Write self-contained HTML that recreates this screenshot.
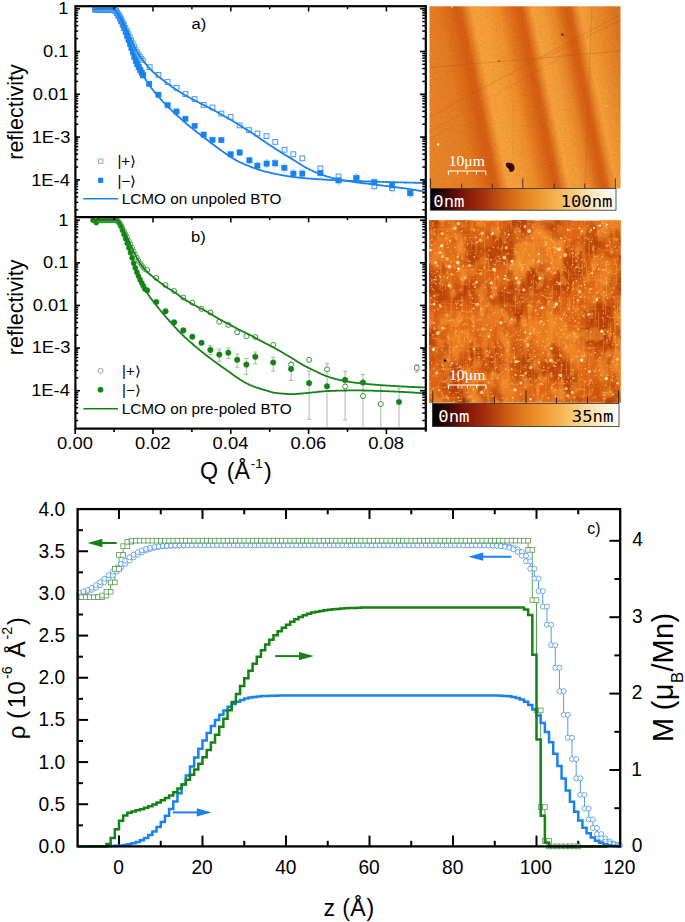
<!DOCTYPE html>
<html lang="en"><head><meta charset="utf-8"><title>Figure</title>
<style>html,body{margin:0;padding:0;background:#fff}svg{display:block}</style>
</head><body>
<svg width="685" height="922" viewBox="0 0 685 922">
<rect width="685" height="922" fill="#fff"/>
<defs>
<linearGradient id="afm1g" gradientUnits="userSpaceOnUse" x1="389.5" y1="6.3" x2="619.82" y2="-40.92">
<stop offset="0.0000" stop-color="#e98628"/>
<stop offset="0.1083" stop-color="#e78226"/>
<stop offset="0.1992" stop-color="#e47a20"/>
<stop offset="0.2450" stop-color="#dc6a18"/>
<stop offset="0.2742" stop-color="#d45d12"/>
<stop offset="0.2950" stop-color="#d66014"/>
<stop offset="0.3158" stop-color="#e58026"/>
<stop offset="0.3408" stop-color="#f7a03c"/>
<stop offset="0.3867" stop-color="#f59e3a"/>
<stop offset="0.4533" stop-color="#ee8e2c"/>
<stop offset="0.4808" stop-color="#e57a20"/>
<stop offset="0.5142" stop-color="#db6817"/>
<stop offset="0.5350" stop-color="#d45d12"/>
<stop offset="0.5517" stop-color="#d76215"/>
<stop offset="0.5725" stop-color="#e6842a"/>
<stop offset="0.5933" stop-color="#f7a03c"/>
<stop offset="0.6392" stop-color="#f29a38"/>
<stop offset="0.6833" stop-color="#e88528"/>
<stop offset="0.7125" stop-color="#db6a18"/>
<stop offset="0.7333" stop-color="#d45d12"/>
<stop offset="0.7500" stop-color="#d76215"/>
<stop offset="0.7708" stop-color="#e6842a"/>
<stop offset="0.7917" stop-color="#f59e3a"/>
<stop offset="0.8375" stop-color="#ee9230"/>
<stop offset="0.8958" stop-color="#e57f24"/>
<stop offset="0.9375" stop-color="#db721e"/>
<stop offset="1.0000" stop-color="#dd7620"/>
</linearGradient>
<linearGradient id="cbar" x1="0" y1="0" x2="1" y2="0">
<stop offset="0" stop-color="#000000"/>
<stop offset="0.07" stop-color="#300403"/>
<stop offset="0.17" stop-color="#7a1407"/>
<stop offset="0.29" stop-color="#a8300b"/>
<stop offset="0.4" stop-color="#cc5c12"/>
<stop offset="0.5" stop-color="#e2801e"/>
<stop offset="0.6" stop-color="#f09c34"/>
<stop offset="0.7" stop-color="#f8b858"/>
<stop offset="0.8" stop-color="#fcd490"/>
<stop offset="0.9" stop-color="#feecc8"/>
<stop offset="1" stop-color="#ffffff"/>
</linearGradient>
<filter id="grain1" x="0" y="0" width="1" height="1" color-interpolation-filters="sRGB"><feTurbulence type="fractalNoise" baseFrequency="0.55" numOctaves="2" seed="4"/><feColorMatrix type="matrix" values="0 0 0 0 0.45  0 0 0 0 0.18  0 0 0 0 0  1.4 0 0 0 -0.62"/></filter>
<filter id="grain1b" x="0" y="0" width="1" height="1" color-interpolation-filters="sRGB"><feTurbulence type="fractalNoise" baseFrequency="0.5" numOctaves="2" seed="11"/><feColorMatrix type="matrix" values="0 0 0 0 1  0 0 0 0 0.78  0 0 0 0 0.4  1.2 0 0 0 -0.55"/></filter>
<filter id="a2lo" x="0" y="0" width="1" height="1" color-interpolation-filters="sRGB"><feTurbulence type="fractalNoise" baseFrequency="0.03 0.022" numOctaves="3" seed="7"/><feColorMatrix type="matrix" values="0 0 0 0 0.95  0 0 0 0 0.55  0 0 0 0 0.17  4.2 0 0 0 -1.85"/></filter>
<filter id="a2dk" x="0" y="0" width="1" height="1" color-interpolation-filters="sRGB"><feTurbulence type="fractalNoise" baseFrequency="0.034 0.026" numOctaves="3" seed="23"/><feColorMatrix type="matrix" values="0 0 0 0 0.7  0 0 0 0 0.23  0 0 0 0 0.02  4.2 0 0 0 -1.78"/></filter>
<filter id="a2md" x="0" y="0" width="1" height="1" color-interpolation-filters="sRGB"><feTurbulence type="fractalNoise" baseFrequency="0.09 0.07" numOctaves="2" seed="41"/><feColorMatrix type="matrix" values="0 0 0 0 0.96  0 0 0 0 0.6  0 0 0 0 0.2  5.0 0 0 0 -2.6"/></filter>
<filter id="a2st" x="0" y="0" width="1" height="1" color-interpolation-filters="sRGB"><feTurbulence type="fractalNoise" baseFrequency="0.3 0.03" numOctaves="2" seed="5"/><feColorMatrix type="matrix" values="0 0 0 0 0.97  0 0 0 0 0.6  0 0 0 0 0.2  5.0 0 0 0 -2.85"/></filter>
<filter id="a2sth" x="0" y="0" width="1" height="1" color-interpolation-filters="sRGB"><feTurbulence type="fractalNoise" baseFrequency="0.03 0.28" numOctaves="2" seed="9"/><feColorMatrix type="matrix" values="0 0 0 0 0.96  0 0 0 0 0.56  0 0 0 0 0.18  5.0 0 0 0 -2.95"/></filter>
<filter id="a2sp" x="0" y="0" width="1" height="1" color-interpolation-filters="sRGB"><feTurbulence type="fractalNoise" baseFrequency="0.36" numOctaves="1" seed="2"/><feColorMatrix type="matrix" values="0 0 0 0 1  0 0 0 0 0.78  0 0 0 0 0.38  10 0 0 0 -6.5"/></filter>
<filter id="a2sp2" x="0" y="0" width="1" height="1" color-interpolation-filters="sRGB"><feTurbulence type="fractalNoise" baseFrequency="0.22" numOctaves="2" seed="31"/><feColorMatrix type="matrix" values="0 0 0 0 1  0 0 0 0 0.74  0 0 0 0 0.34  9 0 0 0 -5.9"/></filter>
<filter id="blur1" x="-0.5" y="-0.5" width="2" height="2"><feGaussianBlur stdDeviation="0.7"/></filter>
<clipPath id="clip1"><rect x="429.5" y="6.3" width="191" height="182.1"/></clipPath>
<clipPath id="clip2"><rect x="429.2" y="220.6" width="191.4" height="182"/></clipPath>
</defs>
<g id="afm1">
<rect x="429.5" y="6.3" width="191" height="182.1" fill="url(#afm1g)"/>
<rect x="429.5" y="6.3" width="191" height="182.1" filter="url(#grain1)" opacity="0.22"/>
<rect x="429.5" y="6.3" width="191" height="182.1" filter="url(#grain1b)" opacity="0.16"/>
<g clip-path="url(#clip1)" stroke="#a8520c" stroke-opacity="0.4" stroke-width="0.7" fill="none">
<line x1="429.4" y1="67.7" x2="620.5" y2="51.1"/>
<line x1="429.4" y1="116.8" x2="620.5" y2="14.6"/>
<line x1="429.4" y1="132" x2="560" y2="58" stroke-opacity="0.2"/>
<line x1="592" y1="6.3" x2="585.2" y2="188.4" stroke-opacity="0.35"/>
<line x1="512.6" y1="99" x2="512.6" y2="163" stroke-opacity="0.12"/>
<line x1="540" y1="60" x2="620.5" y2="20" stroke-opacity="0.35"/>
<line x1="455" y1="125" x2="429.4" y2="139" stroke-opacity="0.3"/>
</g>
<path d="M505.9 163.6 q2.2 -2 4.3 -0.6 q3.6 0.4 4.2 3.6 q0.6 3.6 -1.8 5 q-2.6 1.2 -3.4 -1.2 q0.2 -2 -1.5 -2.6 q-2.4 -1.4 -1.8 -4.2z" fill="#3a0a02" filter="url(#blur1)"/>
<circle cx="509.5" cy="167.2" r="1.6" fill="#120200"/>
<ellipse cx="562.4" cy="34.6" rx="1.7" ry="1.1" fill="#7a3408" transform="rotate(35 562.4 34.6)"/>
<circle cx="499" cy="61" r="1" fill="#a8520c"/>
<circle cx="438.1" cy="144.6" r="1.3" fill="#ffe9a8"/>
<circle cx="606" cy="106" r="0.8" fill="#ffd890" opacity="0.8"/>
<circle cx="452" cy="6.9" r="0.9" fill="#ffd890" opacity="0.8"/>
<g stroke="#fff" stroke-width="1" fill="none">
<path d="M448.4 175.2V171H485.8V175.2M457.7 171v3.4M467.1 171v3.8M476.4 171v3.4"/>
</g>
<text x="448.7" y="166.2" font-size="14" fill="#fff" font-family='"Liberation Serif", "DejaVu Serif", serif' textLength="36.2" lengthAdjust="spacingAndGlyphs">10μm</text>
<g stroke="#3a2a20" stroke-width="0.9">
<line x1="430.6" y1="178.3" x2="430.6" y2="188.6"/>
<line x1="522.8" y1="178.3" x2="522.8" y2="188.6"/>
<line x1="615.3" y1="178.3" x2="615.3" y2="188.6"/>
<line x1="461.7" y1="183.6" x2="461.7" y2="188.6"/>
<line x1="492.3" y1="183.6" x2="492.3" y2="188.6"/>
<line x1="554.2" y1="183.6" x2="554.2" y2="188.6"/>
<line x1="584.7" y1="183.6" x2="584.7" y2="188.6"/>
</g>
<rect x="430.3" y="188.6" width="185.7" height="21.6" fill="url(#cbar)" stroke="#2a2a2a" stroke-width="0.8"/>
<text x="433.3" y="206.5" font-size="16.4" fill="#fff" textLength="31.2" lengthAdjust="spacingAndGlyphs" font-family='"DejaVu Sans Mono", "Liberation Mono", monospace'>0nm</text>
<text x="560.5" y="206.5" font-size="16.4" fill="#000" textLength="52" lengthAdjust="spacingAndGlyphs" font-family='"DejaVu Sans Mono", "Liberation Mono", monospace'>100nm</text>
</g>
<g id="afm2">
<rect x="429.2" y="220.6" width="191.4" height="182" fill="#dc6414"/>
<rect x="429.2" y="220.6" width="191.4" height="182" filter="url(#a2lo)" opacity="0.8"/>
<rect x="429.2" y="220.6" width="191.4" height="182" filter="url(#a2dk)" opacity="0.85"/>
<rect x="429.2" y="220.6" width="191.4" height="182" filter="url(#a2md)" opacity="0.55"/>
<rect x="429.2" y="220.6" width="191.4" height="182" filter="url(#a2st)" opacity="0.45"/>
<rect x="429.2" y="220.6" width="191.4" height="182" filter="url(#a2sth)" opacity="0.35"/>
<rect x="429.2" y="220.6" width="191.4" height="182" filter="url(#a2sp)" opacity="0.55"/>
<rect x="429.2" y="220.6" width="191.4" height="182" filter="url(#a2sp2)" opacity="0.5"/>
<g><circle cx="520.08" cy="339.95" r="0.88" fill="#ffd27e" opacity="0.61"/><circle cx="432.26" cy="289.06" r="0.69" fill="#ffd27e" opacity="0.91"/><circle cx="561" cy="329.86" r="0.83" fill="#ffd27e" opacity="0.85"/><circle cx="457.72" cy="300.81" r="0.63" fill="#ffd27e" opacity="0.96"/><circle cx="441.34" cy="368.99" r="0.59" fill="#ffd27e" opacity="0.86"/><circle cx="494.03" cy="294.43" r="1.02" fill="#ffd27e" opacity="0.58"/><circle cx="603.51" cy="313.21" r="0.6" fill="#ffd27e" opacity="0.99"/><circle cx="609.51" cy="241.85" r="0.76" fill="#ffd27e" opacity="0.61"/><circle cx="489.4" cy="333.46" r="0.63" fill="#ffd27e" opacity="0.86"/><circle cx="439.93" cy="252.42" r="1.36" fill="#ffe3a4" opacity="0.74"/><circle cx="543.08" cy="307.42" r="0.74" fill="#ffd27e" opacity="0.56"/><circle cx="567.77" cy="395.74" r="1.6" fill="#ffe3a4" opacity="0.71"/><circle cx="498.98" cy="345.82" r="0.89" fill="#ffd27e" opacity="0.6"/><circle cx="474.7" cy="287" r="0.81" fill="#ffd27e" opacity="0.91"/><circle cx="524.9" cy="226.67" r="1.39" fill="#ffe3a4" opacity="0.78"/><circle cx="472.28" cy="298.5" r="0.74" fill="#ffd27e" opacity="0.9"/><circle cx="449.63" cy="320.59" r="0.64" fill="#ffd27e" opacity="0.86"/><circle cx="437.18" cy="271.38" r="0.72" fill="#ffd27e" opacity="0.84"/><circle cx="440.06" cy="304.27" r="0.65" fill="#ffd27e" opacity="0.68"/><circle cx="520.4" cy="394.17" r="0.79" fill="#ffd27e" opacity="0.98"/><circle cx="461.94" cy="387.96" r="0.73" fill="#ffd27e" opacity="0.64"/><circle cx="571.97" cy="385.77" r="0.55" fill="#ffd27e" opacity="0.67"/><circle cx="576.17" cy="283.12" r="0.67" fill="#ffd27e" opacity="0.55"/><circle cx="437.78" cy="333.03" r="1.9" fill="#ffe3a4" opacity="0.78"/><circle cx="434.73" cy="279.64" r="0.94" fill="#ffd27e" opacity="0.92"/><circle cx="551.3" cy="262.91" r="0.81" fill="#ffd27e" opacity="0.76"/><circle cx="548.95" cy="268.88" r="1.8" fill="#ffe3a4" opacity="0.62"/><circle cx="485.38" cy="378.77" r="0.69" fill="#ffd27e" opacity="0.97"/><circle cx="527.77" cy="346.87" r="0.9" fill="#ffd27e" opacity="0.65"/><circle cx="484.18" cy="267.49" r="0.89" fill="#ffd27e" opacity="0.86"/><circle cx="455.15" cy="381.16" r="0.76" fill="#ffd27e" opacity="0.66"/><circle cx="512.64" cy="397.91" r="0.83" fill="#ffd27e" opacity="0.83"/><circle cx="604.44" cy="394.76" r="0.93" fill="#ffd27e" opacity="0.74"/><circle cx="541.65" cy="383.77" r="0.94" fill="#ffd27e" opacity="0.81"/><circle cx="496.01" cy="287.92" r="0.92" fill="#ffd27e" opacity="0.8"/><circle cx="433.44" cy="349.42" r="1.72" fill="#ffe3a4" opacity="0.95"/><circle cx="602.65" cy="317.89" r="0.94" fill="#ffd27e" opacity="0.72"/><circle cx="448.82" cy="285.17" r="0.71" fill="#ffd27e" opacity="0.97"/><circle cx="560.72" cy="319.09" r="0.86" fill="#ffd27e" opacity="0.61"/><circle cx="531.39" cy="347.71" r="0.75" fill="#ffd27e" opacity="0.66"/><circle cx="507.26" cy="279.85" r="0.89" fill="#ffd27e" opacity="0.61"/><circle cx="447.35" cy="277.85" r="0.9" fill="#ffd27e" opacity="0.89"/><circle cx="555.09" cy="389.85" r="0.73" fill="#ffd27e" opacity="0.56"/><circle cx="522.59" cy="301.46" r="0.64" fill="#ffd27e" opacity="0.85"/><circle cx="494.84" cy="264.5" r="0.71" fill="#ffd27e" opacity="0.97"/><circle cx="431.66" cy="286.46" r="0.69" fill="#ffd27e" opacity="0.64"/><circle cx="512.11" cy="261.27" r="1.45" fill="#ffe3a4" opacity="0.86"/><circle cx="460.95" cy="305.23" r="0.85" fill="#ffd27e" opacity="0.93"/><circle cx="477.53" cy="304.33" r="1.75" fill="#ffe3a4" opacity="0.65"/><circle cx="532.1" cy="358.63" r="0.75" fill="#ffd27e" opacity="0.85"/><circle cx="555.82" cy="396.64" r="0.83" fill="#ffd27e" opacity="0.86"/><circle cx="496.53" cy="353.41" r="0.71" fill="#ffd27e" opacity="0.77"/><circle cx="498.54" cy="276.9" r="0.62" fill="#ffd27e" opacity="0.65"/><circle cx="533.29" cy="266.93" r="0.57" fill="#ffd27e" opacity="0.91"/><circle cx="484.3" cy="390.1" r="0.85" fill="#ffd27e" opacity="0.73"/><circle cx="595.56" cy="383.1" r="0.71" fill="#ffd27e" opacity="0.61"/><circle cx="551.59" cy="373.28" r="0.85" fill="#ffd27e" opacity="0.9"/><circle cx="508.31" cy="332.8" r="0.68" fill="#ffd27e" opacity="0.73"/><circle cx="502.11" cy="290.84" r="0.75" fill="#ffd27e" opacity="0.91"/><circle cx="462.37" cy="258.52" r="0.68" fill="#ffd27e" opacity="0.99"/><circle cx="529.21" cy="231.13" r="1.79" fill="#ffe3a4" opacity="0.92"/><circle cx="498.16" cy="353.84" r="0.7" fill="#ffd27e" opacity="0.61"/><circle cx="594.08" cy="371.55" r="0.66" fill="#ffd27e" opacity="0.95"/><circle cx="434.86" cy="277.11" r="0.56" fill="#ffd27e" opacity="0.63"/><circle cx="461.12" cy="350.45" r="0.7" fill="#ffd27e" opacity="0.64"/><circle cx="465.06" cy="277.75" r="1.55" fill="#ffe3a4" opacity="0.6"/><circle cx="559.94" cy="318.12" r="0.77" fill="#ffd27e" opacity="0.79"/><circle cx="553.59" cy="365.73" r="0.8" fill="#ffd27e" opacity="0.84"/><circle cx="518.7" cy="335.73" r="0.74" fill="#ffd27e" opacity="0.74"/><circle cx="528.05" cy="350.3" r="0.69" fill="#ffd27e" opacity="0.97"/><circle cx="523.3" cy="375.59" r="0.9" fill="#ffd27e" opacity="0.98"/><circle cx="559.46" cy="298.43" r="0.75" fill="#ffd27e" opacity="0.82"/><circle cx="572.98" cy="372.63" r="0.61" fill="#ffd27e" opacity="0.58"/><circle cx="450.68" cy="236.76" r="0.58" fill="#ffd27e" opacity="0.55"/><circle cx="477.46" cy="241.97" r="0.89" fill="#ffd27e" opacity="0.83"/><circle cx="613.1" cy="394.49" r="0.92" fill="#ffd27e" opacity="0.98"/><circle cx="435.52" cy="262.63" r="1.43" fill="#ffe3a4" opacity="0.64"/><circle cx="573.54" cy="297.84" r="0.82" fill="#ffd27e" opacity="0.69"/><circle cx="475.98" cy="237.29" r="0.85" fill="#ffd27e" opacity="0.98"/><circle cx="617.09" cy="359.34" r="1.33" fill="#ffe3a4" opacity="0.68"/><circle cx="605.11" cy="329.62" r="0.88" fill="#ffd27e" opacity="0.56"/><circle cx="473.48" cy="308.44" r="0.92" fill="#ffd27e" opacity="0.92"/><circle cx="573.63" cy="282.75" r="0.74" fill="#ffd27e" opacity="0.94"/><circle cx="617.62" cy="308.9" r="0.65" fill="#ffd27e" opacity="0.83"/><circle cx="531.7" cy="286.7" r="0.67" fill="#ffd27e" opacity="0.72"/><circle cx="546.19" cy="244.43" r="0.82" fill="#ffd27e" opacity="0.98"/><circle cx="571.29" cy="266.98" r="0.76" fill="#ffd27e" opacity="0.6"/><circle cx="569.8" cy="335.34" r="0.64" fill="#ffd27e" opacity="0.8"/><circle cx="543.05" cy="325.49" r="0.74" fill="#ffd27e" opacity="0.69"/><circle cx="497.41" cy="401.16" r="0.72" fill="#ffd27e" opacity="0.78"/><circle cx="517.31" cy="252.74" r="0.75" fill="#ffd27e" opacity="0.64"/><circle cx="491.25" cy="287.68" r="0.72" fill="#ffd27e" opacity="0.97"/><circle cx="486.43" cy="281.43" r="0.88" fill="#ffd27e" opacity="0.73"/><circle cx="527.88" cy="338.16" r="0.59" fill="#ffd27e" opacity="0.85"/><circle cx="449.36" cy="266.64" r="1.89" fill="#ffe3a4" opacity="0.85"/><circle cx="462.7" cy="300.49" r="0.69" fill="#ffd27e" opacity="0.93"/><circle cx="474.37" cy="256.92" r="0.87" fill="#ffd27e" opacity="0.84"/><circle cx="541.9" cy="307.79" r="1.41" fill="#ffe3a4" opacity="0.97"/><circle cx="504.4" cy="305.36" r="0.73" fill="#ffd27e" opacity="0.87"/><circle cx="572.53" cy="264.65" r="0.81" fill="#ffd27e" opacity="0.88"/><circle cx="525.2" cy="340.83" r="0.86" fill="#ffd27e" opacity="0.87"/><circle cx="497.49" cy="276.78" r="0.56" fill="#ffd27e" opacity="0.95"/><circle cx="579.8" cy="291.85" r="1.81" fill="#ffe3a4" opacity="0.62"/><circle cx="588.67" cy="297.35" r="0.71" fill="#ffd27e" opacity="0.67"/><circle cx="508.58" cy="230.92" r="0.58" fill="#ffd27e" opacity="0.6"/><circle cx="488.4" cy="250.13" r="0.61" fill="#ffd27e" opacity="0.92"/><circle cx="502.11" cy="309.85" r="0.85" fill="#ffd27e" opacity="0.97"/><circle cx="457.87" cy="262.65" r="1.82" fill="#ffe3a4" opacity="0.97"/><circle cx="530.28" cy="287.67" r="0.64" fill="#ffd27e" opacity="0.96"/><circle cx="575.15" cy="320.9" r="0.95" fill="#ffd27e" opacity="0.67"/><circle cx="531.29" cy="384.78" r="0.6" fill="#ffd27e" opacity="0.83"/><circle cx="465.31" cy="372.4" r="1.58" fill="#ffe3a4" opacity="0.75"/><circle cx="434.27" cy="310.53" r="0.73" fill="#ffd27e" opacity="0.73"/><circle cx="444.92" cy="387.25" r="0.81" fill="#ffd27e" opacity="0.8"/><circle cx="589.73" cy="382.94" r="0.82" fill="#ffd27e" opacity="0.79"/><circle cx="590.63" cy="288.66" r="1.02" fill="#ffd27e" opacity="0.91"/><circle cx="530.16" cy="333.63" r="1.2" fill="#ffe3a4" opacity="0.73"/><circle cx="581.65" cy="356.01" r="0.81" fill="#ffd27e" opacity="0.9"/><circle cx="558.47" cy="378.05" r="0.88" fill="#ffd27e" opacity="0.71"/><circle cx="484.52" cy="236.37" r="0.61" fill="#ffd27e" opacity="0.57"/><circle cx="614.98" cy="246.93" r="0.85" fill="#ffd27e" opacity="0.61"/><circle cx="613.2" cy="317.5" r="0.64" fill="#ffd27e" opacity="0.92"/><circle cx="593.11" cy="397.62" r="0.66" fill="#ffd27e" opacity="0.73"/><circle cx="555.35" cy="272.45" r="0.83" fill="#ffd27e" opacity="0.87"/><circle cx="572.54" cy="369.91" r="0.93" fill="#ffd27e" opacity="0.68"/><circle cx="573.3" cy="299.66" r="0.63" fill="#ffd27e" opacity="0.56"/><circle cx="548.06" cy="286.03" r="0.6" fill="#ffd27e" opacity="0.77"/><circle cx="508.78" cy="280.15" r="0.83" fill="#ffd27e" opacity="0.79"/><circle cx="530.54" cy="399.31" r="1.27" fill="#ffe3a4" opacity="0.94"/><circle cx="489.89" cy="390.26" r="0.58" fill="#ffd27e" opacity="0.69"/><circle cx="606.7" cy="340.66" r="0.9" fill="#ffd27e" opacity="0.64"/><circle cx="453.24" cy="394.34" r="0.58" fill="#ffd27e" opacity="0.63"/><circle cx="511.8" cy="369.06" r="0.89" fill="#ffd27e" opacity="1"/><circle cx="577.79" cy="300.31" r="1.28" fill="#ffe3a4" opacity="0.57"/><circle cx="611.91" cy="380.21" r="0.88" fill="#ffd27e" opacity="0.77"/><circle cx="468.79" cy="261.08" r="0.58" fill="#ffd27e" opacity="0.59"/><circle cx="520.94" cy="382.93" r="1.46" fill="#ffe3a4" opacity="0.85"/><circle cx="518.82" cy="361.31" r="0.9" fill="#ffd27e" opacity="0.99"/><circle cx="590.37" cy="343.63" r="0.85" fill="#ffd27e" opacity="0.63"/><circle cx="519.52" cy="302.18" r="0.63" fill="#ffd27e" opacity="0.64"/><circle cx="508.11" cy="253.25" r="0.86" fill="#ffd27e" opacity="0.7"/><circle cx="617.31" cy="344.74" r="0.81" fill="#ffd27e" opacity="0.75"/><circle cx="504.38" cy="257.67" r="1.82" fill="#ffe3a4" opacity="0.84"/><circle cx="553.33" cy="247.54" r="0.82" fill="#ffd27e" opacity="0.63"/><circle cx="491.62" cy="327.27" r="0.64" fill="#ffd27e" opacity="0.65"/><circle cx="568.55" cy="308.85" r="1.14" fill="#ffe3a4" opacity="0.59"/><circle cx="607.93" cy="331.18" r="0.9" fill="#ffd27e" opacity="0.8"/><circle cx="458.35" cy="397.6" r="0.8" fill="#ffd27e" opacity="0.96"/><circle cx="457.9" cy="271.14" r="0.82" fill="#ffd27e" opacity="0.66"/><circle cx="593.02" cy="268.53" r="0.59" fill="#ffd27e" opacity="0.62"/><circle cx="481.69" cy="392.2" r="1.6" fill="#ffe3a4" opacity="0.74"/><circle cx="438.05" cy="371.28" r="0.61" fill="#ffd27e" opacity="0.64"/><circle cx="512.6" cy="376.85" r="0.64" fill="#ffd27e" opacity="0.58"/><circle cx="602.04" cy="223.09" r="0.92" fill="#ffd27e" opacity="0.61"/><circle cx="486.82" cy="258.97" r="0.77" fill="#ffd27e" opacity="0.96"/><circle cx="589.29" cy="318.07" r="0.59" fill="#ffd27e" opacity="0.63"/><circle cx="486.14" cy="364.52" r="1.02" fill="#ffd27e" opacity="0.7"/><circle cx="612.05" cy="248.77" r="0.59" fill="#ffd27e" opacity="0.67"/><circle cx="598.61" cy="268.96" r="0.91" fill="#ffd27e" opacity="0.6"/><circle cx="554.82" cy="252.03" r="0.85" fill="#ffd27e" opacity="0.88"/><circle cx="596.62" cy="300.09" r="1.37" fill="#ffe3a4" opacity="0.98"/><circle cx="603.3" cy="401.35" r="0.6" fill="#ffd27e" opacity="0.67"/><circle cx="562.04" cy="380.98" r="0.68" fill="#ffd27e" opacity="0.9"/><circle cx="520.54" cy="222.32" r="0.59" fill="#ffd27e" opacity="0.55"/><circle cx="473.49" cy="389.49" r="0.89" fill="#ffd27e" opacity="0.94"/><circle cx="603.74" cy="292.3" r="0.9" fill="#ffd27e" opacity="0.84"/><circle cx="561.25" cy="238.27" r="1.14" fill="#ffe3a4" opacity="0.75"/><circle cx="560.43" cy="355.63" r="1.28" fill="#ffe3a4" opacity="0.68"/><circle cx="568.01" cy="230.07" r="1.28" fill="#ffe3a4" opacity="0.73"/><circle cx="489.46" cy="350.05" r="0.64" fill="#ffd27e" opacity="0.61"/><circle cx="442.73" cy="245.17" r="0.86" fill="#ffd27e" opacity="1"/><circle cx="431.32" cy="304.81" r="0.73" fill="#ffd27e" opacity="0.69"/><circle cx="495.29" cy="241.04" r="0.76" fill="#ffd27e" opacity="0.67"/><circle cx="441.5" cy="245.87" r="1.65" fill="#ffe3a4" opacity="0.99"/><circle cx="584.35" cy="354.52" r="0.66" fill="#ffd27e" opacity="0.6"/><circle cx="616.6" cy="344.81" r="0.91" fill="#ffd27e" opacity="0.61"/><circle cx="580.16" cy="317.96" r="0.59" fill="#ffd27e" opacity="0.64"/><circle cx="613.47" cy="333.68" r="0.6" fill="#ffd27e" opacity="0.59"/><circle cx="572.33" cy="284.99" r="0.79" fill="#ffd27e" opacity="0.61"/><circle cx="463.95" cy="311.11" r="0.76" fill="#ffd27e" opacity="0.63"/><circle cx="458.72" cy="301.67" r="0.61" fill="#ffd27e" opacity="0.58"/><circle cx="519.89" cy="230.82" r="0.92" fill="#ffd27e" opacity="0.9"/><circle cx="563.8" cy="392.86" r="0.63" fill="#ffd27e" opacity="0.74"/><circle cx="508.77" cy="234.62" r="1.04" fill="#ffd27e" opacity="0.99"/><circle cx="558.18" cy="398.85" r="0.58" fill="#ffd27e" opacity="0.95"/><circle cx="612.73" cy="361.67" r="0.84" fill="#ffd27e" opacity="0.84"/><circle cx="521.45" cy="375.17" r="0.84" fill="#ffd27e" opacity="0.8"/><circle cx="506.91" cy="334.67" r="0.84" fill="#ffd27e" opacity="0.97"/><circle cx="576.59" cy="280.98" r="0.91" fill="#ffd27e" opacity="0.66"/><circle cx="521.4" cy="316.28" r="0.91" fill="#ffd27e" opacity="0.58"/><circle cx="457.97" cy="254.48" r="0.86" fill="#ffd27e" opacity="0.63"/><circle cx="536.2" cy="380.3" r="0.76" fill="#ffd27e" opacity="0.65"/><circle cx="543.3" cy="295.65" r="0.77" fill="#ffd27e" opacity="0.63"/><circle cx="559.49" cy="283.69" r="1.45" fill="#ffe3a4" opacity="0.86"/><circle cx="605.3" cy="398.71" r="0.56" fill="#ffd27e" opacity="0.97"/><circle cx="449.79" cy="392.39" r="0.94" fill="#ffd27e" opacity="0.67"/><circle cx="565.68" cy="322.93" r="0.78" fill="#ffd27e" opacity="0.83"/><circle cx="516.67" cy="339.91" r="0.9" fill="#ffd27e" opacity="0.55"/><circle cx="551.27" cy="348.49" r="1.48" fill="#ffe3a4" opacity="0.79"/><circle cx="457.66" cy="256.84" r="1.06" fill="#ffd27e" opacity="0.96"/><circle cx="453.61" cy="290.74" r="0.86" fill="#ffd27e" opacity="0.56"/><circle cx="514.86" cy="365.31" r="0.74" fill="#ffd27e" opacity="0.63"/><circle cx="441.49" cy="392.28" r="0.6" fill="#ffd27e" opacity="0.85"/><circle cx="550.98" cy="271.98" r="0.83" fill="#ffd27e" opacity="0.86"/><circle cx="469.59" cy="265.64" r="1.19" fill="#ffe3a4" opacity="0.77"/><circle cx="516.33" cy="361.61" r="1.69" fill="#ffe3a4" opacity="0.83"/><circle cx="532.6" cy="238.1" r="0.84" fill="#ffd27e" opacity="0.74"/><circle cx="573.35" cy="289.3" r="0.61" fill="#ffd27e" opacity="0.72"/><circle cx="587.63" cy="310.98" r="0.88" fill="#ffd27e" opacity="0.58"/><circle cx="472.15" cy="269.47" r="0.79" fill="#ffd27e" opacity="0.6"/><circle cx="609.27" cy="281.22" r="0.55" fill="#ffd27e" opacity="0.66"/><circle cx="525.21" cy="332.45" r="1.08" fill="#ffd27e" opacity="0.99"/><circle cx="592.25" cy="314.21" r="0.87" fill="#ffd27e" opacity="0.69"/><circle cx="458.38" cy="223.43" r="1.8" fill="#ffe3a4" opacity="0.75"/><circle cx="544.19" cy="307.4" r="0.89" fill="#ffd27e" opacity="0.59"/><circle cx="573.03" cy="253.13" r="0.85" fill="#ffd27e" opacity="0.83"/><circle cx="590.79" cy="332.24" r="0.64" fill="#ffd27e" opacity="0.92"/><circle cx="501.05" cy="322.99" r="1.88" fill="#ffe3a4" opacity="0.6"/><circle cx="516.32" cy="278.19" r="1.36" fill="#ffe3a4" opacity="0.96"/><circle cx="580.51" cy="297.05" r="0.93" fill="#ffd27e" opacity="0.86"/><circle cx="452.39" cy="275.02" r="0.62" fill="#ffd27e" opacity="0.92"/><circle cx="505.11" cy="275.72" r="0.91" fill="#ffd27e" opacity="0.99"/><circle cx="456.94" cy="346.06" r="0.66" fill="#ffd27e" opacity="0.91"/><circle cx="571.5" cy="359.93" r="0.84" fill="#ffd27e" opacity="0.61"/><circle cx="591.53" cy="241.51" r="0.84" fill="#ffd27e" opacity="0.98"/><circle cx="481.03" cy="308.1" r="0.89" fill="#ffd27e" opacity="0.84"/><circle cx="491.48" cy="296.55" r="1.64" fill="#ffe3a4" opacity="0.63"/><circle cx="558.95" cy="374.97" r="0.85" fill="#ffd27e" opacity="0.95"/><circle cx="480.37" cy="273.71" r="1.23" fill="#ffe3a4" opacity="0.61"/><circle cx="458.28" cy="380.4" r="1.18" fill="#ffe3a4" opacity="0.88"/><circle cx="467.58" cy="333.46" r="0.56" fill="#ffd27e" opacity="0.81"/><circle cx="572.34" cy="312.48" r="0.86" fill="#ffd27e" opacity="0.6"/><circle cx="516.9" cy="362.63" r="0.74" fill="#ffd27e" opacity="0.88"/><circle cx="543.64" cy="367.03" r="0.92" fill="#ffd27e" opacity="0.69"/><circle cx="585.34" cy="368.63" r="0.76" fill="#ffd27e" opacity="0.87"/><circle cx="508.66" cy="325.3" r="0.71" fill="#ffd27e" opacity="0.76"/><circle cx="488.59" cy="382.6" r="0.86" fill="#ffd27e" opacity="0.83"/><circle cx="529.22" cy="305.18" r="0.64" fill="#ffd27e" opacity="0.84"/><circle cx="514.68" cy="283.51" r="0.81" fill="#ffd27e" opacity="0.61"/><circle cx="552.99" cy="362.52" r="0.73" fill="#ffd27e" opacity="0.62"/><circle cx="613.58" cy="333.15" r="0.71" fill="#ffd27e" opacity="0.59"/><circle cx="538.79" cy="261.06" r="1.64" fill="#ffe3a4" opacity="0.67"/><circle cx="507.3" cy="237.21" r="0.66" fill="#ffd27e" opacity="0.8"/><circle cx="597.37" cy="298.41" r="1.23" fill="#ffe3a4" opacity="0.6"/><circle cx="589.18" cy="289.57" r="0.69" fill="#ffd27e" opacity="0.75"/><circle cx="546.08" cy="261.19" r="0.6" fill="#ffd27e" opacity="0.82"/><circle cx="554.76" cy="322.48" r="0.63" fill="#ffd27e" opacity="0.94"/><circle cx="511.62" cy="319.17" r="1.12" fill="#ffe3a4" opacity="0.77"/><circle cx="510.46" cy="336.52" r="0.66" fill="#ffd27e" opacity="0.66"/><circle cx="473.19" cy="322.12" r="0.7" fill="#ffd27e" opacity="0.97"/><circle cx="595.16" cy="352.48" r="0.75" fill="#ffd27e" opacity="0.92"/><circle cx="538.92" cy="362.48" r="1.11" fill="#ffe3a4" opacity="0.89"/><circle cx="601.39" cy="294.51" r="0.72" fill="#ffd27e" opacity="0.56"/><circle cx="599.89" cy="258.83" r="0.55" fill="#ffd27e" opacity="0.59"/><circle cx="527.79" cy="344.5" r="1.6" fill="#ffe3a4" opacity="0.6"/><circle cx="606.35" cy="378.46" r="1.81" fill="#ffe3a4" opacity="0.93"/><circle cx="559.7" cy="359.69" r="0.56" fill="#ffd27e" opacity="1"/><circle cx="431.03" cy="298.19" r="0.83" fill="#ffd27e" opacity="0.78"/><circle cx="494.42" cy="313.06" r="0.71" fill="#ffd27e" opacity="0.85"/><circle cx="435.9" cy="283.65" r="0.88" fill="#ffd27e" opacity="0.76"/><circle cx="433.95" cy="304.26" r="1.47" fill="#ffe3a4" opacity="0.88"/><circle cx="502.72" cy="398.06" r="0.81" fill="#ffd27e" opacity="0.91"/><circle cx="548.76" cy="368.03" r="0.75" fill="#ffd27e" opacity="0.97"/><circle cx="617.35" cy="383.25" r="1.33" fill="#ffe3a4" opacity="0.7"/><circle cx="599.23" cy="370.23" r="0.85" fill="#ffd27e" opacity="0.8"/><circle cx="432.44" cy="322.25" r="0.58" fill="#ffd27e" opacity="0.79"/><circle cx="472.53" cy="330.95" r="0.63" fill="#ffd27e" opacity="0.7"/><circle cx="576.06" cy="325.9" r="0.62" fill="#ffd27e" opacity="0.99"/><circle cx="434.3" cy="295.89" r="0.91" fill="#ffd27e" opacity="0.81"/><circle cx="553.76" cy="384.17" r="0.6" fill="#ffd27e" opacity="0.78"/><circle cx="477.87" cy="329.49" r="0.78" fill="#ffd27e" opacity="0.83"/><circle cx="581.82" cy="311.92" r="0.76" fill="#ffd27e" opacity="0.8"/><circle cx="462.03" cy="385.91" r="0.75" fill="#ffd27e" opacity="0.77"/><circle cx="589.37" cy="371.61" r="1.64" fill="#ffe3a4" opacity="0.79"/><circle cx="511.59" cy="361.64" r="0.86" fill="#ffd27e" opacity="0.55"/><circle cx="536.84" cy="342.01" r="0.73" fill="#ffd27e" opacity="0.92"/><circle cx="570.64" cy="381.05" r="0.7" fill="#ffd27e" opacity="0.85"/><circle cx="536.48" cy="282.96" r="0.7" fill="#ffd27e" opacity="0.59"/><circle cx="588.56" cy="271.25" r="0.72" fill="#ffd27e" opacity="0.66"/><circle cx="535.64" cy="310.6" r="1.07" fill="#ffd27e" opacity="0.7"/><circle cx="588.43" cy="364.48" r="0.58" fill="#ffd27e" opacity="0.75"/><circle cx="618.28" cy="397.9" r="0.71" fill="#ffd27e" opacity="0.88"/><circle cx="492.87" cy="233.23" r="1.11" fill="#ffe3a4" opacity="1"/><circle cx="515.73" cy="375.09" r="0.79" fill="#ffd27e" opacity="0.96"/><circle cx="571.57" cy="252.65" r="0.56" fill="#ffd27e" opacity="0.63"/><circle cx="545.04" cy="241.42" r="0.59" fill="#ffd27e" opacity="0.72"/><circle cx="440.35" cy="276.9" r="0.87" fill="#ffd27e" opacity="0.65"/><circle cx="579.97" cy="268.52" r="0.73" fill="#ffd27e" opacity="0.73"/><circle cx="591.06" cy="230.22" r="1.09" fill="#ffd27e" opacity="0.99"/><circle cx="535.42" cy="356.61" r="0.81" fill="#ffd27e" opacity="0.85"/><circle cx="560.28" cy="247.88" r="0.65" fill="#ffd27e" opacity="0.96"/><circle cx="471.74" cy="265.34" r="0.58" fill="#ffd27e" opacity="0.87"/><circle cx="579.43" cy="228.31" r="1.1" fill="#ffe3a4" opacity="0.77"/><circle cx="527.55" cy="267.08" r="0.71" fill="#ffd27e" opacity="0.77"/><circle cx="578.55" cy="267.39" r="0.67" fill="#ffd27e" opacity="0.99"/><circle cx="480.41" cy="240.22" r="1.83" fill="#ffe3a4" opacity="0.65"/><circle cx="530.44" cy="378.77" r="0.71" fill="#ffd27e" opacity="0.7"/><circle cx="431.01" cy="244.9" r="0.85" fill="#ffd27e" opacity="0.77"/><circle cx="593.55" cy="301.77" r="0.69" fill="#ffd27e" opacity="0.73"/><circle cx="456.66" cy="308.01" r="0.9" fill="#ffd27e" opacity="0.63"/><circle cx="540.76" cy="401.2" r="0.9" fill="#ffd27e" opacity="0.69"/><circle cx="552.37" cy="241.39" r="0.6" fill="#ffd27e" opacity="0.91"/><circle cx="564.16" cy="334.01" r="0.83" fill="#ffd27e" opacity="0.71"/><circle cx="588.75" cy="314.31" r="1.66" fill="#ffe3a4" opacity="0.7"/><circle cx="584.62" cy="284.58" r="0.86" fill="#ffd27e" opacity="0.93"/><circle cx="610.65" cy="333.51" r="0.65" fill="#ffd27e" opacity="0.62"/><circle cx="587.47" cy="277" r="0.62" fill="#ffd27e" opacity="0.81"/><circle cx="509.28" cy="354.73" r="0.64" fill="#ffd27e" opacity="0.78"/><circle cx="611.25" cy="252.59" r="0.74" fill="#ffd27e" opacity="0.73"/><circle cx="454.83" cy="247.54" r="0.71" fill="#ffd27e" opacity="0.8"/><circle cx="456.16" cy="335.81" r="0.74" fill="#ffd27e" opacity="0.69"/><circle cx="591.31" cy="355.14" r="0.77" fill="#ffd27e" opacity="0.67"/><circle cx="526.74" cy="338.32" r="0.93" fill="#ffd27e" opacity="0.85"/><circle cx="430.4" cy="250.15" r="1.49" fill="#ffe3a4" opacity="0.78"/><circle cx="451.87" cy="363.18" r="1.28" fill="#ffe3a4" opacity="0.67"/><circle cx="444.03" cy="276.7" r="0.81" fill="#ffd27e" opacity="0.75"/><circle cx="431.83" cy="239.22" r="0.67" fill="#ffd27e" opacity="0.92"/><circle cx="612.9" cy="376.74" r="0.8" fill="#ffd27e" opacity="0.71"/><circle cx="599.79" cy="357.61" r="0.87" fill="#ffd27e" opacity="0.87"/><circle cx="607.8" cy="316.29" r="0.68" fill="#ffd27e" opacity="0.88"/><circle cx="606.45" cy="262.35" r="0.74" fill="#ffd27e" opacity="0.89"/><circle cx="581.82" cy="230.92" r="1.22" fill="#ffe3a4" opacity="0.61"/><circle cx="439.4" cy="304.65" r="0.78" fill="#ffd27e" opacity="0.63"/><circle cx="565.2" cy="255.01" r="1.9" fill="#ffe3a4" opacity="0.7"/><circle cx="434.46" cy="234.19" r="0.82" fill="#ffd27e" opacity="0.71"/><circle cx="577.69" cy="295.2" r="0.68" fill="#ffd27e" opacity="0.62"/><circle cx="618.06" cy="359.16" r="0.89" fill="#ffd27e" opacity="0.65"/><circle cx="514.14" cy="357.68" r="0.87" fill="#ffd27e" opacity="0.68"/><circle cx="496.55" cy="367.6" r="0.58" fill="#ffd27e" opacity="0.84"/><circle cx="563.93" cy="314.56" r="0.83" fill="#ffd27e" opacity="0.97"/><circle cx="491.62" cy="356.94" r="0.91" fill="#ffd27e" opacity="0.88"/><circle cx="442.93" cy="346.38" r="0.74" fill="#ffd27e" opacity="0.61"/><circle cx="602.15" cy="269.39" r="0.78" fill="#ffd27e" opacity="0.69"/><circle cx="451.42" cy="274" r="0.86" fill="#ffd27e" opacity="0.84"/><circle cx="571.79" cy="249" r="0.69" fill="#ffd27e" opacity="0.92"/><circle cx="529.56" cy="354.6" r="0.78" fill="#ffd27e" opacity="0.74"/><circle cx="436.46" cy="373.04" r="1.64" fill="#ffe3a4" opacity="0.65"/><circle cx="549.49" cy="344.02" r="0.69" fill="#ffd27e" opacity="0.72"/><circle cx="598.68" cy="268.9" r="0.86" fill="#ffd27e" opacity="0.57"/><circle cx="434.51" cy="229.37" r="0.7" fill="#ffd27e" opacity="0.97"/><circle cx="539.62" cy="308.73" r="0.62" fill="#ffd27e" opacity="0.8"/><circle cx="454.75" cy="233.63" r="0.72" fill="#ffd27e" opacity="0.67"/><circle cx="578.4" cy="323.13" r="0.87" fill="#ffd27e" opacity="0.68"/><circle cx="504.51" cy="242.11" r="0.69" fill="#ffd27e" opacity="1"/><circle cx="557.03" cy="282.19" r="0.86" fill="#ffd27e" opacity="0.96"/><circle cx="583.9" cy="316.12" r="0.63" fill="#ffd27e" opacity="0.57"/><circle cx="443.58" cy="369.27" r="0.94" fill="#ffd27e" opacity="0.87"/><circle cx="567.1" cy="246.8" r="0.84" fill="#ffd27e" opacity="0.55"/><circle cx="436.22" cy="333.14" r="0.55" fill="#ffd27e" opacity="0.74"/><circle cx="497" cy="378.14" r="0.73" fill="#ffd27e" opacity="0.64"/><circle cx="559" cy="249.37" r="1.83" fill="#ffe3a4" opacity="1"/><circle cx="547.33" cy="254.18" r="0.65" fill="#ffd27e" opacity="0.87"/><circle cx="513.37" cy="348.49" r="0.65" fill="#ffd27e" opacity="0.81"/><circle cx="592.11" cy="273.23" r="1.13" fill="#ffe3a4" opacity="0.85"/><circle cx="438.09" cy="265.49" r="0.59" fill="#ffd27e" opacity="0.64"/><circle cx="530.54" cy="367.73" r="1.82" fill="#ffe3a4" opacity="0.66"/><circle cx="607.75" cy="298.28" r="0.88" fill="#ffd27e" opacity="0.88"/><circle cx="481.74" cy="272.16" r="0.77" fill="#ffd27e" opacity="0.7"/><circle cx="568.22" cy="377.51" r="0.88" fill="#ffd27e" opacity="0.57"/><circle cx="581.26" cy="359.85" r="1.17" fill="#ffe3a4" opacity="0.97"/><circle cx="505.28" cy="321.53" r="0.65" fill="#ffd27e" opacity="0.66"/><circle cx="510.1" cy="323.03" r="0.68" fill="#ffd27e" opacity="0.8"/><circle cx="510.9" cy="261.04" r="0.87" fill="#ffd27e" opacity="0.69"/><circle cx="437.08" cy="265.05" r="0.76" fill="#ffd27e" opacity="0.83"/><circle cx="443.17" cy="381.6" r="0.59" fill="#ffd27e" opacity="0.98"/><circle cx="435.59" cy="277.01" r="0.72" fill="#ffd27e" opacity="0.85"/><circle cx="447.12" cy="258.93" r="1.83" fill="#ffe3a4" opacity="0.58"/><circle cx="448.86" cy="282.86" r="0.73" fill="#ffd27e" opacity="0.86"/><circle cx="608.63" cy="335.85" r="0.72" fill="#ffd27e" opacity="0.65"/><circle cx="442.23" cy="233.79" r="1.78" fill="#ffe3a4" opacity="0.72"/><circle cx="472.01" cy="376.91" r="0.67" fill="#ffd27e" opacity="0.73"/><circle cx="598.39" cy="226.02" r="0.73" fill="#ffd27e" opacity="0.64"/><circle cx="514.99" cy="389.91" r="1.68" fill="#ffe3a4" opacity="0.93"/><circle cx="501.54" cy="354.62" r="0.92" fill="#ffd27e" opacity="0.96"/><circle cx="499.25" cy="374.4" r="0.64" fill="#ffd27e" opacity="0.81"/><circle cx="609.73" cy="355.51" r="0.93" fill="#ffd27e" opacity="0.63"/><circle cx="500.72" cy="322.61" r="1.21" fill="#ffe3a4" opacity="0.79"/><circle cx="571.33" cy="345.55" r="0.68" fill="#ffd27e" opacity="0.59"/><circle cx="498.37" cy="256.43" r="0.83" fill="#ffd27e" opacity="0.79"/><circle cx="439.1" cy="390.15" r="1.17" fill="#ffe3a4" opacity="0.67"/><circle cx="611.61" cy="227.26" r="0.63" fill="#ffd27e" opacity="0.71"/><circle cx="589.96" cy="231.96" r="0.81" fill="#ffd27e" opacity="0.89"/><circle cx="548.92" cy="301.12" r="0.88" fill="#ffd27e" opacity="0.87"/><circle cx="521.86" cy="270.08" r="0.87" fill="#ffd27e" opacity="0.91"/><circle cx="448.62" cy="337.31" r="0.76" fill="#ffd27e" opacity="0.62"/><circle cx="492.28" cy="234.07" r="1.5" fill="#ffe3a4" opacity="0.75"/><circle cx="594.52" cy="370.68" r="0.75" fill="#ffd27e" opacity="0.56"/><circle cx="541.48" cy="263.5" r="0.85" fill="#ffd27e" opacity="0.59"/><circle cx="581.53" cy="374.96" r="0.64" fill="#ffd27e" opacity="0.92"/><circle cx="448.03" cy="247.44" r="0.83" fill="#ffd27e" opacity="0.66"/><circle cx="504.64" cy="288.19" r="0.93" fill="#ffd27e" opacity="0.9"/><circle cx="597.79" cy="264.52" r="0.68" fill="#ffd27e" opacity="0.92"/><circle cx="506.39" cy="242.28" r="0.8" fill="#ffd27e" opacity="0.66"/><circle cx="550.17" cy="294.42" r="0.63" fill="#ffd27e" opacity="0.89"/><circle cx="599.02" cy="249.05" r="0.66" fill="#ffd27e" opacity="0.77"/><circle cx="461.14" cy="394.74" r="0.77" fill="#ffd27e" opacity="0.58"/><circle cx="468.07" cy="260.8" r="0.68" fill="#ffd27e" opacity="0.82"/><circle cx="596.76" cy="292.91" r="0.82" fill="#ffd27e" opacity="0.98"/><circle cx="523.81" cy="289.96" r="1.61" fill="#ffe3a4" opacity="0.74"/><circle cx="584.52" cy="266.19" r="0.6" fill="#ffd27e" opacity="0.66"/><circle cx="493.14" cy="375.6" r="0.68" fill="#ffd27e" opacity="0.58"/><circle cx="450.8" cy="365.64" r="0.8" fill="#ffd27e" opacity="0.98"/><circle cx="493.49" cy="247.39" r="0.64" fill="#ffd27e" opacity="0.89"/><circle cx="525.63" cy="373.4" r="1.44" fill="#ffe3a4" opacity="0.59"/><circle cx="591.17" cy="380.43" r="0.84" fill="#ffd27e" opacity="0.79"/><circle cx="578.33" cy="286.03" r="0.56" fill="#ffd27e" opacity="0.98"/><circle cx="518.77" cy="282.58" r="1.82" fill="#ffe3a4" opacity="0.75"/><circle cx="570.77" cy="401.5" r="0.81" fill="#ffd27e" opacity="0.78"/><circle cx="608.03" cy="245.59" r="0.9" fill="#ffd27e" opacity="0.64"/><circle cx="491.6" cy="362.43" r="0.59" fill="#ffd27e" opacity="0.96"/><circle cx="566.25" cy="388.42" r="1.54" fill="#ffe3a4" opacity="0.73"/><circle cx="448.43" cy="385.83" r="0.94" fill="#ffd27e" opacity="0.69"/><circle cx="484.94" cy="395.41" r="0.71" fill="#ffd27e" opacity="0.63"/><circle cx="473.79" cy="349.04" r="1.24" fill="#ffe3a4" opacity="0.86"/><circle cx="543.62" cy="341.53" r="0.63" fill="#ffd27e" opacity="0.9"/><circle cx="449.72" cy="240.57" r="0.85" fill="#ffd27e" opacity="0.96"/><circle cx="560.83" cy="375.4" r="1.6" fill="#ffe3a4" opacity="0.97"/><circle cx="614.1" cy="372.29" r="0.62" fill="#ffd27e" opacity="0.68"/><circle cx="515.26" cy="319.97" r="0.78" fill="#ffd27e" opacity="0.95"/><circle cx="551.81" cy="387.68" r="1.04" fill="#ffd27e" opacity="0.68"/><circle cx="616.55" cy="240.05" r="0.74" fill="#ffd27e" opacity="0.63"/><circle cx="556.23" cy="304.06" r="1.87" fill="#ffe3a4" opacity="0.95"/><circle cx="489.05" cy="336.65" r="1.38" fill="#ffe3a4" opacity="0.75"/><circle cx="617.75" cy="324.39" r="0.56" fill="#ffd27e" opacity="0.8"/><circle cx="454.92" cy="228.26" r="1.68" fill="#ffe3a4" opacity="0.73"/><circle cx="607.33" cy="261.07" r="0.57" fill="#ffd27e" opacity="0.58"/><circle cx="522.69" cy="267.97" r="0.88" fill="#ffd27e" opacity="0.99"/><circle cx="520.41" cy="371.64" r="0.61" fill="#ffd27e" opacity="0.88"/><circle cx="469.85" cy="375.75" r="0.82" fill="#ffd27e" opacity="0.71"/><circle cx="504.14" cy="262.99" r="0.91" fill="#ffd27e" opacity="0.77"/><circle cx="456.99" cy="271.76" r="0.74" fill="#ffd27e" opacity="0.68"/><circle cx="460.65" cy="320.66" r="0.91" fill="#ffd27e" opacity="0.55"/><circle cx="560.48" cy="257.3" r="0.8" fill="#ffd27e" opacity="0.91"/><circle cx="485.74" cy="372.9" r="0.59" fill="#ffd27e" opacity="0.69"/><circle cx="430.55" cy="249.56" r="0.9" fill="#ffd27e" opacity="0.97"/><circle cx="576.13" cy="260.93" r="0.85" fill="#ffd27e" opacity="0.83"/><circle cx="482.23" cy="233.23" r="1.84" fill="#ffe3a4" opacity="0.7"/><circle cx="450.13" cy="364.9" r="0.65" fill="#ffd27e" opacity="0.57"/><circle cx="617.85" cy="257.74" r="0.67" fill="#ffd27e" opacity="0.85"/><circle cx="566.67" cy="338.06" r="0.63" fill="#ffd27e" opacity="0.95"/><circle cx="499.73" cy="258.57" r="0.94" fill="#ffd27e" opacity="0.65"/><circle cx="510.45" cy="268.91" r="0.79" fill="#ffd27e" opacity="0.89"/><circle cx="453.94" cy="401.5" r="0.8" fill="#ffd27e" opacity="0.93"/><circle cx="515.77" cy="288.82" r="0.83" fill="#ffd27e" opacity="0.58"/><circle cx="467.98" cy="243.26" r="0.64" fill="#ffd27e" opacity="0.67"/><circle cx="462.64" cy="387.12" r="0.57" fill="#ffd27e" opacity="0.67"/><circle cx="442.67" cy="327.89" r="1.5" fill="#ffe3a4" opacity="0.72"/><circle cx="578.35" cy="329.23" r="0.91" fill="#ffd27e" opacity="0.88"/><circle cx="479.47" cy="234.37" r="0.7" fill="#ffd27e" opacity="0.64"/><circle cx="570.86" cy="373.54" r="0.58" fill="#ffd27e" opacity="0.81"/><circle cx="532.19" cy="301.89" r="0.67" fill="#ffd27e" opacity="1"/><circle cx="581.67" cy="360.06" r="1.83" fill="#ffe3a4" opacity="0.95"/><circle cx="578.35" cy="341.94" r="0.56" fill="#ffd27e" opacity="0.69"/><circle cx="493.27" cy="361.59" r="0.57" fill="#ffd27e" opacity="0.88"/><circle cx="510.02" cy="240.02" r="0.74" fill="#ffd27e" opacity="0.67"/><circle cx="557.32" cy="268.11" r="0.67" fill="#ffd27e" opacity="0.92"/><circle cx="505.46" cy="360.51" r="0.62" fill="#ffd27e" opacity="0.72"/><circle cx="463.41" cy="266.13" r="0.8" fill="#ffd27e" opacity="0.94"/><circle cx="525.63" cy="378.9" r="0.72" fill="#ffd27e" opacity="0.58"/><circle cx="588.7" cy="273.92" r="0.7" fill="#ffd27e" opacity="0.86"/><circle cx="619.11" cy="317.64" r="0.81" fill="#ffd27e" opacity="0.65"/><circle cx="442.65" cy="285.79" r="0.66" fill="#ffd27e" opacity="0.79"/><circle cx="455.01" cy="267.79" r="0.69" fill="#ffd27e" opacity="0.56"/><circle cx="581.18" cy="285.86" r="0.9" fill="#ffd27e" opacity="0.88"/><circle cx="566.45" cy="315.41" r="0.65" fill="#ffd27e" opacity="0.82"/><circle cx="494.1" cy="269.63" r="1.8" fill="#ffe3a4" opacity="0.93"/><circle cx="601.78" cy="331.18" r="1.56" fill="#ffe3a4" opacity="0.95"/><circle cx="467.27" cy="254.72" r="0.6" fill="#ffd27e" opacity="0.73"/><circle cx="616.5" cy="323.96" r="0.69" fill="#ffd27e" opacity="0.84"/><circle cx="490.93" cy="330.2" r="0.91" fill="#ffd27e" opacity="0.87"/><circle cx="541.34" cy="295.25" r="0.64" fill="#ffd27e" opacity="0.59"/><circle cx="449.21" cy="285.65" r="1.78" fill="#ffe3a4" opacity="0.64"/><circle cx="568.27" cy="288.03" r="0.74" fill="#ffd27e" opacity="0.96"/><circle cx="541.19" cy="321.48" r="1.26" fill="#ffe3a4" opacity="0.68"/><circle cx="451.63" cy="273.98" r="0.91" fill="#ffd27e" opacity="0.58"/><circle cx="525.34" cy="249.82" r="0.8" fill="#ffd27e" opacity="0.57"/><circle cx="554.74" cy="306.95" r="1.21" fill="#ffe3a4" opacity="0.62"/><circle cx="539.85" cy="278.18" r="1.58" fill="#ffe3a4" opacity="0.94"/><circle cx="544.57" cy="346.78" r="0.68" fill="#ffd27e" opacity="0.78"/><circle cx="470.29" cy="341.17" r="0.77" fill="#ffd27e" opacity="0.96"/><circle cx="543.27" cy="352.63" r="0.6" fill="#ffd27e" opacity="0.99"/><circle cx="576.24" cy="267.13" r="0.89" fill="#ffd27e" opacity="0.86"/><circle cx="494.74" cy="273.64" r="0.59" fill="#ffd27e" opacity="0.61"/><circle cx="495.47" cy="271" r="0.65" fill="#ffd27e" opacity="0.95"/><circle cx="468.88" cy="291.53" r="0.61" fill="#ffd27e" opacity="0.74"/><circle cx="442.67" cy="256.74" r="1.53" fill="#ffe3a4" opacity="0.83"/><circle cx="530.17" cy="329.7" r="0.63" fill="#ffd27e" opacity="0.57"/><circle cx="536.61" cy="262.55" r="0.56" fill="#ffd27e" opacity="0.93"/><circle cx="546.52" cy="357.97" r="0.7" fill="#ffd27e" opacity="0.64"/><circle cx="575.97" cy="255.07" r="0.7" fill="#ffd27e" opacity="0.98"/><circle cx="556.1" cy="362.95" r="1.1" fill="#ffd27e" opacity="0.6"/><circle cx="478.05" cy="385.61" r="1.1" fill="#ffd27e" opacity="0.79"/><circle cx="440.5" cy="306.37" r="1.4" fill="#ffe3a4" opacity="0.67"/><circle cx="465.79" cy="361.82" r="0.81" fill="#ffd27e" opacity="0.56"/><circle cx="470.2" cy="237.6" r="0.78" fill="#ffd27e" opacity="0.62"/><circle cx="506.13" cy="247.75" r="1.67" fill="#ffe3a4" opacity="0.57"/><circle cx="564.57" cy="240.84" r="0.94" fill="#ffd27e" opacity="0.81"/><circle cx="573.97" cy="302.43" r="0.92" fill="#ffd27e" opacity="0.72"/><circle cx="555.52" cy="270.25" r="0.62" fill="#ffd27e" opacity="0.86"/><circle cx="607.45" cy="332.12" r="0.66" fill="#ffd27e" opacity="0.64"/><circle cx="470.4" cy="302.21" r="0.74" fill="#ffd27e" opacity="0.69"/><circle cx="543.65" cy="302.07" r="0.65" fill="#ffd27e" opacity="0.59"/><circle cx="549.74" cy="248.22" r="0.86" fill="#ffd27e" opacity="0.6"/><circle cx="504.49" cy="278.79" r="1.14" fill="#ffe3a4" opacity="0.95"/><circle cx="490.94" cy="259.88" r="0.8" fill="#ffd27e" opacity="0.95"/><circle cx="538.8" cy="253.92" r="1.18" fill="#ffe3a4" opacity="0.91"/><circle cx="572.36" cy="392.44" r="1.58" fill="#ffe3a4" opacity="0.85"/><circle cx="585.72" cy="381.48" r="0.71" fill="#ffd27e" opacity="0.92"/><circle cx="538.2" cy="332.65" r="0.73" fill="#ffd27e" opacity="0.82"/><circle cx="512.53" cy="263.82" r="0.86" fill="#ffd27e" opacity="0.66"/><circle cx="515.28" cy="374.71" r="0.9" fill="#ffd27e" opacity="0.59"/><circle cx="611.66" cy="238.12" r="0.66" fill="#ffd27e" opacity="0.56"/><circle cx="592.51" cy="276.15" r="0.59" fill="#ffd27e" opacity="0.7"/><circle cx="551.19" cy="279.23" r="0.56" fill="#ffd27e" opacity="0.71"/><circle cx="551.02" cy="360.24" r="1.84" fill="#ffe3a4" opacity="0.79"/><circle cx="476.72" cy="281.96" r="1.57" fill="#ffe3a4" opacity="0.8"/><circle cx="580.2" cy="291.1" r="0.75" fill="#ffd27e" opacity="0.81"/><circle cx="459.94" cy="366.28" r="0.93" fill="#ffd27e" opacity="0.68"/><circle cx="556.98" cy="284.84" r="0.63" fill="#ffd27e" opacity="0.56"/><circle cx="491.15" cy="282.99" r="1.52" fill="#ffe3a4" opacity="0.97"/></g>
<g stroke="#f6a84a" stroke-width="0.9" stroke-opacity="0.55"><line x1="568.65" y1="269.49" x2="568.65" y2="279.52"/><line x1="595.12" y1="262.23" x2="595.12" y2="268.6"/><line x1="467.98" y1="338.06" x2="467.98" y2="355.71"/><line x1="595.88" y1="366.03" x2="595.88" y2="373.78"/><line x1="606.36" y1="280.62" x2="606.36" y2="289.31"/><line x1="492.38" y1="373.65" x2="492.38" y2="382.24"/><line x1="582.39" y1="263.38" x2="582.39" y2="277.8"/><line x1="605.57" y1="300.97" x2="605.57" y2="314.6"/><line x1="586.49" y1="261.57" x2="586.49" y2="274.43"/><line x1="487.62" y1="234.35" x2="487.62" y2="239.46"/><line x1="533.85" y1="241.35" x2="533.85" y2="251.31"/><line x1="552.29" y1="285.37" x2="552.29" y2="300.02"/><line x1="469.43" y1="349.88" x2="469.43" y2="363.59"/><line x1="469.73" y1="297.05" x2="469.73" y2="301.16"/><line x1="552.85" y1="256.28" x2="552.85" y2="273.68"/><line x1="440.1" y1="323.8" x2="440.1" y2="333.54"/><line x1="507.79" y1="357.59" x2="507.79" y2="367.59"/><line x1="561.48" y1="364.4" x2="561.48" y2="380.45"/><line x1="571.89" y1="385" x2="571.89" y2="401.83"/><line x1="515.64" y1="244.32" x2="515.64" y2="250.01"/><line x1="458.82" y1="332.94" x2="458.82" y2="344.32"/><line x1="522.97" y1="249.22" x2="522.97" y2="258.81"/><line x1="482.34" y1="232.61" x2="482.34" y2="243.41"/><line x1="469.32" y1="278.2" x2="469.32" y2="288.28"/><line x1="507.1" y1="258.48" x2="507.1" y2="272.95"/><line x1="610.57" y1="323.64" x2="610.57" y2="340.57"/><line x1="598.98" y1="227.63" x2="598.98" y2="241.62"/><line x1="616.27" y1="267.73" x2="616.27" y2="281.95"/><line x1="537.47" y1="383.9" x2="537.47" y2="395.03"/><line x1="595.66" y1="298.53" x2="595.66" y2="303.31"/><line x1="529.08" y1="287.15" x2="529.08" y2="292.06"/><line x1="488.39" y1="254.39" x2="488.39" y2="271.02"/><line x1="598.72" y1="311.86" x2="598.72" y2="328.55"/><line x1="506.29" y1="331.35" x2="506.29" y2="344.9"/><line x1="613.78" y1="338.28" x2="613.78" y2="346.21"/><line x1="530.68" y1="354.67" x2="530.68" y2="369.66"/><line x1="477.52" y1="379.67" x2="477.52" y2="391.12"/><line x1="584.27" y1="379.76" x2="584.27" y2="395.39"/><line x1="462.03" y1="297.38" x2="462.03" y2="302.84"/><line x1="471.69" y1="240.12" x2="471.69" y2="247.55"/><line x1="449.51" y1="342.12" x2="449.51" y2="359.59"/><line x1="566.28" y1="363.22" x2="566.28" y2="376.07"/><line x1="523.7" y1="296.25" x2="523.7" y2="300.69"/><line x1="572.41" y1="245.31" x2="572.41" y2="261.77"/><line x1="480.27" y1="300.24" x2="480.27" y2="312.99"/><line x1="515.39" y1="295.1" x2="515.39" y2="313.06"/><line x1="582.99" y1="249.52" x2="582.99" y2="262.8"/><line x1="569.97" y1="271.29" x2="569.97" y2="276.86"/><line x1="532.83" y1="286.71" x2="532.83" y2="296.75"/><line x1="554.61" y1="237.7" x2="554.61" y2="249.87"/><line x1="589.71" y1="354.87" x2="589.71" y2="368.85"/><line x1="463.82" y1="274.85" x2="463.82" y2="283.45"/><line x1="616.05" y1="363.7" x2="616.05" y2="375.5"/><line x1="474.17" y1="338.7" x2="474.17" y2="355.68"/><line x1="612.45" y1="372.46" x2="612.45" y2="379.92"/><line x1="615.61" y1="339.03" x2="615.61" y2="354.24"/><line x1="458.91" y1="377.09" x2="458.91" y2="393.7"/><line x1="558.84" y1="335.31" x2="558.84" y2="347.24"/><line x1="495.25" y1="356.98" x2="495.25" y2="371.12"/><line x1="562.87" y1="319.89" x2="562.87" y2="335.27"/><line x1="514.49" y1="350.24" x2="514.49" y2="364.14"/><line x1="603.22" y1="291.81" x2="603.22" y2="309.14"/><line x1="471.91" y1="308.47" x2="471.91" y2="319.54"/><line x1="609.4" y1="332.7" x2="609.4" y2="341.2"/><line x1="462.4" y1="303.44" x2="462.4" y2="312.72"/><line x1="493.73" y1="286.07" x2="493.73" y2="298.77"/><line x1="559.2" y1="240.39" x2="559.2" y2="245.92"/><line x1="569.61" y1="297.86" x2="569.61" y2="313.3"/><line x1="463.36" y1="366.18" x2="463.36" y2="380.32"/><line x1="548.44" y1="376.8" x2="548.44" y2="383.15"/></g>
<rect x="444" y="359.5" width="2.2" height="2.2" fill="#1a0400"/>
<circle cx="458.5" cy="268.8" r="1.3" fill="#fff"/>
<circle cx="600" cy="225.5" r="1.1" fill="#fff"/><circle cx="607" cy="224.6" r="0.9" fill="#fff"/><circle cx="594" cy="228" r="0.9" fill="#fff"/>
<g stroke="#fff" stroke-width="1" fill="none">
<path d="M448.6 389.2V385H486V389.2M458 385v3.4M467.3 385v3.8M476.6 385v3.4"/>
</g>
<text x="449" y="380.2" font-size="14" fill="#fff" font-family='"Liberation Serif", "DejaVu Serif", serif' textLength="36.4" lengthAdjust="spacingAndGlyphs">10μm</text>
<g stroke="#2a1a10" stroke-width="0.9">
<line x1="432.8" y1="390.5" x2="432.8" y2="403.6"/>
<line x1="526" y1="390.5" x2="526" y2="403.6"/>
<line x1="618.5" y1="390.5" x2="618.5" y2="403.6"/>
<line x1="464" y1="397" x2="464" y2="403.6"/>
<line x1="494.5" y1="397" x2="494.5" y2="403.6"/>
<line x1="556.5" y1="397" x2="556.5" y2="403.6"/>
<line x1="587.6" y1="397" x2="587.6" y2="403.6"/>
</g>
<rect x="432.6" y="403.6" width="186.4" height="23" fill="url(#cbar)" stroke="#2a2a2a" stroke-width="0.8"/>
<text x="438.3" y="421.8" font-size="16.4" fill="#fff" textLength="31.2" lengthAdjust="spacingAndGlyphs" font-family='"DejaVu Sans Mono", "Liberation Mono", monospace'>0nm</text>
<text x="571.8" y="421.8" font-size="16.4" fill="#000" textLength="41.6" lengthAdjust="spacingAndGlyphs" font-family='"DejaVu Sans Mono", "Liberation Mono", monospace'>35nm</text>
</g>
<g id="panel-a">
<g>
<rect x="92.6" y="6.7" width="5.4" height="5.4" fill="#1a82ee" stroke="#1a82ee" stroke-width="0.6"/>
<rect x="94.05" y="6.7" width="5.4" height="5.4" fill="#1a82ee" stroke="#1a82ee" stroke-width="0.6"/>
<rect x="95.5" y="6.7" width="5.4" height="5.4" fill="#1a82ee" stroke="#1a82ee" stroke-width="0.6"/>
<rect x="96.95" y="6.7" width="5.4" height="5.4" fill="#1a82ee" stroke="#1a82ee" stroke-width="0.6"/>
<rect x="98.4" y="6.7" width="5.4" height="5.4" fill="#1a82ee" stroke="#1a82ee" stroke-width="0.6"/>
<rect x="99.85" y="6.7" width="5.4" height="5.4" fill="#1a82ee" stroke="#1a82ee" stroke-width="0.6"/>
<rect x="101.3" y="6.7" width="5.4" height="5.4" fill="#1a82ee" stroke="#1a82ee" stroke-width="0.6"/>
<rect x="102.75" y="6.7" width="5.4" height="5.4" fill="#1a82ee" stroke="#1a82ee" stroke-width="0.6"/>
<rect x="104.2" y="6.7" width="5.4" height="5.4" fill="#1a82ee" stroke="#1a82ee" stroke-width="0.6"/>
<rect x="105.65" y="6.7" width="5.4" height="5.4" fill="#1a82ee" stroke="#1a82ee" stroke-width="0.6"/>
<rect x="107.1" y="6.7" width="5.4" height="5.4" fill="#1a82ee" stroke="#1a82ee" stroke-width="0.6"/>
<rect x="108.55" y="6.7" width="5.4" height="5.4" fill="#1a82ee" stroke="#1a82ee" stroke-width="0.6"/>
<rect x="110" y="6.7" width="5.4" height="5.4" fill="#1a82ee" stroke="#1a82ee" stroke-width="0.6"/>
<rect x="111.45" y="7.15" width="5.4" height="5.4" fill="#1a82ee" stroke="#1a82ee" stroke-width="0.6"/>
<rect x="112.9" y="8.39" width="5.4" height="5.4" fill="#1a82ee" stroke="#1a82ee" stroke-width="0.6"/>
<rect x="114.35" y="10.39" width="5.4" height="5.4" fill="#1a82ee" stroke="#1a82ee" stroke-width="0.6"/>
<rect x="115.8" y="12.86" width="5.4" height="5.4" fill="#1a82ee" stroke="#1a82ee" stroke-width="0.6"/>
<rect x="117.25" y="15.58" width="5.4" height="5.4" fill="#1a82ee" stroke="#1a82ee" stroke-width="0.6"/>
<rect x="118.7" y="18.58" width="5.4" height="5.4" fill="#1a82ee" stroke="#1a82ee" stroke-width="0.6"/>
<rect x="120.15" y="21.8" width="5.4" height="5.4" fill="#1a82ee" stroke="#1a82ee" stroke-width="0.6"/>
<rect x="121.6" y="25.35" width="5.4" height="5.4" fill="#1a82ee" stroke="#1a82ee" stroke-width="0.6"/>
<rect x="123.05" y="29.16" width="5.4" height="5.4" fill="#1a82ee" stroke="#1a82ee" stroke-width="0.6"/>
<rect x="124.5" y="33.03" width="5.4" height="5.4" fill="#1a82ee" stroke="#1a82ee" stroke-width="0.6"/>
<rect x="125.95" y="36.94" width="5.4" height="5.4" fill="#1a82ee" stroke="#1a82ee" stroke-width="0.6"/>
<rect x="127.4" y="40.95" width="5.4" height="5.4" fill="#1a82ee" stroke="#1a82ee" stroke-width="0.6"/>
<rect x="128.85" y="45.07" width="5.4" height="5.4" fill="#1a82ee" stroke="#1a82ee" stroke-width="0.6"/>
<rect x="130.3" y="49.47" width="5.4" height="5.4" fill="#1a82ee" stroke="#1a82ee" stroke-width="0.6"/>
<rect x="131.75" y="54.01" width="5.4" height="5.4" fill="#1a82ee" stroke="#1a82ee" stroke-width="0.6"/>
<rect x="133.2" y="58" width="5.4" height="5.4" fill="#1a82ee" stroke="#1a82ee" stroke-width="0.6"/>
<rect x="134.65" y="61.35" width="5.4" height="5.4" fill="#1a82ee" stroke="#1a82ee" stroke-width="0.6"/>
<rect x="136.1" y="64.39" width="5.4" height="5.4" fill="#1a82ee" stroke="#1a82ee" stroke-width="0.6"/>
<rect x="137.55" y="67.22" width="5.4" height="5.4" fill="#1a82ee" stroke="#1a82ee" stroke-width="0.6"/>
<rect x="139" y="69.96" width="5.4" height="5.4" fill="#1a82ee" stroke="#1a82ee" stroke-width="0.6"/>
<rect x="140.45" y="72.62" width="5.4" height="5.4" fill="#1a82ee" stroke="#1a82ee" stroke-width="0.6"/>
<rect x="93.2" y="6.9" width="4.2" height="4.2" fill="none" stroke="#5aa0ee" stroke-width="0.9"/>
<rect x="94.65" y="6.9" width="4.2" height="4.2" fill="none" stroke="#5aa0ee" stroke-width="0.9"/>
<rect x="96.1" y="6.9" width="4.2" height="4.2" fill="none" stroke="#5aa0ee" stroke-width="0.9"/>
<rect x="97.55" y="6.9" width="4.2" height="4.2" fill="none" stroke="#5aa0ee" stroke-width="0.9"/>
<rect x="99" y="6.9" width="4.2" height="4.2" fill="none" stroke="#5aa0ee" stroke-width="0.9"/>
<rect x="100.45" y="6.9" width="4.2" height="4.2" fill="none" stroke="#5aa0ee" stroke-width="0.9"/>
<rect x="101.9" y="6.9" width="4.2" height="4.2" fill="none" stroke="#5aa0ee" stroke-width="0.9"/>
<rect x="103.35" y="6.9" width="4.2" height="4.2" fill="none" stroke="#5aa0ee" stroke-width="0.9"/>
<rect x="104.8" y="6.9" width="4.2" height="4.2" fill="none" stroke="#5aa0ee" stroke-width="0.9"/>
<rect x="106.25" y="6.9" width="4.2" height="4.2" fill="none" stroke="#5aa0ee" stroke-width="0.9"/>
<rect x="107.7" y="6.9" width="4.2" height="4.2" fill="none" stroke="#5aa0ee" stroke-width="0.9"/>
<rect x="109.15" y="6.9" width="4.2" height="4.2" fill="none" stroke="#5aa0ee" stroke-width="0.9"/>
<rect x="110.6" y="6.9" width="4.2" height="4.2" fill="none" stroke="#5aa0ee" stroke-width="0.9"/>
<rect x="112.05" y="7.26" width="4.2" height="4.2" fill="none" stroke="#5aa0ee" stroke-width="0.9"/>
<rect x="113.5" y="8.28" width="4.2" height="4.2" fill="none" stroke="#5aa0ee" stroke-width="0.9"/>
<rect x="114.95" y="9.89" width="4.2" height="4.2" fill="none" stroke="#5aa0ee" stroke-width="0.9"/>
<rect x="116.4" y="11.91" width="4.2" height="4.2" fill="none" stroke="#5aa0ee" stroke-width="0.9"/>
<rect x="117.85" y="14.17" width="4.2" height="4.2" fill="none" stroke="#5aa0ee" stroke-width="0.9"/>
<rect x="119.3" y="16.68" width="4.2" height="4.2" fill="none" stroke="#5aa0ee" stroke-width="0.9"/>
<rect x="120.75" y="19.36" width="4.2" height="4.2" fill="none" stroke="#5aa0ee" stroke-width="0.9"/>
<rect x="122.2" y="22.34" width="4.2" height="4.2" fill="none" stroke="#5aa0ee" stroke-width="0.9"/>
<rect x="123.65" y="25.49" width="4.2" height="4.2" fill="none" stroke="#5aa0ee" stroke-width="0.9"/>
<rect x="125.1" y="28.62" width="4.2" height="4.2" fill="none" stroke="#5aa0ee" stroke-width="0.9"/>
<rect x="126.55" y="31.71" width="4.2" height="4.2" fill="none" stroke="#5aa0ee" stroke-width="0.9"/>
<rect x="128" y="34.81" width="4.2" height="4.2" fill="none" stroke="#5aa0ee" stroke-width="0.9"/>
<rect x="129.45" y="37.88" width="4.2" height="4.2" fill="none" stroke="#5aa0ee" stroke-width="0.9"/>
<rect x="130.9" y="40.99" width="4.2" height="4.2" fill="none" stroke="#5aa0ee" stroke-width="0.9"/>
<rect x="132.35" y="44.12" width="4.2" height="4.2" fill="none" stroke="#5aa0ee" stroke-width="0.9"/>
<rect x="133.8" y="47.12" width="4.2" height="4.2" fill="none" stroke="#5aa0ee" stroke-width="0.9"/>
<rect x="135.25" y="49.82" width="4.2" height="4.2" fill="none" stroke="#5aa0ee" stroke-width="0.9"/>
<rect x="136.7" y="52.24" width="4.2" height="4.2" fill="none" stroke="#5aa0ee" stroke-width="0.9"/>
<rect x="138.15" y="54.44" width="4.2" height="4.2" fill="none" stroke="#5aa0ee" stroke-width="0.9"/>
<rect x="139.6" y="56.48" width="4.2" height="4.2" fill="none" stroke="#5aa0ee" stroke-width="0.9"/>
<rect x="141.05" y="58.43" width="4.2" height="4.2" fill="none" stroke="#5aa0ee" stroke-width="0.9"/>
</g>
<line x1="239.6" y1="149.5" x2="239.6" y2="155.5" stroke="#a6c9f2" stroke-width="0.6" />
<line x1="238.1" y1="149.5" x2="241.1" y2="149.5" stroke="#a6c9f2" stroke-width="0.6" />
<line x1="238.1" y1="155.5" x2="241.1" y2="155.5" stroke="#a6c9f2" stroke-width="0.6" />
<line x1="249.4" y1="157" x2="249.4" y2="163.5" stroke="#a6c9f2" stroke-width="0.6" />
<line x1="247.9" y1="157" x2="250.9" y2="157" stroke="#a6c9f2" stroke-width="0.6" />
<line x1="247.9" y1="163.5" x2="250.9" y2="163.5" stroke="#a6c9f2" stroke-width="0.6" />
<line x1="257.4" y1="162" x2="257.4" y2="169.5" stroke="#a6c9f2" stroke-width="0.6" />
<line x1="255.9" y1="162" x2="258.9" y2="162" stroke="#a6c9f2" stroke-width="0.6" />
<line x1="255.9" y1="169.5" x2="258.9" y2="169.5" stroke="#a6c9f2" stroke-width="0.6" />
<line x1="266.6" y1="159.5" x2="266.6" y2="167.5" stroke="#a6c9f2" stroke-width="0.6" />
<line x1="265.1" y1="159.5" x2="268.1" y2="159.5" stroke="#a6c9f2" stroke-width="0.6" />
<line x1="265.1" y1="167.5" x2="268.1" y2="167.5" stroke="#a6c9f2" stroke-width="0.6" />
<line x1="275.2" y1="159.5" x2="275.2" y2="167" stroke="#a6c9f2" stroke-width="0.6" />
<line x1="273.7" y1="159.5" x2="276.7" y2="159.5" stroke="#a6c9f2" stroke-width="0.6" />
<line x1="273.7" y1="167" x2="276.7" y2="167" stroke="#a6c9f2" stroke-width="0.6" />
<line x1="284.4" y1="163.5" x2="284.4" y2="172" stroke="#a6c9f2" stroke-width="0.6" />
<line x1="282.9" y1="163.5" x2="285.9" y2="163.5" stroke="#a6c9f2" stroke-width="0.6" />
<line x1="282.9" y1="172" x2="285.9" y2="172" stroke="#a6c9f2" stroke-width="0.6" />
<line x1="293.4" y1="169.5" x2="293.4" y2="177.5" stroke="#a6c9f2" stroke-width="0.6" />
<line x1="291.9" y1="169.5" x2="294.9" y2="169.5" stroke="#a6c9f2" stroke-width="0.6" />
<line x1="291.9" y1="177.5" x2="294.9" y2="177.5" stroke="#a6c9f2" stroke-width="0.6" />
<line x1="302.3" y1="169.5" x2="302.3" y2="177.5" stroke="#a6c9f2" stroke-width="0.6" />
<line x1="300.8" y1="169.5" x2="303.8" y2="169.5" stroke="#a6c9f2" stroke-width="0.6" />
<line x1="300.8" y1="177.5" x2="303.8" y2="177.5" stroke="#a6c9f2" stroke-width="0.6" />
<line x1="320.4" y1="169" x2="320.4" y2="177.5" stroke="#a6c9f2" stroke-width="0.6" />
<line x1="318.9" y1="169" x2="321.9" y2="169" stroke="#a6c9f2" stroke-width="0.6" />
<line x1="318.9" y1="177.5" x2="321.9" y2="177.5" stroke="#a6c9f2" stroke-width="0.6" />
<line x1="338.5" y1="176" x2="338.5" y2="185" stroke="#a6c9f2" stroke-width="0.6" />
<line x1="337" y1="176" x2="340" y2="176" stroke="#a6c9f2" stroke-width="0.6" />
<line x1="337" y1="185" x2="340" y2="185" stroke="#a6c9f2" stroke-width="0.6" />
<line x1="356.4" y1="173.5" x2="356.4" y2="182.5" stroke="#a6c9f2" stroke-width="0.6" />
<line x1="354.9" y1="173.5" x2="357.9" y2="173.5" stroke="#a6c9f2" stroke-width="0.6" />
<line x1="354.9" y1="182.5" x2="357.9" y2="182.5" stroke="#a6c9f2" stroke-width="0.6" />
<line x1="374.3" y1="178" x2="374.3" y2="189.5" stroke="#a6c9f2" stroke-width="0.6" />
<line x1="372.8" y1="178" x2="375.8" y2="178" stroke="#a6c9f2" stroke-width="0.6" />
<line x1="372.8" y1="189.5" x2="375.8" y2="189.5" stroke="#a6c9f2" stroke-width="0.6" />
<line x1="392.1" y1="181" x2="392.1" y2="192" stroke="#a6c9f2" stroke-width="0.6" />
<line x1="390.6" y1="181" x2="393.6" y2="181" stroke="#a6c9f2" stroke-width="0.6" />
<line x1="390.6" y1="192" x2="393.6" y2="192" stroke="#a6c9f2" stroke-width="0.6" />
<line x1="410.3" y1="189" x2="410.3" y2="197.5" stroke="#a6c9f2" stroke-width="0.6" />
<line x1="408.8" y1="189" x2="411.8" y2="189" stroke="#a6c9f2" stroke-width="0.6" />
<line x1="408.8" y1="197.5" x2="411.8" y2="197.5" stroke="#a6c9f2" stroke-width="0.6" />
<rect x="147.3" y="64.7" width="4.8" height="4.8" fill="#fff" stroke="#4a97ec" stroke-width="1"/>
<rect x="156" y="72.5" width="4.8" height="4.8" fill="#fff" stroke="#4a97ec" stroke-width="1"/>
<rect x="165.2" y="79.6" width="4.8" height="4.8" fill="#fff" stroke="#4a97ec" stroke-width="1"/>
<rect x="174.1" y="85.4" width="4.8" height="4.8" fill="#fff" stroke="#4a97ec" stroke-width="1"/>
<rect x="183" y="91.7" width="4.8" height="4.8" fill="#fff" stroke="#4a97ec" stroke-width="1"/>
<rect x="192.2" y="96.7" width="4.8" height="4.8" fill="#fff" stroke="#4a97ec" stroke-width="1"/>
<rect x="201.2" y="102.5" width="4.8" height="4.8" fill="#fff" stroke="#4a97ec" stroke-width="1"/>
<rect x="210.1" y="105.1" width="4.8" height="4.8" fill="#fff" stroke="#4a97ec" stroke-width="1"/>
<rect x="219" y="111.2" width="4.8" height="4.8" fill="#fff" stroke="#4a97ec" stroke-width="1"/>
<rect x="228.2" y="114.6" width="4.8" height="4.8" fill="#fff" stroke="#4a97ec" stroke-width="1"/>
<rect x="237.2" y="123" width="4.8" height="4.8" fill="#fff" stroke="#4a97ec" stroke-width="1"/>
<rect x="246.4" y="127.7" width="4.8" height="4.8" fill="#fff" stroke="#4a97ec" stroke-width="1"/>
<rect x="255" y="131.1" width="4.8" height="4.8" fill="#fff" stroke="#4a97ec" stroke-width="1"/>
<rect x="264.1" y="133.7" width="4.8" height="4.8" fill="#fff" stroke="#4a97ec" stroke-width="1"/>
<rect x="272.9" y="139.5" width="4.8" height="4.8" fill="#fff" stroke="#4a97ec" stroke-width="1"/>
<rect x="282.1" y="147.4" width="4.8" height="4.8" fill="#fff" stroke="#4a97ec" stroke-width="1"/>
<rect x="290.9" y="151.8" width="4.8" height="4.8" fill="#fff" stroke="#4a97ec" stroke-width="1"/>
<rect x="299.9" y="156" width="4.8" height="4.8" fill="#fff" stroke="#4a97ec" stroke-width="1"/>
<rect x="318" y="165.9" width="4.8" height="4.8" fill="#fff" stroke="#4a97ec" stroke-width="1"/>
<rect x="336.1" y="174.1" width="4.8" height="4.8" fill="#fff" stroke="#4a97ec" stroke-width="1"/>
<rect x="354" y="176.2" width="4.8" height="4.8" fill="#fff" stroke="#4a97ec" stroke-width="1"/>
<rect x="371.9" y="183.8" width="4.8" height="4.8" fill="#fff" stroke="#4a97ec" stroke-width="1"/>
<rect x="389.7" y="185.9" width="4.8" height="4.8" fill="#fff" stroke="#4a97ec" stroke-width="1"/>
<rect x="407.9" y="190.2" width="4.8" height="4.8" fill="#fff" stroke="#4a97ec" stroke-width="1"/>
<rect x="146.55" y="81.25" width="5.3" height="5.3" fill="#1a82ee" stroke="#1a82ee" stroke-width="0.5"/>
<rect x="155.75" y="92.05" width="5.3" height="5.3" fill="#1a82ee" stroke="#1a82ee" stroke-width="0.5"/>
<rect x="164.95" y="102.55" width="5.3" height="5.3" fill="#1a82ee" stroke="#1a82ee" stroke-width="0.5"/>
<rect x="173.85" y="108.85" width="5.3" height="5.3" fill="#1a82ee" stroke="#1a82ee" stroke-width="0.5"/>
<rect x="182.75" y="116.15" width="5.3" height="5.3" fill="#1a82ee" stroke="#1a82ee" stroke-width="0.5"/>
<rect x="191.95" y="123.25" width="5.3" height="5.3" fill="#1a82ee" stroke="#1a82ee" stroke-width="0.5"/>
<rect x="200.95" y="131.95" width="5.3" height="5.3" fill="#1a82ee" stroke="#1a82ee" stroke-width="0.5"/>
<rect x="209.85" y="137.15" width="5.3" height="5.3" fill="#1a82ee" stroke="#1a82ee" stroke-width="0.5"/>
<rect x="218.75" y="137.45" width="5.3" height="5.3" fill="#1a82ee" stroke="#1a82ee" stroke-width="0.5"/>
<rect x="227.95" y="151.65" width="5.3" height="5.3" fill="#1a82ee" stroke="#1a82ee" stroke-width="0.5"/>
<rect x="236.95" y="149.85" width="5.3" height="5.3" fill="#1a82ee" stroke="#1a82ee" stroke-width="0.5"/>
<rect x="246.75" y="157.65" width="5.3" height="5.3" fill="#1a82ee" stroke="#1a82ee" stroke-width="0.5"/>
<rect x="254.75" y="163.05" width="5.3" height="5.3" fill="#1a82ee" stroke="#1a82ee" stroke-width="0.5"/>
<rect x="263.95" y="160.95" width="5.3" height="5.3" fill="#1a82ee" stroke="#1a82ee" stroke-width="0.5"/>
<rect x="272.55" y="160.65" width="5.3" height="5.3" fill="#1a82ee" stroke="#1a82ee" stroke-width="0.5"/>
<rect x="281.75" y="165.15" width="5.3" height="5.3" fill="#1a82ee" stroke="#1a82ee" stroke-width="0.5"/>
<rect x="290.75" y="170.95" width="5.3" height="5.3" fill="#1a82ee" stroke="#1a82ee" stroke-width="0.5"/>
<rect x="299.65" y="170.95" width="5.3" height="5.3" fill="#1a82ee" stroke="#1a82ee" stroke-width="0.5"/>
<rect x="317.75" y="170.45" width="5.3" height="5.3" fill="#1a82ee" stroke="#1a82ee" stroke-width="0.5"/>
<rect x="335.85" y="177.75" width="5.3" height="5.3" fill="#1a82ee" stroke="#1a82ee" stroke-width="0.5"/>
<rect x="353.75" y="175.15" width="5.3" height="5.3" fill="#1a82ee" stroke="#1a82ee" stroke-width="0.5"/>
<rect x="371.65" y="179.65" width="5.3" height="5.3" fill="#1a82ee" stroke="#1a82ee" stroke-width="0.5"/>
<rect x="389.45" y="182.75" width="5.3" height="5.3" fill="#1a82ee" stroke="#1a82ee" stroke-width="0.5"/>
<rect x="407.65" y="190.65" width="5.3" height="5.3" fill="#1a82ee" stroke="#1a82ee" stroke-width="0.5"/>
<polyline points="93.6,9.2 94.43,9.2 95.27,9.2 96.1,9.2 96.93,9.2 97.77,9.2 98.6,9.2 99.43,9.2 100.26,9.2 101.1,9.2 101.93,9.2 102.76,9.2 103.6,9.2 104.43,9.2 105.26,9.2 106.1,9.2 106.93,9.2 107.76,9.2 108.6,9.2 109.43,9.2 110.26,9.2 111.09,9.2 111.93,9.2 112.76,9.2 113.59,9.31 114.43,9.73 115.26,10.32 116.09,11.03 116.93,12.03 117.76,13.17 118.59,14.34 119.43,15.62 120.26,16.99 121.09,18.43 121.92,19.94 122.76,21.49 123.59,23.15 124.42,24.9 125.26,26.71 126.09,28.54 126.92,30.34 127.76,32.11 128.59,33.89 129.42,35.67 130.26,37.44 131.09,39.21 131.92,40.97 132.75,42.75 133.59,44.56 134.42,46.36 135.25,48.11 136.09,49.79 136.92,51.36 137.75,52.82 138.59,54.2 139.42,55.51 140.25,56.74 141.09,57.93 141.92,59.08 142.75,60.2 143.58,61.3 144.42,62.37 145.25,63.41 146.08,64.43 146.92,65.41 147.75,66.37 148.58,67.3 149.42,68.2 150.25,69.07 151.08,69.92 151.92,70.74 152.75,71.54 153.58,72.31 154.42,73.07 155.25,73.81 156.08,74.54 156.91,75.25 157.75,75.95 158.58,76.65 159.41,77.33 160.25,78 161.08,78.65 161.91,79.29 162.75,79.92 163.58,80.54 164.41,81.16 165.25,81.77 166.08,82.38 166.91,82.99 167.74,83.61 168.58,84.22 169.41,84.84 170.24,85.46 171.08,86.08 171.91,86.69 172.74,87.29 173.58,87.89 174.41,88.48 175.24,89.06 176.08,89.62 176.91,90.17 177.74,90.71 178.57,91.23 179.41,91.75 180.24,92.26 181.07,92.77 181.91,93.27 182.74,93.76 183.57,94.25 184.41,94.73 185.24,95.21 186.07,95.68 186.91,96.15 187.74,96.61 188.57,97.07 189.4,97.53 190.24,97.97 191.07,98.42 191.9,98.87 192.74,99.31 193.57,99.75 194.4,100.2 195.24,100.64 196.07,101.08 196.9,101.52 197.74,101.95 198.57,102.39 199.4,102.82 200.23,103.25 201.07,103.69 201.9,104.12 202.73,104.55 203.57,104.98 204.4,105.41 205.23,105.84 206.07,106.27 206.9,106.7 207.73,107.12 208.57,107.55 209.4,107.98 210.23,108.41 211.06,108.84 211.9,109.28 212.73,109.72 213.56,110.17 214.4,110.62 215.23,111.07 216.06,111.53 216.9,111.99 217.73,112.45 218.56,112.91 219.4,113.38 220.23,113.84 221.06,114.31 221.89,114.78 222.73,115.25 223.56,115.72 224.39,116.2 225.23,116.68 226.06,117.16 226.89,117.64 227.73,118.12 228.56,118.61 229.39,119.09 230.23,119.58 231.06,120.07 231.89,120.56 232.72,121.05 233.56,121.55 234.39,122.05 235.22,122.55 236.06,123.05 236.89,123.55 237.72,124.05 238.56,124.56 239.39,125.07 240.22,125.58 241.06,126.1 241.89,126.61 242.72,127.13 243.55,127.65 244.39,128.17 245.22,128.7 246.05,129.23 246.89,129.76 247.72,130.29 248.55,130.83 249.39,131.37 250.22,131.91 251.05,132.46 251.89,133.01 252.72,133.56 253.55,134.12 254.38,134.67 255.22,135.23 256.05,135.79 256.88,136.35 257.72,136.91 258.55,137.48 259.38,138.05 260.22,138.62 261.05,139.2 261.88,139.77 262.72,140.35 263.55,140.92 264.38,141.49 265.22,142.06 266.05,142.63 266.88,143.19 267.71,143.75 268.55,144.31 269.38,144.86 270.21,145.42 271.05,145.97 271.88,146.52 272.71,147.07 273.55,147.62 274.38,148.16 275.21,148.7 276.05,149.24 276.88,149.77 277.71,150.3 278.54,150.82 279.38,151.35 280.21,151.86 281.04,152.38 281.88,152.9 282.71,153.41 283.54,153.92 284.38,154.42 285.21,154.93 286.04,155.43 286.88,155.92 287.71,156.41 288.54,156.9 289.37,157.38 290.21,157.88 291.04,158.37 291.87,158.87 292.71,159.38 293.54,159.9 294.37,160.44 295.21,160.98 296.04,161.53 296.87,162.09 297.71,162.65 298.54,163.2 299.37,163.75 300.2,164.29 301.04,164.82 301.87,165.33 302.7,165.82 303.54,166.3 304.37,166.77 305.2,167.23 306.04,167.69 306.87,168.13 307.7,168.57 308.54,169 309.37,169.41 310.2,169.82 311.03,170.22 311.87,170.6 312.7,170.99 313.53,171.36 314.37,171.73 315.2,172.09 316.03,172.45 316.87,172.79 317.7,173.13 318.53,173.47 319.37,173.79 320.2,174.1 321.03,174.41 321.86,174.71 322.7,175 323.53,175.29 324.36,175.57 325.2,175.85 326.03,176.11 326.86,176.38 327.7,176.63 328.53,176.88 329.36,177.12 330.2,177.35 331.03,177.59 331.86,177.81 332.69,178.04 333.53,178.26 334.36,178.47 335.19,178.68 336.03,178.88 336.86,179.08 337.69,179.26 338.53,179.44 339.36,179.61 340.19,179.78 341.03,179.94 341.86,180.09 342.69,180.24 343.52,180.39 344.36,180.54 345.19,180.68 346.02,180.82 346.86,180.95 347.69,181.08 348.52,181.22 349.36,181.34 350.19,181.47 351.02,181.59 351.86,181.71 352.69,181.84 353.52,181.95 354.35,182.07 355.19,182.19 356.02,182.3 356.85,182.42 357.69,182.53 358.52,182.63 359.35,182.74 360.19,182.84 361.02,182.94 361.85,183.04 362.69,183.14 363.52,183.24 364.35,183.34 365.18,183.43 366.02,183.53 366.85,183.62 367.68,183.72 368.52,183.81 369.35,183.91 370.18,184 371.02,184.1 371.85,184.2 372.68,184.3 373.52,184.4 374.35,184.51 375.18,184.61 376.02,184.71 376.85,184.82 377.68,184.92 378.51,185.03 379.35,185.13 380.18,185.24 381.01,185.34 381.85,185.45 382.68,185.56 383.51,185.66 384.35,185.77 385.18,185.88 386.01,185.99 386.85,186.09 387.68,186.2 388.51,186.31 389.34,186.42 390.18,186.52 391.01,186.63 391.84,186.74 392.68,186.84 393.51,186.94 394.34,187.05 395.18,187.15 396.01,187.26 396.84,187.36 397.68,187.46 398.51,187.57 399.34,187.67 400.17,187.78 401.01,187.89 401.84,188 402.67,188.11 403.51,188.22 404.34,188.33 405.17,188.45 406.01,188.57 406.84,188.69 407.67,188.81 408.51,188.94 409.34,189.06 410.17,189.19 411,189.32 411.84,189.46 412.67,189.59 413.5,189.73 414.34,189.87 415.17,190.01 416,190.15 416.84,190.3 417.67,190.44 418.5,190.59 419.34,190.74 420.17,190.89 421,191.05 421.83,191.2 422.67,191.36 423.5,191.52 424.33,191.68 425.17,191.84 426,192" fill="none" stroke="#1a82ee" stroke-width="1.8" stroke-linejoin="round"/>
<polyline points="93.6,9.2 94.43,9.2 95.27,9.2 96.1,9.2 96.93,9.2 97.77,9.2 98.6,9.2 99.43,9.2 100.26,9.2 101.1,9.2 101.93,9.2 102.76,9.2 103.6,9.2 104.43,9.2 105.26,9.2 106.1,9.2 106.93,9.2 107.76,9.2 108.6,9.2 109.43,9.2 110.26,9.2 111.09,9.2 111.93,9.2 112.76,9.2 113.59,9.33 114.43,9.86 115.26,10.58 116.09,11.45 116.93,12.69 117.76,14.09 118.59,15.52 119.43,17.06 120.26,18.7 121.09,20.42 121.92,22.22 122.76,24.09 123.59,26.07 124.42,28.17 125.26,30.35 126.09,32.57 126.92,34.8 127.76,37.02 128.59,39.28 129.42,41.57 130.26,43.89 131.09,46.25 131.92,48.65 132.75,51.2 133.59,53.84 134.42,56.43 135.25,58.83 136.09,60.95 136.92,62.9 137.75,64.72 138.59,66.45 139.42,68.11 140.25,69.73 141.09,71.31 141.92,72.87 142.75,74.4 143.58,75.9 144.42,77.36 145.25,78.79 146.08,80.18 146.92,81.53 147.75,82.84 148.58,84.1 149.42,85.31 150.25,86.48 151.08,87.61 151.92,88.7 152.75,89.77 153.58,90.8 154.42,91.82 155.25,92.82 156.08,93.8 156.91,94.77 157.75,95.74 158.58,96.71 159.41,97.67 160.25,98.62 161.08,99.56 161.91,100.48 162.75,101.4 163.58,102.3 164.41,103.19 165.25,104.07 166.08,104.94 166.91,105.8 167.74,106.65 168.58,107.48 169.41,108.29 170.24,109.1 171.08,109.89 171.91,110.67 172.74,111.45 173.58,112.22 174.41,112.99 175.24,113.75 176.08,114.51 176.91,115.27 177.74,116.03 178.57,116.79 179.41,117.54 180.24,118.29 181.07,119.03 181.91,119.77 182.74,120.5 183.57,121.23 184.41,121.95 185.24,122.66 186.07,123.37 186.91,124.07 187.74,124.76 188.57,125.45 189.4,126.13 190.24,126.81 191.07,127.49 191.9,128.16 192.74,128.82 193.57,129.48 194.4,130.14 195.24,130.8 196.07,131.45 196.9,132.1 197.74,132.74 198.57,133.37 199.4,134.01 200.23,134.64 201.07,135.27 201.9,135.9 202.73,136.54 203.57,137.17 204.4,137.81 205.23,138.45 206.07,139.09 206.9,139.73 207.73,140.37 208.57,141.01 209.4,141.65 210.23,142.28 211.06,142.92 211.9,143.55 212.73,144.17 213.56,144.8 214.4,145.43 215.23,146.06 216.06,146.68 216.9,147.3 217.73,147.92 218.56,148.54 219.4,149.15 220.23,149.76 221.06,150.36 221.89,150.95 222.73,151.55 223.56,152.14 224.39,152.73 225.23,153.31 226.06,153.89 226.89,154.47 227.73,155.03 228.56,155.59 229.39,156.13 230.23,156.66 231.06,157.19 231.89,157.7 232.72,158.22 233.56,158.73 234.39,159.23 235.22,159.72 236.06,160.2 236.89,160.67 237.72,161.13 238.56,161.57 239.39,162 240.22,162.41 241.06,162.8 241.89,163.18 242.72,163.55 243.55,163.92 244.39,164.27 245.22,164.61 246.05,164.95 246.89,165.28 247.72,165.61 248.55,165.94 249.39,166.26 250.22,166.59 251.05,166.91 251.89,167.23 252.72,167.54 253.55,167.85 254.38,168.16 255.22,168.45 256.05,168.75 256.88,169.03 257.72,169.3 258.55,169.57 259.38,169.84 260.22,170.1 261.05,170.36 261.88,170.61 262.72,170.86 263.55,171.09 264.38,171.33 265.22,171.55 266.05,171.76 266.88,171.97 267.71,172.18 268.55,172.38 269.38,172.58 270.21,172.77 271.05,172.96 271.88,173.15 272.71,173.33 273.55,173.51 274.38,173.69 275.21,173.86 276.05,174.03 276.88,174.2 277.71,174.36 278.54,174.52 279.38,174.68 280.21,174.84 281.04,174.99 281.88,175.15 282.71,175.3 283.54,175.46 284.38,175.61 285.21,175.75 286.04,175.9 286.88,176.04 287.71,176.18 288.54,176.31 289.37,176.44 290.21,176.57 291.04,176.69 291.87,176.8 292.71,176.91 293.54,177.02 294.37,177.12 295.21,177.21 296.04,177.31 296.87,177.4 297.71,177.49 298.54,177.58 299.37,177.67 300.2,177.75 301.04,177.84 301.87,177.92 302.7,178 303.54,178.07 304.37,178.15 305.2,178.22 306.04,178.3 306.87,178.37 307.7,178.44 308.54,178.51 309.37,178.57 310.2,178.64 311.03,178.71 311.87,178.77 312.7,178.83 313.53,178.89 314.37,178.95 315.2,179.01 316.03,179.07 316.87,179.13 317.7,179.19 318.53,179.24 319.37,179.3 320.2,179.36 321.03,179.41 321.86,179.46 322.7,179.52 323.53,179.57 324.36,179.62 325.2,179.67 326.03,179.72 326.86,179.77 327.7,179.81 328.53,179.86 329.36,179.91 330.2,179.95 331.03,180 331.86,180.04 332.69,180.09 333.53,180.13 334.36,180.17 335.19,180.21 336.03,180.25 336.86,180.29 337.69,180.33 338.53,180.37 339.36,180.4 340.19,180.44 341.03,180.47 341.86,180.51 342.69,180.55 343.52,180.58 344.36,180.61 345.19,180.65 346.02,180.68 346.86,180.71 347.69,180.75 348.52,180.78 349.36,180.81 350.19,180.84 351.02,180.87 351.86,180.9 352.69,180.93 353.52,180.96 354.35,180.99 355.19,181.02 356.02,181.05 356.85,181.08 357.69,181.11 358.52,181.13 359.35,181.16 360.19,181.19 361.02,181.22 361.85,181.24 362.69,181.27 363.52,181.3 364.35,181.32 365.18,181.35 366.02,181.38 366.85,181.4 367.68,181.43 368.52,181.45 369.35,181.48 370.18,181.51 371.02,181.53 371.85,181.56 372.68,181.58 373.52,181.61 374.35,181.63 375.18,181.66 376.02,181.68 376.85,181.71 377.68,181.73 378.51,181.76 379.35,181.78 380.18,181.81 381.01,181.83 381.85,181.85 382.68,181.88 383.51,181.9 384.35,181.93 385.18,181.95 386.01,181.98 386.85,182 387.68,182.02 388.51,182.05 389.34,182.07 390.18,182.1 391.01,182.12 391.84,182.14 392.68,182.17 393.51,182.19 394.34,182.21 395.18,182.24 396.01,182.26 396.84,182.28 397.68,182.3 398.51,182.33 399.34,182.35 400.17,182.37 401.01,182.39 401.84,182.42 402.67,182.44 403.51,182.46 404.34,182.48 405.17,182.5 406.01,182.52 406.84,182.55 407.67,182.57 408.51,182.59 409.34,182.61 410.17,182.63 411,182.65 411.84,182.67 412.67,182.69 413.5,182.71 414.34,182.73 415.17,182.75 416,182.77 416.84,182.79 417.67,182.81 418.5,182.83 419.34,182.85 420.17,182.87 421,182.89 421.83,182.91 422.67,182.93 423.5,182.95 424.33,182.96 425.17,182.98 426,183" fill="none" stroke="#1a82ee" stroke-width="1.8" stroke-linejoin="round"/>
</g>
<g id="panel-b">
<line x1="210.4" y1="345.4" x2="210.4" y2="354.6" stroke="#86aa84" stroke-width="0.75" />
<line x1="208.2" y1="345.4" x2="212.6" y2="345.4" stroke="#86aa84" stroke-width="0.75" />
<line x1="208.2" y1="354.6" x2="212.6" y2="354.6" stroke="#86aa84" stroke-width="0.75" />
<line x1="219.3" y1="349.3" x2="219.3" y2="361.2" stroke="#86aa84" stroke-width="0.75" />
<line x1="217.1" y1="349.3" x2="221.5" y2="349.3" stroke="#86aa84" stroke-width="0.75" />
<line x1="217.1" y1="361.2" x2="221.5" y2="361.2" stroke="#86aa84" stroke-width="0.75" />
<line x1="228.3" y1="348" x2="228.3" y2="358.5" stroke="#86aa84" stroke-width="0.75" />
<line x1="226.1" y1="348" x2="230.5" y2="348" stroke="#86aa84" stroke-width="0.75" />
<line x1="226.1" y1="358.5" x2="230.5" y2="358.5" stroke="#86aa84" stroke-width="0.75" />
<line x1="237.2" y1="354" x2="237.2" y2="367.2" stroke="#86aa84" stroke-width="0.75" />
<line x1="235" y1="354" x2="239.4" y2="354" stroke="#86aa84" stroke-width="0.75" />
<line x1="235" y1="367.2" x2="239.4" y2="367.2" stroke="#86aa84" stroke-width="0.75" />
<line x1="246.4" y1="358.5" x2="246.4" y2="374.3" stroke="#86aa84" stroke-width="0.75" />
<line x1="244.2" y1="358.5" x2="248.6" y2="358.5" stroke="#86aa84" stroke-width="0.75" />
<line x1="244.2" y1="374.3" x2="248.6" y2="374.3" stroke="#86aa84" stroke-width="0.75" />
<line x1="255.3" y1="352" x2="255.3" y2="363.8" stroke="#86aa84" stroke-width="0.75" />
<line x1="253.1" y1="352" x2="257.5" y2="352" stroke="#86aa84" stroke-width="0.75" />
<line x1="253.1" y1="363.8" x2="257.5" y2="363.8" stroke="#86aa84" stroke-width="0.75" />
<line x1="273.2" y1="357.3" x2="273.2" y2="371.2" stroke="#86aa84" stroke-width="0.75" />
<line x1="271" y1="357.3" x2="275.4" y2="357.3" stroke="#86aa84" stroke-width="0.75" />
<line x1="271" y1="371.2" x2="275.4" y2="371.2" stroke="#86aa84" stroke-width="0.75" />
<line x1="291.1" y1="362" x2="291.1" y2="380.4" stroke="#86aa84" stroke-width="0.75" />
<line x1="288.9" y1="362" x2="293.3" y2="362" stroke="#86aa84" stroke-width="0.75" />
<line x1="288.9" y1="380.4" x2="293.3" y2="380.4" stroke="#86aa84" stroke-width="0.75" />
<line x1="309.1" y1="371.2" x2="309.1" y2="419.3" stroke="#86aa84" stroke-width="0.75" />
<line x1="306.9" y1="371.2" x2="311.3" y2="371.2" stroke="#86aa84" stroke-width="0.75" />
<line x1="306.9" y1="419.3" x2="311.3" y2="419.3" stroke="#86aa84" stroke-width="0.75" />
<line x1="327" y1="363.4" x2="327" y2="427" stroke="#86aa84" stroke-width="0.75" />
<line x1="324.8" y1="363.4" x2="329.2" y2="363.4" stroke="#86aa84" stroke-width="0.75" />
<line x1="345.1" y1="371.2" x2="345.1" y2="420" stroke="#86aa84" stroke-width="0.75" />
<line x1="342.9" y1="371.2" x2="347.3" y2="371.2" stroke="#86aa84" stroke-width="0.75" />
<line x1="342.9" y1="420" x2="347.3" y2="420" stroke="#86aa84" stroke-width="0.75" />
<line x1="363" y1="374.4" x2="363" y2="427" stroke="#86aa84" stroke-width="0.75" />
<line x1="360.8" y1="374.4" x2="365.2" y2="374.4" stroke="#86aa84" stroke-width="0.75" />
<line x1="380.8" y1="385.7" x2="380.8" y2="427" stroke="#86aa84" stroke-width="0.75" />
<line x1="378.6" y1="385.7" x2="383" y2="385.7" stroke="#86aa84" stroke-width="0.75" />
<line x1="399" y1="388.3" x2="399" y2="427" stroke="#86aa84" stroke-width="0.75" />
<line x1="396.8" y1="388.3" x2="401.2" y2="388.3" stroke="#86aa84" stroke-width="0.75" />
<line x1="416.8" y1="364.7" x2="416.8" y2="372" stroke="#86aa84" stroke-width="0.75" />
<line x1="414.6" y1="364.7" x2="419" y2="364.7" stroke="#86aa84" stroke-width="0.75" />
<line x1="414.6" y1="372" x2="419" y2="372" stroke="#86aa84" stroke-width="0.75" />
<circle cx="93.1" cy="220.2" r="2.6" fill="#158215" stroke="#158215" stroke-width="0.4"/>
<circle cx="96.3" cy="222.6" r="2.6" fill="#158215" stroke="#158215" stroke-width="0.4"/>
<circle cx="98.5" cy="220.3" r="2.6" fill="#158215" stroke="#158215" stroke-width="0.4"/>
<circle cx="100.1" cy="220.3" r="2.6" fill="#158215" stroke="#158215" stroke-width="0.4"/>
<circle cx="101.7" cy="220.3" r="2.6" fill="#158215" stroke="#158215" stroke-width="0.4"/>
<circle cx="103.3" cy="220.3" r="2.6" fill="#158215" stroke="#158215" stroke-width="0.4"/>
<circle cx="104.9" cy="220.3" r="2.6" fill="#158215" stroke="#158215" stroke-width="0.4"/>
<circle cx="106.5" cy="220.3" r="2.6" fill="#158215" stroke="#158215" stroke-width="0.4"/>
<circle cx="108.1" cy="220.3" r="2.6" fill="#158215" stroke="#158215" stroke-width="0.4"/>
<circle cx="109.7" cy="220.3" r="2.6" fill="#158215" stroke="#158215" stroke-width="0.4"/>
<circle cx="111.3" cy="220.3" r="2.6" fill="#158215" stroke="#158215" stroke-width="0.4"/>
<circle cx="112.9" cy="220.3" r="2.6" fill="#158215" stroke="#158215" stroke-width="0.4"/>
<circle cx="114.5" cy="220.3" r="2.6" fill="#158215" stroke="#158215" stroke-width="0.4"/>
<circle cx="116.1" cy="220.3" r="2.6" fill="#158215" stroke="#158215" stroke-width="0.4"/>
<circle cx="117.7" cy="221.24" r="2.6" fill="#158215" stroke="#158215" stroke-width="0.4"/>
<circle cx="119.3" cy="223.25" r="2.6" fill="#158215" stroke="#158215" stroke-width="0.4"/>
<circle cx="120.9" cy="226.33" r="2.6" fill="#158215" stroke="#158215" stroke-width="0.4"/>
<circle cx="122.5" cy="230.32" r="2.6" fill="#158215" stroke="#158215" stroke-width="0.4"/>
<circle cx="124.1" cy="234.56" r="2.6" fill="#158215" stroke="#158215" stroke-width="0.4"/>
<circle cx="125.7" cy="238.81" r="2.6" fill="#158215" stroke="#158215" stroke-width="0.4"/>
<circle cx="127.3" cy="243.23" r="2.6" fill="#158215" stroke="#158215" stroke-width="0.4"/>
<circle cx="128.9" cy="247.83" r="2.6" fill="#158215" stroke="#158215" stroke-width="0.4"/>
<circle cx="130.5" cy="252.61" r="2.6" fill="#158215" stroke="#158215" stroke-width="0.4"/>
<circle cx="132.1" cy="257.86" r="2.6" fill="#158215" stroke="#158215" stroke-width="0.4"/>
<circle cx="133.7" cy="263.18" r="2.6" fill="#158215" stroke="#158215" stroke-width="0.4"/>
<circle cx="135.3" cy="267.84" r="2.6" fill="#158215" stroke="#158215" stroke-width="0.4"/>
<circle cx="136.9" cy="272.13" r="2.6" fill="#158215" stroke="#158215" stroke-width="0.4"/>
<circle cx="138.5" cy="276.09" r="2.6" fill="#158215" stroke="#158215" stroke-width="0.4"/>
<circle cx="140.1" cy="279.67" r="2.6" fill="#158215" stroke="#158215" stroke-width="0.4"/>
<circle cx="141.7" cy="282.83" r="2.6" fill="#158215" stroke="#158215" stroke-width="0.4"/>
<circle cx="143.3" cy="285.89" r="2.6" fill="#158215" stroke="#158215" stroke-width="0.4"/>
<circle cx="144.9" cy="289.06" r="2.6" fill="#158215" stroke="#158215" stroke-width="0.4"/>
<circle cx="98.5" cy="219.8" r="2.3" fill="none" stroke="#4d9a4d" stroke-width="0.9"/>
<circle cx="100.1" cy="219.8" r="2.3" fill="none" stroke="#4d9a4d" stroke-width="0.9"/>
<circle cx="101.7" cy="219.8" r="2.3" fill="none" stroke="#4d9a4d" stroke-width="0.9"/>
<circle cx="103.3" cy="219.8" r="2.3" fill="none" stroke="#4d9a4d" stroke-width="0.9"/>
<circle cx="104.9" cy="219.8" r="2.3" fill="none" stroke="#4d9a4d" stroke-width="0.9"/>
<circle cx="106.5" cy="219.8" r="2.3" fill="none" stroke="#4d9a4d" stroke-width="0.9"/>
<circle cx="108.1" cy="219.8" r="2.3" fill="none" stroke="#4d9a4d" stroke-width="0.9"/>
<circle cx="109.7" cy="219.8" r="2.3" fill="none" stroke="#4d9a4d" stroke-width="0.9"/>
<circle cx="111.3" cy="219.8" r="2.3" fill="none" stroke="#4d9a4d" stroke-width="0.9"/>
<circle cx="112.9" cy="219.8" r="2.3" fill="none" stroke="#4d9a4d" stroke-width="0.9"/>
<circle cx="114.5" cy="219.8" r="2.3" fill="none" stroke="#4d9a4d" stroke-width="0.9"/>
<circle cx="116.1" cy="219.8" r="2.3" fill="none" stroke="#4d9a4d" stroke-width="0.9"/>
<circle cx="117.7" cy="220.59" r="2.3" fill="none" stroke="#4d9a4d" stroke-width="0.9"/>
<circle cx="119.3" cy="222.11" r="2.3" fill="none" stroke="#4d9a4d" stroke-width="0.9"/>
<circle cx="120.9" cy="224.49" r="2.3" fill="none" stroke="#4d9a4d" stroke-width="0.9"/>
<circle cx="122.5" cy="227.68" r="2.3" fill="none" stroke="#4d9a4d" stroke-width="0.9"/>
<circle cx="124.1" cy="231" r="2.3" fill="none" stroke="#4d9a4d" stroke-width="0.9"/>
<circle cx="125.7" cy="234.21" r="2.3" fill="none" stroke="#4d9a4d" stroke-width="0.9"/>
<circle cx="127.3" cy="237.49" r="2.3" fill="none" stroke="#4d9a4d" stroke-width="0.9"/>
<circle cx="128.9" cy="240.82" r="2.3" fill="none" stroke="#4d9a4d" stroke-width="0.9"/>
<circle cx="130.5" cy="244.21" r="2.3" fill="none" stroke="#4d9a4d" stroke-width="0.9"/>
<circle cx="132.1" cy="247.78" r="2.3" fill="none" stroke="#4d9a4d" stroke-width="0.9"/>
<circle cx="133.7" cy="251.35" r="2.3" fill="none" stroke="#4d9a4d" stroke-width="0.9"/>
<circle cx="135.3" cy="254.59" r="2.3" fill="none" stroke="#4d9a4d" stroke-width="0.9"/>
<circle cx="136.9" cy="257.65" r="2.3" fill="none" stroke="#4d9a4d" stroke-width="0.9"/>
<circle cx="138.5" cy="260.51" r="2.3" fill="none" stroke="#4d9a4d" stroke-width="0.9"/>
<circle cx="140.1" cy="263.06" r="2.3" fill="none" stroke="#4d9a4d" stroke-width="0.9"/>
<circle cx="141.7" cy="265.33" r="2.3" fill="none" stroke="#4d9a4d" stroke-width="0.9"/>
<circle cx="143.3" cy="267.37" r="2.3" fill="none" stroke="#4d9a4d" stroke-width="0.9"/>
<circle cx="144.9" cy="269.27" r="2.3" fill="none" stroke="#4d9a4d" stroke-width="0.9"/>
<circle cx="147.1" cy="270" r="2.5" fill="#fff" stroke="#3d8f3d" stroke-width="1"/>
<circle cx="156.3" cy="277.9" r="2.5" fill="#fff" stroke="#3d8f3d" stroke-width="1"/>
<circle cx="165.5" cy="285" r="2.5" fill="#fff" stroke="#3d8f3d" stroke-width="1"/>
<circle cx="174.1" cy="291" r="2.5" fill="#fff" stroke="#3d8f3d" stroke-width="1"/>
<circle cx="183.3" cy="297.6" r="2.5" fill="#fff" stroke="#3d8f3d" stroke-width="1"/>
<circle cx="192.3" cy="302.6" r="2.5" fill="#fff" stroke="#3d8f3d" stroke-width="1"/>
<circle cx="201.5" cy="308.9" r="2.5" fill="#fff" stroke="#3d8f3d" stroke-width="1"/>
<circle cx="210.4" cy="312.5" r="2.5" fill="#fff" stroke="#3d8f3d" stroke-width="1"/>
<circle cx="219.3" cy="321.7" r="2.5" fill="#fff" stroke="#3d8f3d" stroke-width="1"/>
<circle cx="228.3" cy="324.9" r="2.5" fill="#fff" stroke="#3d8f3d" stroke-width="1"/>
<circle cx="237.2" cy="332.3" r="2.5" fill="#fff" stroke="#3d8f3d" stroke-width="1"/>
<circle cx="246.4" cy="336.2" r="2.5" fill="#fff" stroke="#3d8f3d" stroke-width="1"/>
<circle cx="255.3" cy="337" r="2.5" fill="#fff" stroke="#3d8f3d" stroke-width="1"/>
<circle cx="273.2" cy="344.9" r="2.5" fill="#fff" stroke="#3d8f3d" stroke-width="1"/>
<circle cx="291.1" cy="364.6" r="2.5" fill="#fff" stroke="#3d8f3d" stroke-width="1"/>
<circle cx="309.1" cy="359.9" r="2.5" fill="#fff" stroke="#3d8f3d" stroke-width="1"/>
<circle cx="327" cy="369.4" r="2.5" fill="#fff" stroke="#3d8f3d" stroke-width="1"/>
<circle cx="345.1" cy="386.5" r="2.5" fill="#fff" stroke="#3d8f3d" stroke-width="1"/>
<circle cx="363" cy="396.2" r="2.5" fill="#fff" stroke="#3d8f3d" stroke-width="1"/>
<circle cx="380.8" cy="404.1" r="2.5" fill="#fff" stroke="#3d8f3d" stroke-width="1"/>
<circle cx="416.8" cy="367.8" r="2.5" fill="#fff" stroke="#3d8f3d" stroke-width="1"/>
<circle cx="147.1" cy="290.2" r="2.8" fill="#158215" stroke="#158215" stroke-width="0.4"/>
<circle cx="156.3" cy="302" r="2.8" fill="#158215" stroke="#158215" stroke-width="0.4"/>
<circle cx="165.5" cy="311.2" r="2.8" fill="#158215" stroke="#158215" stroke-width="0.4"/>
<circle cx="174.1" cy="322.3" r="2.8" fill="#158215" stroke="#158215" stroke-width="0.4"/>
<circle cx="183.3" cy="330.4" r="2.8" fill="#158215" stroke="#158215" stroke-width="0.4"/>
<circle cx="192.3" cy="336.7" r="2.8" fill="#158215" stroke="#158215" stroke-width="0.4"/>
<circle cx="201.5" cy="342.8" r="2.8" fill="#158215" stroke="#158215" stroke-width="0.4"/>
<circle cx="210.4" cy="349.9" r="2.8" fill="#158215" stroke="#158215" stroke-width="0.4"/>
<circle cx="219.3" cy="354.6" r="2.8" fill="#158215" stroke="#158215" stroke-width="0.4"/>
<circle cx="228.3" cy="352.7" r="2.8" fill="#158215" stroke="#158215" stroke-width="0.4"/>
<circle cx="237.2" cy="359.8" r="2.8" fill="#158215" stroke="#158215" stroke-width="0.4"/>
<circle cx="246.4" cy="364.6" r="2.8" fill="#158215" stroke="#158215" stroke-width="0.4"/>
<circle cx="255.3" cy="356.7" r="2.8" fill="#158215" stroke="#158215" stroke-width="0.4"/>
<circle cx="273.2" cy="362.5" r="2.8" fill="#158215" stroke="#158215" stroke-width="0.4"/>
<circle cx="291.1" cy="369" r="2.8" fill="#158215" stroke="#158215" stroke-width="0.4"/>
<circle cx="309.1" cy="383.1" r="2.8" fill="#158215" stroke="#158215" stroke-width="0.4"/>
<circle cx="327" cy="386.2" r="2.8" fill="#158215" stroke="#158215" stroke-width="0.4"/>
<circle cx="345.1" cy="379.9" r="2.8" fill="#158215" stroke="#158215" stroke-width="0.4"/>
<circle cx="363" cy="382.5" r="2.8" fill="#158215" stroke="#158215" stroke-width="0.4"/>
<circle cx="399" cy="402" r="2.8" fill="#158215" stroke="#158215" stroke-width="0.4"/>
<polyline points="93,220 93.83,220 94.67,220 95.5,220 96.34,220 97.17,220 98.01,220 98.84,220 99.68,220 100.51,220 101.35,220 102.18,220 103.02,220 103.85,220 104.68,220 105.52,220 106.35,220 107.19,220 108.02,220 108.86,220 109.69,220 110.53,220 111.36,220 112.2,220 113.03,220 113.86,220 114.7,220 115.53,220 116.37,220.05 117.2,220.45 118.04,221.03 118.87,221.8 119.71,222.84 120.54,224.07 121.38,225.58 122.21,227.27 123.05,229.03 123.88,230.76 124.71,232.43 125.55,234.11 126.38,235.81 127.22,237.52 128.05,239.25 128.89,241 129.72,242.76 130.56,244.54 131.39,246.38 132.23,248.27 133.06,250.15 133.89,251.96 134.73,253.66 135.56,255.3 136.4,256.91 137.23,258.47 138.07,259.96 138.9,261.38 139.74,262.71 140.57,263.96 141.41,265.13 142.24,266.24 143.08,267.29 143.91,268.31 144.74,269.29 145.58,270.22 146.41,271.11 147.25,271.94 148.08,272.74 148.92,273.5 149.75,274.23 150.59,274.94 151.42,275.63 152.26,276.31 153.09,276.97 153.92,277.63 154.76,278.28 155.59,278.94 156.43,279.6 157.26,280.27 158.1,280.93 158.93,281.59 159.77,282.25 160.6,282.9 161.44,283.54 162.27,284.17 163.11,284.79 163.94,285.4 164.77,286 165.61,286.57 166.44,287.13 167.28,287.67 168.11,288.19 168.95,288.69 169.78,289.19 170.62,289.69 171.45,290.19 172.29,290.69 173.12,291.2 173.95,291.74 174.79,292.29 175.62,292.87 176.46,293.48 177.29,294.12 178.13,294.78 178.96,295.44 179.8,296.1 180.63,296.75 181.47,297.37 182.3,297.97 183.14,298.52 183.97,299.06 184.8,299.59 185.64,300.1 186.47,300.61 187.31,301.1 188.14,301.59 188.98,302.07 189.81,302.54 190.65,303.01 191.48,303.48 192.32,303.95 193.15,304.42 193.98,304.88 194.82,305.32 195.65,305.77 196.49,306.21 197.32,306.65 198.16,307.08 198.99,307.52 199.83,307.96 200.66,308.4 201.5,308.85 202.33,309.3 203.17,309.75 204,310.2 204.83,310.65 205.67,311.1 206.5,311.55 207.34,312.01 208.17,312.47 209.01,312.94 209.84,313.41 210.68,313.89 211.51,314.39 212.35,314.89 213.18,315.4 214.02,315.91 214.85,316.43 215.68,316.94 216.52,317.45 217.35,317.96 218.19,318.46 219.02,318.94 219.86,319.41 220.69,319.88 221.53,320.34 222.36,320.79 223.2,321.24 224.03,321.69 224.86,322.13 225.7,322.57 226.53,323.01 227.37,323.45 228.2,323.9 229.04,324.34 229.87,324.78 230.71,325.23 231.54,325.67 232.38,326.11 233.21,326.56 234.05,327 234.88,327.44 235.71,327.88 236.55,328.31 237.38,328.75 238.22,329.18 239.05,329.61 239.89,330.04 240.72,330.46 241.56,330.88 242.39,331.29 243.23,331.7 244.06,332.1 244.89,332.5 245.73,332.9 246.56,333.3 247.4,333.71 248.23,334.11 249.07,334.53 249.9,334.95 250.74,335.38 251.57,335.81 252.41,336.25 253.24,336.7 254.08,337.15 254.91,337.6 255.74,338.05 256.58,338.51 257.41,338.97 258.25,339.42 259.08,339.88 259.92,340.34 260.75,340.79 261.59,341.24 262.42,341.69 263.26,342.14 264.09,342.58 264.92,343.02 265.76,343.45 266.59,343.88 267.43,344.32 268.26,344.75 269.1,345.18 269.93,345.61 270.77,346.04 271.6,346.48 272.44,346.92 273.27,347.36 274.11,347.81 274.94,348.26 275.77,348.71 276.61,349.17 277.44,349.64 278.28,350.11 279.11,350.58 279.95,351.06 280.78,351.54 281.62,352.02 282.45,352.51 283.29,353 284.12,353.49 284.95,353.99 285.79,354.48 286.62,354.98 287.46,355.48 288.29,355.98 289.13,356.48 289.96,356.98 290.8,357.48 291.63,358 292.47,358.52 293.3,359.04 294.14,359.57 294.97,360.11 295.8,360.64 296.64,361.17 297.47,361.69 298.31,362.22 299.14,362.73 299.98,363.24 300.81,363.73 301.65,364.22 302.48,364.69 303.32,365.15 304.15,365.6 304.98,366.05 305.82,366.48 306.65,366.92 307.49,367.34 308.32,367.76 309.16,368.18 309.99,368.59 310.83,369 311.66,369.41 312.5,369.81 313.33,370.21 314.17,370.6 315,371 315.83,371.4 316.67,371.79 317.5,372.19 318.34,372.59 319.17,372.98 320.01,373.37 320.84,373.76 321.68,374.13 322.51,374.5 323.35,374.86 324.18,375.21 325.02,375.55 325.85,375.87 326.68,376.18 327.52,376.48 328.35,376.77 329.19,377.05 330.02,377.33 330.86,377.59 331.69,377.85 332.53,378.1 333.36,378.35 334.2,378.58 335.03,378.81 335.86,379.03 336.7,379.25 337.53,379.46 338.37,379.66 339.2,379.87 340.04,380.06 340.87,380.25 341.71,380.43 342.54,380.6 343.38,380.77 344.21,380.93 345.05,381.08 345.88,381.23 346.71,381.37 347.55,381.51 348.38,381.65 349.22,381.78 350.05,381.92 350.89,382.04 351.72,382.17 352.56,382.29 353.39,382.42 354.23,382.53 355.06,382.65 355.89,382.76 356.73,382.87 357.56,382.98 358.4,383.08 359.23,383.18 360.07,383.28 360.9,383.37 361.74,383.47 362.57,383.56 363.41,383.64 364.24,383.73 365.08,383.81 365.91,383.89 366.74,383.97 367.58,384.05 368.41,384.13 369.25,384.21 370.08,384.28 370.92,384.36 371.75,384.43 372.59,384.5 373.42,384.57 374.26,384.64 375.09,384.7 375.92,384.77 376.76,384.84 377.59,384.9 378.43,384.96 379.26,385.03 380.1,385.09 380.93,385.15 381.77,385.21 382.6,385.26 383.44,385.32 384.27,385.38 385.11,385.43 385.94,385.49 386.77,385.54 387.61,385.59 388.44,385.65 389.28,385.7 390.11,385.75 390.95,385.8 391.78,385.85 392.62,385.9 393.45,385.95 394.29,386 395.12,386.05 395.95,386.1 396.79,386.15 397.62,386.2 398.46,386.24 399.29,386.29 400.13,386.34 400.96,386.39 401.8,386.43 402.63,386.48 403.47,386.52 404.3,386.57 405.14,386.61 405.97,386.65 406.8,386.7 407.64,386.74 408.47,386.78 409.31,386.82 410.14,386.86 410.98,386.9 411.81,386.94 412.65,386.98 413.48,387.02 414.32,387.06 415.15,387.09 415.98,387.13 416.82,387.16 417.65,387.2 418.49,387.23 419.32,387.27 420.16,387.3 420.99,387.33 421.83,387.36 422.66,387.39 423.5,387.42 424.33,387.45 425.17,387.47 426,387.5" fill="none" stroke="#158215" stroke-width="1.8" stroke-linejoin="round"/>
<polyline points="93,220 93.83,220 94.67,220 95.5,220 96.34,220 97.17,220 98.01,220 98.84,220 99.68,220 100.51,220 101.35,220 102.18,220 103.02,220 103.85,220 104.68,220 105.52,220 106.35,220 107.19,220 108.02,220 108.86,220 109.69,220 110.53,220 111.36,220 112.2,220 113.03,220 113.86,220 114.7,220 115.53,220 116.37,220.06 117.2,220.53 118.04,221.23 118.87,222.26 119.71,223.66 120.54,225.25 121.38,227.15 122.21,229.26 123.05,231.47 123.88,233.69 124.71,235.87 125.55,238.1 126.38,240.38 127.22,242.7 128.05,245.07 128.89,247.49 129.72,249.96 130.56,252.48 131.39,255.17 132.23,257.98 133.06,260.8 133.89,263.49 134.73,265.94 135.56,268.27 136.4,270.52 137.23,272.68 138.07,274.75 138.9,276.73 139.74,278.6 140.57,280.34 141.41,281.97 142.24,283.55 143.08,285.15 143.91,286.79 144.74,288.46 145.58,290.08 146.41,291.63 147.25,293.04 148.08,294.35 148.92,295.61 149.75,296.82 150.59,297.98 151.42,299.11 152.26,300.21 153.09,301.29 153.92,302.35 154.76,303.41 155.59,304.48 156.43,305.55 157.26,306.61 158.1,307.65 158.93,308.69 159.77,309.71 160.6,310.72 161.44,311.72 162.27,312.72 163.11,313.7 163.94,314.68 164.77,315.66 165.61,316.63 166.44,317.59 167.28,318.55 168.11,319.5 168.95,320.44 169.78,321.37 170.62,322.3 171.45,323.22 172.29,324.14 173.12,325.05 173.95,325.95 174.79,326.85 175.62,327.76 176.46,328.65 177.29,329.55 178.13,330.44 178.96,331.32 179.8,332.18 180.63,333.04 181.47,333.88 182.3,334.71 183.14,335.51 183.97,336.31 184.8,337.09 185.64,337.86 186.47,338.62 187.31,339.37 188.14,340.11 188.98,340.85 189.81,341.58 190.65,342.32 191.48,343.05 192.32,343.78 193.15,344.5 193.98,345.23 194.82,345.95 195.65,346.66 196.49,347.38 197.32,348.08 198.16,348.78 198.99,349.47 199.83,350.16 200.66,350.84 201.5,351.51 202.33,352.18 203.17,352.84 204,353.49 204.83,354.15 205.67,354.79 206.5,355.44 207.34,356.08 208.17,356.72 209.01,357.36 209.84,358 210.68,358.63 211.51,359.26 212.35,359.9 213.18,360.52 214.02,361.15 214.85,361.77 215.68,362.39 216.52,363 217.35,363.61 218.19,364.22 219.02,364.82 219.86,365.41 220.69,365.99 221.53,366.57 222.36,367.14 223.2,367.71 224.03,368.27 224.86,368.84 225.7,369.41 226.53,369.98 227.37,370.56 228.2,371.14 229.04,371.74 229.87,372.35 230.71,372.97 231.54,373.6 232.38,374.22 233.21,374.85 234.05,375.46 234.88,376.07 235.71,376.66 236.55,377.24 237.38,377.8 238.22,378.33 239.05,378.86 239.89,379.39 240.72,379.92 241.56,380.43 242.39,380.94 243.23,381.45 244.06,381.94 244.89,382.42 245.73,382.88 246.56,383.33 247.4,383.77 248.23,384.18 249.07,384.58 249.9,384.96 250.74,385.32 251.57,385.66 252.41,386 253.24,386.33 254.08,386.64 254.91,386.95 255.74,387.25 256.58,387.54 257.41,387.82 258.25,388.1 259.08,388.37 259.92,388.63 260.75,388.89 261.59,389.15 262.42,389.4 263.26,389.65 264.09,389.9 264.92,390.16 265.76,390.41 266.59,390.67 267.43,390.93 268.26,391.18 269.1,391.43 269.93,391.67 270.77,391.9 271.6,392.12 272.44,392.32 273.27,392.5 274.11,392.67 274.94,392.81 275.77,392.94 276.61,393.03 277.44,393.13 278.28,393.22 279.11,393.31 279.95,393.39 280.78,393.47 281.62,393.55 282.45,393.63 283.29,393.7 284.12,393.77 284.95,393.83 285.79,393.89 286.62,393.94 287.46,393.98 288.29,394.02 289.13,394.05 289.96,394.08 290.8,394.09 291.63,394.1 292.47,394.1 293.3,394.09 294.14,394.06 294.97,394.03 295.8,393.99 296.64,393.94 297.47,393.88 298.31,393.82 299.14,393.75 299.98,393.68 300.81,393.6 301.65,393.52 302.48,393.44 303.32,393.36 304.15,393.27 304.98,393.19 305.82,393.1 306.65,393.02 307.49,392.94 308.32,392.87 309.16,392.8 309.99,392.72 310.83,392.65 311.66,392.57 312.5,392.48 313.33,392.4 314.17,392.31 315,392.22 315.83,392.13 316.67,392.04 317.5,391.95 318.34,391.85 319.17,391.76 320.01,391.68 320.84,391.59 321.68,391.51 322.51,391.43 323.35,391.35 324.18,391.28 325.02,391.22 325.85,391.16 326.68,391.1 327.52,391.06 328.35,391.02 329.19,390.99 330.02,390.95 330.86,390.92 331.69,390.89 332.53,390.86 333.36,390.83 334.2,390.81 335.03,390.78 335.86,390.75 336.7,390.72 337.53,390.7 338.37,390.67 339.2,390.65 340.04,390.63 340.87,390.6 341.71,390.58 342.54,390.56 343.38,390.54 344.21,390.52 345.05,390.51 345.88,390.49 346.71,390.48 347.55,390.46 348.38,390.45 349.22,390.44 350.05,390.43 350.89,390.42 351.72,390.41 352.56,390.41 353.39,390.4 354.23,390.4 355.06,390.4 355.89,390.4 356.73,390.4 357.56,390.41 358.4,390.41 359.23,390.42 360.07,390.43 360.9,390.44 361.74,390.46 362.57,390.47 363.41,390.49 364.24,390.5 365.08,390.52 365.91,390.54 366.74,390.56 367.58,390.58 368.41,390.6 369.25,390.63 370.08,390.65 370.92,390.67 371.75,390.7 372.59,390.72 373.42,390.75 374.26,390.78 375.09,390.8 375.92,390.83 376.76,390.85 377.59,390.88 378.43,390.91 379.26,390.93 380.1,390.96 380.93,390.99 381.77,391.01 382.6,391.04 383.44,391.06 384.27,391.09 385.11,391.12 385.94,391.15 386.77,391.18 387.61,391.22 388.44,391.25 389.28,391.28 390.11,391.32 390.95,391.35 391.78,391.39 392.62,391.42 393.45,391.46 394.29,391.5 395.12,391.54 395.95,391.58 396.79,391.62 397.62,391.66 398.46,391.7 399.29,391.74 400.13,391.79 400.96,391.83 401.8,391.88 402.63,391.92 403.47,391.97 404.3,392.01 405.14,392.06 405.97,392.11 406.8,392.15 407.64,392.2 408.47,392.25 409.31,392.3 410.14,392.36 410.98,392.41 411.81,392.47 412.65,392.52 413.48,392.58 414.32,392.64 415.15,392.7 415.98,392.77 416.82,392.83 417.65,392.9 418.49,392.96 419.32,393.03 420.16,393.1 420.99,393.17 421.83,393.24 422.66,393.31 423.5,393.38 424.33,393.45 425.17,393.53 426,393.6" fill="none" stroke="#158215" stroke-width="1.8" stroke-linejoin="round"/>
</g>
<g id="axes-ab">
<line x1="75.4" y1="8.7" x2="79.9" y2="8.7" stroke="#000" stroke-width="1.7" />
<line x1="425.8" y1="8.7" x2="420.1" y2="8.7" stroke="#000" stroke-width="1.7" />
<line x1="75.4" y1="51.5" x2="79.9" y2="51.5" stroke="#000" stroke-width="1.7" />
<line x1="425.8" y1="51.5" x2="420.1" y2="51.5" stroke="#000" stroke-width="1.7" />
<line x1="75.4" y1="38.62" x2="78.2" y2="38.62" stroke="#000" stroke-width="1.5" />
<line x1="425.8" y1="38.62" x2="422.3" y2="38.62" stroke="#000" stroke-width="1.5" />
<line x1="75.4" y1="31.08" x2="78.2" y2="31.08" stroke="#000" stroke-width="1.5" />
<line x1="425.8" y1="31.08" x2="422.3" y2="31.08" stroke="#000" stroke-width="1.5" />
<line x1="75.4" y1="25.73" x2="78.2" y2="25.73" stroke="#000" stroke-width="1.5" />
<line x1="425.8" y1="25.73" x2="422.3" y2="25.73" stroke="#000" stroke-width="1.5" />
<line x1="75.4" y1="21.58" x2="78.2" y2="21.58" stroke="#000" stroke-width="1.5" />
<line x1="425.8" y1="21.58" x2="422.3" y2="21.58" stroke="#000" stroke-width="1.5" />
<line x1="75.4" y1="18.2" x2="78.2" y2="18.2" stroke="#000" stroke-width="1.5" />
<line x1="425.8" y1="18.2" x2="422.3" y2="18.2" stroke="#000" stroke-width="1.5" />
<line x1="75.4" y1="15.33" x2="78.2" y2="15.33" stroke="#000" stroke-width="1.5" />
<line x1="425.8" y1="15.33" x2="422.3" y2="15.33" stroke="#000" stroke-width="1.5" />
<line x1="75.4" y1="12.85" x2="78.2" y2="12.85" stroke="#000" stroke-width="1.5" />
<line x1="425.8" y1="12.85" x2="422.3" y2="12.85" stroke="#000" stroke-width="1.5" />
<line x1="75.4" y1="10.66" x2="78.2" y2="10.66" stroke="#000" stroke-width="1.5" />
<line x1="425.8" y1="10.66" x2="422.3" y2="10.66" stroke="#000" stroke-width="1.5" />
<line x1="75.4" y1="94.3" x2="79.9" y2="94.3" stroke="#000" stroke-width="1.7" />
<line x1="425.8" y1="94.3" x2="420.1" y2="94.3" stroke="#000" stroke-width="1.7" />
<line x1="75.4" y1="81.42" x2="78.2" y2="81.42" stroke="#000" stroke-width="1.5" />
<line x1="425.8" y1="81.42" x2="422.3" y2="81.42" stroke="#000" stroke-width="1.5" />
<line x1="75.4" y1="73.88" x2="78.2" y2="73.88" stroke="#000" stroke-width="1.5" />
<line x1="425.8" y1="73.88" x2="422.3" y2="73.88" stroke="#000" stroke-width="1.5" />
<line x1="75.4" y1="68.53" x2="78.2" y2="68.53" stroke="#000" stroke-width="1.5" />
<line x1="425.8" y1="68.53" x2="422.3" y2="68.53" stroke="#000" stroke-width="1.5" />
<line x1="75.4" y1="64.38" x2="78.2" y2="64.38" stroke="#000" stroke-width="1.5" />
<line x1="425.8" y1="64.38" x2="422.3" y2="64.38" stroke="#000" stroke-width="1.5" />
<line x1="75.4" y1="61" x2="78.2" y2="61" stroke="#000" stroke-width="1.5" />
<line x1="425.8" y1="61" x2="422.3" y2="61" stroke="#000" stroke-width="1.5" />
<line x1="75.4" y1="58.13" x2="78.2" y2="58.13" stroke="#000" stroke-width="1.5" />
<line x1="425.8" y1="58.13" x2="422.3" y2="58.13" stroke="#000" stroke-width="1.5" />
<line x1="75.4" y1="55.65" x2="78.2" y2="55.65" stroke="#000" stroke-width="1.5" />
<line x1="425.8" y1="55.65" x2="422.3" y2="55.65" stroke="#000" stroke-width="1.5" />
<line x1="75.4" y1="53.46" x2="78.2" y2="53.46" stroke="#000" stroke-width="1.5" />
<line x1="425.8" y1="53.46" x2="422.3" y2="53.46" stroke="#000" stroke-width="1.5" />
<line x1="75.4" y1="137.1" x2="79.9" y2="137.1" stroke="#000" stroke-width="1.7" />
<line x1="425.8" y1="137.1" x2="420.1" y2="137.1" stroke="#000" stroke-width="1.7" />
<line x1="75.4" y1="124.22" x2="78.2" y2="124.22" stroke="#000" stroke-width="1.5" />
<line x1="425.8" y1="124.22" x2="422.3" y2="124.22" stroke="#000" stroke-width="1.5" />
<line x1="75.4" y1="116.68" x2="78.2" y2="116.68" stroke="#000" stroke-width="1.5" />
<line x1="425.8" y1="116.68" x2="422.3" y2="116.68" stroke="#000" stroke-width="1.5" />
<line x1="75.4" y1="111.33" x2="78.2" y2="111.33" stroke="#000" stroke-width="1.5" />
<line x1="425.8" y1="111.33" x2="422.3" y2="111.33" stroke="#000" stroke-width="1.5" />
<line x1="75.4" y1="107.18" x2="78.2" y2="107.18" stroke="#000" stroke-width="1.5" />
<line x1="425.8" y1="107.18" x2="422.3" y2="107.18" stroke="#000" stroke-width="1.5" />
<line x1="75.4" y1="103.8" x2="78.2" y2="103.8" stroke="#000" stroke-width="1.5" />
<line x1="425.8" y1="103.8" x2="422.3" y2="103.8" stroke="#000" stroke-width="1.5" />
<line x1="75.4" y1="100.93" x2="78.2" y2="100.93" stroke="#000" stroke-width="1.5" />
<line x1="425.8" y1="100.93" x2="422.3" y2="100.93" stroke="#000" stroke-width="1.5" />
<line x1="75.4" y1="98.45" x2="78.2" y2="98.45" stroke="#000" stroke-width="1.5" />
<line x1="425.8" y1="98.45" x2="422.3" y2="98.45" stroke="#000" stroke-width="1.5" />
<line x1="75.4" y1="96.26" x2="78.2" y2="96.26" stroke="#000" stroke-width="1.5" />
<line x1="425.8" y1="96.26" x2="422.3" y2="96.26" stroke="#000" stroke-width="1.5" />
<line x1="75.4" y1="179.9" x2="79.9" y2="179.9" stroke="#000" stroke-width="1.7" />
<line x1="425.8" y1="179.9" x2="420.1" y2="179.9" stroke="#000" stroke-width="1.7" />
<line x1="75.4" y1="167.02" x2="78.2" y2="167.02" stroke="#000" stroke-width="1.5" />
<line x1="425.8" y1="167.02" x2="422.3" y2="167.02" stroke="#000" stroke-width="1.5" />
<line x1="75.4" y1="159.48" x2="78.2" y2="159.48" stroke="#000" stroke-width="1.5" />
<line x1="425.8" y1="159.48" x2="422.3" y2="159.48" stroke="#000" stroke-width="1.5" />
<line x1="75.4" y1="154.13" x2="78.2" y2="154.13" stroke="#000" stroke-width="1.5" />
<line x1="425.8" y1="154.13" x2="422.3" y2="154.13" stroke="#000" stroke-width="1.5" />
<line x1="75.4" y1="149.98" x2="78.2" y2="149.98" stroke="#000" stroke-width="1.5" />
<line x1="425.8" y1="149.98" x2="422.3" y2="149.98" stroke="#000" stroke-width="1.5" />
<line x1="75.4" y1="146.6" x2="78.2" y2="146.6" stroke="#000" stroke-width="1.5" />
<line x1="425.8" y1="146.6" x2="422.3" y2="146.6" stroke="#000" stroke-width="1.5" />
<line x1="75.4" y1="143.73" x2="78.2" y2="143.73" stroke="#000" stroke-width="1.5" />
<line x1="425.8" y1="143.73" x2="422.3" y2="143.73" stroke="#000" stroke-width="1.5" />
<line x1="75.4" y1="141.25" x2="78.2" y2="141.25" stroke="#000" stroke-width="1.5" />
<line x1="425.8" y1="141.25" x2="422.3" y2="141.25" stroke="#000" stroke-width="1.5" />
<line x1="75.4" y1="139.06" x2="78.2" y2="139.06" stroke="#000" stroke-width="1.5" />
<line x1="425.8" y1="139.06" x2="422.3" y2="139.06" stroke="#000" stroke-width="1.5" />
<line x1="75.4" y1="209.82" x2="78.2" y2="209.82" stroke="#000" stroke-width="1.5" />
<line x1="425.8" y1="209.82" x2="422.3" y2="209.82" stroke="#000" stroke-width="1.5" />
<line x1="75.4" y1="202.28" x2="78.2" y2="202.28" stroke="#000" stroke-width="1.5" />
<line x1="425.8" y1="202.28" x2="422.3" y2="202.28" stroke="#000" stroke-width="1.5" />
<line x1="75.4" y1="196.93" x2="78.2" y2="196.93" stroke="#000" stroke-width="1.5" />
<line x1="425.8" y1="196.93" x2="422.3" y2="196.93" stroke="#000" stroke-width="1.5" />
<line x1="75.4" y1="192.78" x2="78.2" y2="192.78" stroke="#000" stroke-width="1.5" />
<line x1="425.8" y1="192.78" x2="422.3" y2="192.78" stroke="#000" stroke-width="1.5" />
<line x1="75.4" y1="189.4" x2="78.2" y2="189.4" stroke="#000" stroke-width="1.5" />
<line x1="425.8" y1="189.4" x2="422.3" y2="189.4" stroke="#000" stroke-width="1.5" />
<line x1="75.4" y1="186.53" x2="78.2" y2="186.53" stroke="#000" stroke-width="1.5" />
<line x1="425.8" y1="186.53" x2="422.3" y2="186.53" stroke="#000" stroke-width="1.5" />
<line x1="75.4" y1="184.05" x2="78.2" y2="184.05" stroke="#000" stroke-width="1.5" />
<line x1="425.8" y1="184.05" x2="422.3" y2="184.05" stroke="#000" stroke-width="1.5" />
<line x1="75.4" y1="181.86" x2="78.2" y2="181.86" stroke="#000" stroke-width="1.5" />
<line x1="425.8" y1="181.86" x2="422.3" y2="181.86" stroke="#000" stroke-width="1.5" />
<line x1="75.4" y1="220.2" x2="79.9" y2="220.2" stroke="#000" stroke-width="1.7" />
<line x1="425.8" y1="220.2" x2="420.1" y2="220.2" stroke="#000" stroke-width="1.7" />
<line x1="75.4" y1="262.83" x2="79.9" y2="262.83" stroke="#000" stroke-width="1.7" />
<line x1="425.8" y1="262.83" x2="420.1" y2="262.83" stroke="#000" stroke-width="1.7" />
<line x1="75.4" y1="250" x2="78.2" y2="250" stroke="#000" stroke-width="1.5" />
<line x1="425.8" y1="250" x2="422.3" y2="250" stroke="#000" stroke-width="1.5" />
<line x1="75.4" y1="242.49" x2="78.2" y2="242.49" stroke="#000" stroke-width="1.5" />
<line x1="425.8" y1="242.49" x2="422.3" y2="242.49" stroke="#000" stroke-width="1.5" />
<line x1="75.4" y1="237.16" x2="78.2" y2="237.16" stroke="#000" stroke-width="1.5" />
<line x1="425.8" y1="237.16" x2="422.3" y2="237.16" stroke="#000" stroke-width="1.5" />
<line x1="75.4" y1="233.03" x2="78.2" y2="233.03" stroke="#000" stroke-width="1.5" />
<line x1="425.8" y1="233.03" x2="422.3" y2="233.03" stroke="#000" stroke-width="1.5" />
<line x1="75.4" y1="229.66" x2="78.2" y2="229.66" stroke="#000" stroke-width="1.5" />
<line x1="425.8" y1="229.66" x2="422.3" y2="229.66" stroke="#000" stroke-width="1.5" />
<line x1="75.4" y1="226.8" x2="78.2" y2="226.8" stroke="#000" stroke-width="1.5" />
<line x1="425.8" y1="226.8" x2="422.3" y2="226.8" stroke="#000" stroke-width="1.5" />
<line x1="75.4" y1="224.33" x2="78.2" y2="224.33" stroke="#000" stroke-width="1.5" />
<line x1="425.8" y1="224.33" x2="422.3" y2="224.33" stroke="#000" stroke-width="1.5" />
<line x1="75.4" y1="222.15" x2="78.2" y2="222.15" stroke="#000" stroke-width="1.5" />
<line x1="425.8" y1="222.15" x2="422.3" y2="222.15" stroke="#000" stroke-width="1.5" />
<line x1="75.4" y1="305.46" x2="79.9" y2="305.46" stroke="#000" stroke-width="1.7" />
<line x1="425.8" y1="305.46" x2="420.1" y2="305.46" stroke="#000" stroke-width="1.7" />
<line x1="75.4" y1="292.63" x2="78.2" y2="292.63" stroke="#000" stroke-width="1.5" />
<line x1="425.8" y1="292.63" x2="422.3" y2="292.63" stroke="#000" stroke-width="1.5" />
<line x1="75.4" y1="285.12" x2="78.2" y2="285.12" stroke="#000" stroke-width="1.5" />
<line x1="425.8" y1="285.12" x2="422.3" y2="285.12" stroke="#000" stroke-width="1.5" />
<line x1="75.4" y1="279.79" x2="78.2" y2="279.79" stroke="#000" stroke-width="1.5" />
<line x1="425.8" y1="279.79" x2="422.3" y2="279.79" stroke="#000" stroke-width="1.5" />
<line x1="75.4" y1="275.66" x2="78.2" y2="275.66" stroke="#000" stroke-width="1.5" />
<line x1="425.8" y1="275.66" x2="422.3" y2="275.66" stroke="#000" stroke-width="1.5" />
<line x1="75.4" y1="272.29" x2="78.2" y2="272.29" stroke="#000" stroke-width="1.5" />
<line x1="425.8" y1="272.29" x2="422.3" y2="272.29" stroke="#000" stroke-width="1.5" />
<line x1="75.4" y1="269.43" x2="78.2" y2="269.43" stroke="#000" stroke-width="1.5" />
<line x1="425.8" y1="269.43" x2="422.3" y2="269.43" stroke="#000" stroke-width="1.5" />
<line x1="75.4" y1="266.96" x2="78.2" y2="266.96" stroke="#000" stroke-width="1.5" />
<line x1="425.8" y1="266.96" x2="422.3" y2="266.96" stroke="#000" stroke-width="1.5" />
<line x1="75.4" y1="264.78" x2="78.2" y2="264.78" stroke="#000" stroke-width="1.5" />
<line x1="425.8" y1="264.78" x2="422.3" y2="264.78" stroke="#000" stroke-width="1.5" />
<line x1="75.4" y1="348.09" x2="79.9" y2="348.09" stroke="#000" stroke-width="1.7" />
<line x1="425.8" y1="348.09" x2="420.1" y2="348.09" stroke="#000" stroke-width="1.7" />
<line x1="75.4" y1="335.26" x2="78.2" y2="335.26" stroke="#000" stroke-width="1.5" />
<line x1="425.8" y1="335.26" x2="422.3" y2="335.26" stroke="#000" stroke-width="1.5" />
<line x1="75.4" y1="327.75" x2="78.2" y2="327.75" stroke="#000" stroke-width="1.5" />
<line x1="425.8" y1="327.75" x2="422.3" y2="327.75" stroke="#000" stroke-width="1.5" />
<line x1="75.4" y1="322.42" x2="78.2" y2="322.42" stroke="#000" stroke-width="1.5" />
<line x1="425.8" y1="322.42" x2="422.3" y2="322.42" stroke="#000" stroke-width="1.5" />
<line x1="75.4" y1="318.29" x2="78.2" y2="318.29" stroke="#000" stroke-width="1.5" />
<line x1="425.8" y1="318.29" x2="422.3" y2="318.29" stroke="#000" stroke-width="1.5" />
<line x1="75.4" y1="314.92" x2="78.2" y2="314.92" stroke="#000" stroke-width="1.5" />
<line x1="425.8" y1="314.92" x2="422.3" y2="314.92" stroke="#000" stroke-width="1.5" />
<line x1="75.4" y1="312.06" x2="78.2" y2="312.06" stroke="#000" stroke-width="1.5" />
<line x1="425.8" y1="312.06" x2="422.3" y2="312.06" stroke="#000" stroke-width="1.5" />
<line x1="75.4" y1="309.59" x2="78.2" y2="309.59" stroke="#000" stroke-width="1.5" />
<line x1="425.8" y1="309.59" x2="422.3" y2="309.59" stroke="#000" stroke-width="1.5" />
<line x1="75.4" y1="307.41" x2="78.2" y2="307.41" stroke="#000" stroke-width="1.5" />
<line x1="425.8" y1="307.41" x2="422.3" y2="307.41" stroke="#000" stroke-width="1.5" />
<line x1="75.4" y1="390.72" x2="79.9" y2="390.72" stroke="#000" stroke-width="1.7" />
<line x1="425.8" y1="390.72" x2="420.1" y2="390.72" stroke="#000" stroke-width="1.7" />
<line x1="75.4" y1="377.89" x2="78.2" y2="377.89" stroke="#000" stroke-width="1.5" />
<line x1="425.8" y1="377.89" x2="422.3" y2="377.89" stroke="#000" stroke-width="1.5" />
<line x1="75.4" y1="370.38" x2="78.2" y2="370.38" stroke="#000" stroke-width="1.5" />
<line x1="425.8" y1="370.38" x2="422.3" y2="370.38" stroke="#000" stroke-width="1.5" />
<line x1="75.4" y1="365.05" x2="78.2" y2="365.05" stroke="#000" stroke-width="1.5" />
<line x1="425.8" y1="365.05" x2="422.3" y2="365.05" stroke="#000" stroke-width="1.5" />
<line x1="75.4" y1="360.92" x2="78.2" y2="360.92" stroke="#000" stroke-width="1.5" />
<line x1="425.8" y1="360.92" x2="422.3" y2="360.92" stroke="#000" stroke-width="1.5" />
<line x1="75.4" y1="357.55" x2="78.2" y2="357.55" stroke="#000" stroke-width="1.5" />
<line x1="425.8" y1="357.55" x2="422.3" y2="357.55" stroke="#000" stroke-width="1.5" />
<line x1="75.4" y1="354.69" x2="78.2" y2="354.69" stroke="#000" stroke-width="1.5" />
<line x1="425.8" y1="354.69" x2="422.3" y2="354.69" stroke="#000" stroke-width="1.5" />
<line x1="75.4" y1="352.22" x2="78.2" y2="352.22" stroke="#000" stroke-width="1.5" />
<line x1="425.8" y1="352.22" x2="422.3" y2="352.22" stroke="#000" stroke-width="1.5" />
<line x1="75.4" y1="350.04" x2="78.2" y2="350.04" stroke="#000" stroke-width="1.5" />
<line x1="425.8" y1="350.04" x2="422.3" y2="350.04" stroke="#000" stroke-width="1.5" />
<line x1="75.4" y1="420.52" x2="78.2" y2="420.52" stroke="#000" stroke-width="1.5" />
<line x1="425.8" y1="420.52" x2="422.3" y2="420.52" stroke="#000" stroke-width="1.5" />
<line x1="75.4" y1="413.01" x2="78.2" y2="413.01" stroke="#000" stroke-width="1.5" />
<line x1="425.8" y1="413.01" x2="422.3" y2="413.01" stroke="#000" stroke-width="1.5" />
<line x1="75.4" y1="407.68" x2="78.2" y2="407.68" stroke="#000" stroke-width="1.5" />
<line x1="425.8" y1="407.68" x2="422.3" y2="407.68" stroke="#000" stroke-width="1.5" />
<line x1="75.4" y1="403.55" x2="78.2" y2="403.55" stroke="#000" stroke-width="1.5" />
<line x1="425.8" y1="403.55" x2="422.3" y2="403.55" stroke="#000" stroke-width="1.5" />
<line x1="75.4" y1="400.18" x2="78.2" y2="400.18" stroke="#000" stroke-width="1.5" />
<line x1="425.8" y1="400.18" x2="422.3" y2="400.18" stroke="#000" stroke-width="1.5" />
<line x1="75.4" y1="397.32" x2="78.2" y2="397.32" stroke="#000" stroke-width="1.5" />
<line x1="425.8" y1="397.32" x2="422.3" y2="397.32" stroke="#000" stroke-width="1.5" />
<line x1="75.4" y1="394.85" x2="78.2" y2="394.85" stroke="#000" stroke-width="1.5" />
<line x1="425.8" y1="394.85" x2="422.3" y2="394.85" stroke="#000" stroke-width="1.5" />
<line x1="75.4" y1="392.67" x2="78.2" y2="392.67" stroke="#000" stroke-width="1.5" />
<line x1="425.8" y1="392.67" x2="422.3" y2="392.67" stroke="#000" stroke-width="1.5" />
<line x1="75.2" y1="428.6" x2="75.2" y2="434.1" stroke="#000" stroke-width="1.6" />
<line x1="114.1" y1="6.2" x2="114.1" y2="9.2" stroke="#000" stroke-width="1.5" />
<line x1="114.1" y1="217.1" x2="114.1" y2="220.1" stroke="#000" stroke-width="1.5" />
<line x1="114.1" y1="428.6" x2="114.1" y2="431.9" stroke="#000" stroke-width="1.6" />
<line x1="153" y1="6.2" x2="153" y2="11.5" stroke="#000" stroke-width="1.5" />
<line x1="153" y1="217.1" x2="153" y2="222.4" stroke="#000" stroke-width="1.5" />
<line x1="153" y1="428.6" x2="153" y2="434.1" stroke="#000" stroke-width="1.6" />
<line x1="191.9" y1="6.2" x2="191.9" y2="9.2" stroke="#000" stroke-width="1.5" />
<line x1="191.9" y1="217.1" x2="191.9" y2="220.1" stroke="#000" stroke-width="1.5" />
<line x1="191.9" y1="428.6" x2="191.9" y2="431.9" stroke="#000" stroke-width="1.6" />
<line x1="230.8" y1="6.2" x2="230.8" y2="11.5" stroke="#000" stroke-width="1.5" />
<line x1="230.8" y1="217.1" x2="230.8" y2="222.4" stroke="#000" stroke-width="1.5" />
<line x1="230.8" y1="428.6" x2="230.8" y2="434.1" stroke="#000" stroke-width="1.6" />
<line x1="269.7" y1="6.2" x2="269.7" y2="9.2" stroke="#000" stroke-width="1.5" />
<line x1="269.7" y1="217.1" x2="269.7" y2="220.1" stroke="#000" stroke-width="1.5" />
<line x1="269.7" y1="428.6" x2="269.7" y2="431.9" stroke="#000" stroke-width="1.6" />
<line x1="308.6" y1="6.2" x2="308.6" y2="11.5" stroke="#000" stroke-width="1.5" />
<line x1="308.6" y1="217.1" x2="308.6" y2="222.4" stroke="#000" stroke-width="1.5" />
<line x1="308.6" y1="428.6" x2="308.6" y2="434.1" stroke="#000" stroke-width="1.6" />
<line x1="347.5" y1="6.2" x2="347.5" y2="9.2" stroke="#000" stroke-width="1.5" />
<line x1="347.5" y1="217.1" x2="347.5" y2="220.1" stroke="#000" stroke-width="1.5" />
<line x1="347.5" y1="428.6" x2="347.5" y2="431.9" stroke="#000" stroke-width="1.6" />
<line x1="386.4" y1="6.2" x2="386.4" y2="11.5" stroke="#000" stroke-width="1.5" />
<line x1="386.4" y1="217.1" x2="386.4" y2="222.4" stroke="#000" stroke-width="1.5" />
<line x1="386.4" y1="428.6" x2="386.4" y2="434.1" stroke="#000" stroke-width="1.6" />
<rect x="75.4" y="6.2" width="350.4" height="422.4" fill="none" stroke="#000" stroke-width="2.2"/>
<line x1="75.4" y1="217.1" x2="425.8" y2="217.1" stroke="#000" stroke-width="2.2" />
<line x1="425.8" y1="428.6" x2="425.8" y2="431.6" stroke="#000" stroke-width="2.2" />
</g>
<g id="labels-ab">
<text transform="translate(58.25,14.3) scale(1.0850,1)" font-size="16.9" fill="#000" font-family='"Liberation Sans", Arial, sans-serif' >1</text>
<text transform="translate(58.25,225.6) scale(1.0850,1)" font-size="16.9" fill="#000" font-family='"Liberation Sans", Arial, sans-serif' >1</text>
<text transform="translate(42.94,57.1) scale(1.0850,1)" font-size="16.9" fill="#000" font-family='"Liberation Sans", Arial, sans-serif' >0.1</text>
<text transform="translate(42.94,268.23) scale(1.0850,1)" font-size="16.9" fill="#000" font-family='"Liberation Sans", Arial, sans-serif' >0.1</text>
<text transform="translate(32.76,99.9) scale(1.0850,1)" font-size="16.9" fill="#000" font-family='"Liberation Sans", Arial, sans-serif' >0.01</text>
<text transform="translate(32.76,310.86) scale(1.0850,1)" font-size="16.9" fill="#000" font-family='"Liberation Sans", Arial, sans-serif' >0.01</text>
<text transform="translate(31.64,142.7) scale(1.0850,1)" font-size="16.9" fill="#000" font-family='"Liberation Sans", Arial, sans-serif' >1E-3</text>
<text transform="translate(31.64,353.49) scale(1.0850,1)" font-size="16.9" fill="#000" font-family='"Liberation Sans", Arial, sans-serif' >1E-3</text>
<text transform="translate(31.17,185.5) scale(1.0850,1)" font-size="16.9" fill="#000" font-family='"Liberation Sans", Arial, sans-serif' >1E-4</text>
<text transform="translate(31.17,396.12) scale(1.0850,1)" font-size="16.9" fill="#000" font-family='"Liberation Sans", Arial, sans-serif' >1E-4</text>
<text transform="translate(57.08,449.4) scale(1.0750,1)" font-size="17.1" fill="#000" font-family='"Liberation Sans", Arial, sans-serif' >0.00</text>
<text transform="translate(135.01,449.4) scale(1.0750,1)" font-size="17.1" fill="#000" font-family='"Liberation Sans", Arial, sans-serif' >0.02</text>
<text transform="translate(212.59,449.4) scale(1.0750,1)" font-size="17.1" fill="#000" font-family='"Liberation Sans", Arial, sans-serif' >0.04</text>
<text transform="translate(290.52,449.4) scale(1.0750,1)" font-size="17.1" fill="#000" font-family='"Liberation Sans", Arial, sans-serif' >0.06</text>
<text transform="translate(368.32,449.4) scale(1.0750,1)" font-size="17.1" fill="#000" font-family='"Liberation Sans", Arial, sans-serif' >0.08</text>
<text transform="translate(191.53,29.4) scale(1.0800,1)" font-size="15.4" fill="#000" font-family='"Liberation Sans", Arial, sans-serif' >a)</text>
<text transform="translate(191.02,241.7) scale(1.0800,1)" font-size="15.4" fill="#000" font-family='"Liberation Sans", Arial, sans-serif' >b)</text>
<text transform="translate(23.1,112) rotate(-90)" font-size="21.5" text-anchor="middle" font-family='"Liberation Sans", Arial, sans-serif'>reflectivity</text>
<text transform="translate(23.1,307.4) rotate(-90)" font-size="21.5" text-anchor="middle" font-family='"Liberation Sans", Arial, sans-serif'>reflectivity</text>
<text transform="translate(199.96,479.2) scale(1.0000,1)" font-size="23.2" fill="#000" font-family='"Liberation Sans", Arial, sans-serif' >Q</text>
<text transform="translate(226.81,479.2) scale(1.0000,1)" font-size="23.2" fill="#000" font-family='"Liberation Sans", Arial, sans-serif' >(</text>
<text transform="translate(234.4,479.2) scale(1.0000,1)" font-size="23.2" fill="#000" font-family='"Liberation Sans", Arial, sans-serif' >Å</text>
<text transform="translate(250.69,468.4) scale(1.0000,1)" font-size="13.6" fill="#000" font-family='"Liberation Sans", Arial, sans-serif' >-1</text>
<text transform="translate(264.08,479.2) scale(1.0000,1)" font-size="23.2" fill="#000" font-family='"Liberation Sans", Arial, sans-serif' >)</text>
<rect x="98.5" y="159" width="4.4" height="4.4" fill="#fff" stroke="#8fb3dd" stroke-width="1"/>
<rect x="98.2" y="178" width="4.8" height="4.8" fill="#1a82ee" stroke="#1a82ee" stroke-width="0.5"/>
<line x1="83.2" y1="198.8" x2="118.3" y2="198.8" stroke="#1a82ee" stroke-width="1.5" />
<text transform="translate(117.44,166.3) scale(1.0800,1)" font-size="14" fill="#000" font-family='"Liberation Sans", Arial, sans-serif' >|+⟩</text>
<text transform="translate(117.44,185.5) scale(1.0800,1)" font-size="14" fill="#000" font-family='"Liberation Sans", Arial, sans-serif' >|−⟩</text>
<text transform="translate(121.77,203.9) scale(1.0940,1)" font-size="14" fill="#000" font-family='"Liberation Sans", Arial, sans-serif' >LCMO on unpoled BTO</text>
<circle cx="100.5" cy="370.8" r="2.5" fill="#fff" stroke="#8aa88a" stroke-width="1"/>
<circle cx="100.5" cy="389.8" r="2.7" fill="#158215" stroke="#158215" stroke-width="0.4"/>
<line x1="83.4" y1="408.7" x2="118" y2="408.7" stroke="#158215" stroke-width="1.5" />
<text transform="translate(122.04,375.9) scale(1.0800,1)" font-size="14" fill="#000" font-family='"Liberation Sans", Arial, sans-serif' >|+⟩</text>
<text transform="translate(122.04,394.9) scale(1.0800,1)" font-size="14" fill="#000" font-family='"Liberation Sans", Arial, sans-serif' >|−⟩</text>
<text transform="translate(121.77,413.8) scale(1.0940,1)" font-size="14" fill="#000" font-family='"Liberation Sans", Arial, sans-serif' >LCMO on pre-poled BTO</text>
</g>
<g id="panel-c">
<clipPath id="clipc"><rect x="77.6" y="507.1" width="542.6" height="341.3"/></clipPath>
<g stroke="#000">
<line x1="77.6" y1="825.32" x2="83" y2="825.32" stroke-width="2"/>
<line x1="77.6" y1="804.24" x2="88.1" y2="804.24" stroke-width="2"/>
<line x1="77.6" y1="783.16" x2="83" y2="783.16" stroke-width="2"/>
<line x1="77.6" y1="762.08" x2="88.1" y2="762.08" stroke-width="2"/>
<line x1="77.6" y1="740.99" x2="83" y2="740.99" stroke-width="2"/>
<line x1="77.6" y1="719.91" x2="88.1" y2="719.91" stroke-width="2"/>
<line x1="77.6" y1="698.83" x2="83" y2="698.83" stroke-width="2"/>
<line x1="77.6" y1="677.75" x2="88.1" y2="677.75" stroke-width="2"/>
<line x1="77.6" y1="656.67" x2="83" y2="656.67" stroke-width="2"/>
<line x1="77.6" y1="635.59" x2="88.1" y2="635.59" stroke-width="2"/>
<line x1="77.6" y1="614.51" x2="83" y2="614.51" stroke-width="2"/>
<line x1="77.6" y1="593.42" x2="88.1" y2="593.42" stroke-width="2"/>
<line x1="77.6" y1="572.34" x2="83" y2="572.34" stroke-width="2"/>
<line x1="77.6" y1="551.26" x2="88.1" y2="551.26" stroke-width="2"/>
<line x1="77.6" y1="530.18" x2="83" y2="530.18" stroke-width="2"/>
<line x1="620.2" y1="808.2" x2="614.4" y2="808.2" stroke-width="2"/>
<line x1="620.2" y1="770" x2="609.4" y2="770" stroke-width="2"/>
<line x1="620.2" y1="731.8" x2="614.4" y2="731.8" stroke-width="2"/>
<line x1="620.2" y1="693.6" x2="609.4" y2="693.6" stroke-width="2"/>
<line x1="620.2" y1="655.4" x2="614.4" y2="655.4" stroke-width="2"/>
<line x1="620.2" y1="617.2" x2="609.4" y2="617.2" stroke-width="2"/>
<line x1="620.2" y1="579" x2="614.4" y2="579" stroke-width="2"/>
<line x1="620.2" y1="540.8" x2="609.4" y2="540.8" stroke-width="2"/>
<line x1="119" y1="846.4" x2="119" y2="835.6" stroke-width="2"/>
<line x1="119" y1="509.1" x2="119" y2="518.9" stroke-width="2"/>
<line x1="160.75" y1="846.4" x2="160.75" y2="840.8" stroke-width="2"/>
<line x1="160.75" y1="509.1" x2="160.75" y2="514.3" stroke-width="2"/>
<line x1="202.5" y1="846.4" x2="202.5" y2="835.6" stroke-width="2"/>
<line x1="202.5" y1="509.1" x2="202.5" y2="518.9" stroke-width="2"/>
<line x1="244.25" y1="846.4" x2="244.25" y2="840.8" stroke-width="2"/>
<line x1="244.25" y1="509.1" x2="244.25" y2="514.3" stroke-width="2"/>
<line x1="286" y1="846.4" x2="286" y2="835.6" stroke-width="2"/>
<line x1="286" y1="509.1" x2="286" y2="518.9" stroke-width="2"/>
<line x1="327.75" y1="846.4" x2="327.75" y2="840.8" stroke-width="2"/>
<line x1="327.75" y1="509.1" x2="327.75" y2="514.3" stroke-width="2"/>
<line x1="369.5" y1="846.4" x2="369.5" y2="835.6" stroke-width="2"/>
<line x1="369.5" y1="509.1" x2="369.5" y2="518.9" stroke-width="2"/>
<line x1="411.25" y1="846.4" x2="411.25" y2="840.8" stroke-width="2"/>
<line x1="411.25" y1="509.1" x2="411.25" y2="514.3" stroke-width="2"/>
<line x1="453" y1="846.4" x2="453" y2="835.6" stroke-width="2"/>
<line x1="453" y1="509.1" x2="453" y2="518.9" stroke-width="2"/>
<line x1="494.75" y1="846.4" x2="494.75" y2="840.8" stroke-width="2"/>
<line x1="494.75" y1="509.1" x2="494.75" y2="514.3" stroke-width="2"/>
<line x1="536.5" y1="846.4" x2="536.5" y2="835.6" stroke-width="2"/>
<line x1="536.5" y1="509.1" x2="536.5" y2="518.9" stroke-width="2"/>
<line x1="578.25" y1="846.4" x2="578.25" y2="840.8" stroke-width="2"/>
<line x1="578.25" y1="509.1" x2="578.25" y2="514.3" stroke-width="2"/>
</g>
<path d="M77.25 593.65H79.34V592.87H83.51V591.55H87.69V589.83H91.86V587.69H96.04V585.12H100.21V582.14H104.39V578.8H108.56V575.19H112.74V571.42H116.91V567.62H121.09V563.93H125.26V560.47H129.44V557.34H133.61V554.6H137.79V552.29H141.96V550.41H146.14V548.93H150.31V547.81H154.49V546.99H158.66V546.41H162.84V546.02H167.01V545.76H171.19V545.59H175.36V545.49H179.54V545.43H183.71V545.4H187.89V545.38H192.06V545.37H196.24V545.36H200.41V545.36H204.59V545.36H208.76V545.36H212.94V545.36H217.11V545.36H221.29V545.36H225.46V545.36H229.64V545.36H233.81V545.36H237.99V545.36H242.16V545.36H246.34V545.36H250.51V545.36H254.69V545.36H258.86V545.36H263.04V545.36H267.21V545.36H271.39V545.36H275.56V545.36H279.74V545.36H283.91V545.36H288.09V545.36H292.26V545.36H296.44V545.36H300.61V545.36H304.79V545.36H308.96V545.36H313.14V545.36H317.31V545.36H321.49V545.36H325.66V545.36H329.84V545.36H334.01V545.36H338.19V545.36H342.36V545.36H346.54V545.36H350.71V545.36H354.89V545.36H359.06V545.36H363.24V545.36H367.41V545.36H371.59V545.36H375.76V545.36H379.94V545.36H384.11V545.36H388.29V545.36H392.46V545.36H396.64V545.36H400.81V545.36H404.99V545.36H409.16V545.36H413.34V545.36H417.51V545.36H421.69V545.36H425.86V545.36H430.04V545.36H434.21V545.36H438.39V545.36H442.56V545.36H446.74V545.36H450.91V545.36H455.09V545.36H459.26V545.36H463.44V545.36H467.61V545.36H471.79V545.36H475.96V545.37H480.14V545.38H484.31V545.41H488.49V545.46H492.66V545.57H496.84V545.76H501.01V546.11H505.19V546.73H509.36V547.75H513.54V549.4H517.71V551.96H521.89V555.75H526.06V561.18H530.24V568.65H534.41V578.54H538.59V591.13H542.76V606.55H546.94V624.7H551.11V645.26H555.29V667.66H559.46V691.13H563.64V714.79H567.81V737.72H571.99V759.1H576.16V778.27H580.34V794.8H584.51V808.52H588.69V819.46H592.86V827.86H597.04V834.06H601.21V838.46H605.39V841.46H609.56V843.43H613.74V844.68H617.91V845.28H620" fill="none" stroke="#3f8fe8" stroke-width="0.9"/>
<path d="M77.25 597.22H81.43V597.22H85.6V597.22H89.78V597.22H93.95V597.22H98.12V597.05H102.3V595.53H106.47V591.74H110.65V582.46H114.83V568.97H119V554.89H123.17V546.2H127.35V541.73H131.53V540.64H135.7V540.64H139.88V540.64H144.05V540.64H148.22V540.64H152.4V540.64H156.57V540.64H160.75V540.64H164.93V540.64H169.1V540.64H173.28V540.64H177.45V540.64H181.62V540.64H185.8V540.64H189.97V540.64H194.15V540.64H198.32V540.64H202.5V540.64H206.68V540.64H210.85V540.64H215.02V540.64H219.2V540.64H223.38V540.64H227.55V540.64H231.72V540.64H235.9V540.64H240.07V540.64H244.25V540.64H248.42V540.64H252.6V540.64H256.77V540.64H260.95V540.64H265.12V540.64H269.3V540.64H273.48V540.64H277.65V540.64H281.82V540.64H286V540.64H290.17V540.64H294.35V540.64H298.52V540.64H302.7V540.64H306.88V540.64H311.05V540.64H315.23V540.64H319.4V540.64H323.57V540.64H327.75V540.64H331.92V540.64H336.1V540.64H340.27V540.64H344.45V540.64H348.62V540.64H352.8V540.64H356.98V540.64H361.15V540.64H365.32V540.64H369.5V540.64H373.67V540.64H377.85V540.64H382.02V540.64H386.2V540.64H390.38V540.64H394.55V540.64H398.72V540.64H402.9V540.64H407.07V540.64H411.25V540.64H415.43V540.64H419.6V540.64H423.77V540.64H427.95V540.64H432.12V540.64H436.3V540.64H440.47V540.64H444.65V540.64H448.82V540.64H453V540.64H457.18V540.64H461.35V540.64H465.52V540.64H469.7V540.64H473.88V540.64H478.05V540.64H482.22V540.64H486.4V540.64H490.57V540.64H494.75V540.64H498.93V540.64H503.1V540.64H507.27V540.64H511.45V540.64H515.62V540.64H519.8V540.64H523.97V540.64H528.15V549.83H532.33V600.17H536.5V710.47H540.67V807.1H544.85V840.92H549.02V846.4H553.2V846.4H557.38V846.4H561.55V846.4H565.72V846.4H569.9V846.4H574.08V846.4H578.25" fill="none" stroke="#4d9443" stroke-width="0.9"/>
<g fill="#fff" stroke="#3f8fe8" stroke-width="0.75">
<circle cx="79.3" cy="593.65" r="2.5"/>
<circle cx="79.34" cy="593.65" r="2.5"/>
<circle cx="79.34" cy="592.87" r="2.5"/>
<circle cx="83.51" cy="592.87" r="2.5"/>
<circle cx="83.51" cy="591.55" r="2.5"/>
<circle cx="87.69" cy="591.55" r="2.5"/>
<circle cx="87.69" cy="589.83" r="2.5"/>
<circle cx="91.86" cy="589.83" r="2.5"/>
<circle cx="91.86" cy="587.69" r="2.5"/>
<circle cx="96.04" cy="587.69" r="2.5"/>
<circle cx="96.04" cy="585.12" r="2.5"/>
<circle cx="100.21" cy="585.12" r="2.5"/>
<circle cx="100.21" cy="582.14" r="2.5"/>
<circle cx="104.39" cy="582.14" r="2.5"/>
<circle cx="104.39" cy="578.8" r="2.5"/>
<circle cx="108.56" cy="578.8" r="2.5"/>
<circle cx="108.56" cy="575.19" r="2.5"/>
<circle cx="112.74" cy="575.19" r="2.5"/>
<circle cx="112.74" cy="571.42" r="2.5"/>
<circle cx="116.91" cy="571.42" r="2.5"/>
<circle cx="116.91" cy="567.62" r="2.5"/>
<circle cx="121.09" cy="567.62" r="2.5"/>
<circle cx="121.09" cy="563.93" r="2.5"/>
<circle cx="125.26" cy="563.93" r="2.5"/>
<circle cx="125.26" cy="560.47" r="2.5"/>
<circle cx="129.44" cy="560.47" r="2.5"/>
<circle cx="129.44" cy="557.34" r="2.5"/>
<circle cx="133.61" cy="557.34" r="2.5"/>
<circle cx="133.61" cy="554.6" r="2.5"/>
<circle cx="137.79" cy="554.6" r="2.5"/>
<circle cx="137.79" cy="552.29" r="2.5"/>
<circle cx="141.96" cy="552.29" r="2.5"/>
<circle cx="141.96" cy="550.41" r="2.5"/>
<circle cx="146.14" cy="550.41" r="2.5"/>
<circle cx="146.14" cy="548.93" r="2.5"/>
<circle cx="150.31" cy="548.93" r="2.5"/>
<circle cx="150.31" cy="547.81" r="2.5"/>
<circle cx="154.49" cy="547.81" r="2.5"/>
<circle cx="154.49" cy="546.99" r="2.5"/>
<circle cx="158.66" cy="546.99" r="2.5"/>
<circle cx="158.66" cy="546.41" r="2.5"/>
<circle cx="162.84" cy="546.41" r="2.5"/>
<circle cx="162.84" cy="546.02" r="2.5"/>
<circle cx="167.01" cy="546.02" r="2.5"/>
<circle cx="167.01" cy="545.76" r="2.5"/>
<circle cx="171.19" cy="545.76" r="2.5"/>
<circle cx="171.19" cy="545.59" r="2.5"/>
<circle cx="175.36" cy="545.59" r="2.5"/>
<circle cx="175.36" cy="545.49" r="2.5"/>
<circle cx="179.54" cy="545.49" r="2.5"/>
<circle cx="179.54" cy="545.43" r="2.5"/>
<circle cx="183.71" cy="545.43" r="2.5"/>
<circle cx="183.71" cy="545.4" r="2.5"/>
<circle cx="187.89" cy="545.4" r="2.5"/>
<circle cx="192.06" cy="545.38" r="2.5"/>
<circle cx="196.24" cy="545.37" r="2.5"/>
<circle cx="200.41" cy="545.36" r="2.5"/>
<circle cx="204.59" cy="545.36" r="2.5"/>
<circle cx="208.76" cy="545.36" r="2.5"/>
<circle cx="212.94" cy="545.36" r="2.5"/>
<circle cx="217.11" cy="545.36" r="2.5"/>
<circle cx="221.29" cy="545.36" r="2.5"/>
<circle cx="225.46" cy="545.36" r="2.5"/>
<circle cx="229.64" cy="545.36" r="2.5"/>
<circle cx="233.81" cy="545.36" r="2.5"/>
<circle cx="237.99" cy="545.36" r="2.5"/>
<circle cx="242.16" cy="545.36" r="2.5"/>
<circle cx="246.34" cy="545.36" r="2.5"/>
<circle cx="250.51" cy="545.36" r="2.5"/>
<circle cx="254.69" cy="545.36" r="2.5"/>
<circle cx="258.86" cy="545.36" r="2.5"/>
<circle cx="263.04" cy="545.36" r="2.5"/>
<circle cx="267.21" cy="545.36" r="2.5"/>
<circle cx="271.39" cy="545.36" r="2.5"/>
<circle cx="275.56" cy="545.36" r="2.5"/>
<circle cx="279.74" cy="545.36" r="2.5"/>
<circle cx="283.91" cy="545.36" r="2.5"/>
<circle cx="288.09" cy="545.36" r="2.5"/>
<circle cx="292.26" cy="545.36" r="2.5"/>
<circle cx="296.44" cy="545.36" r="2.5"/>
<circle cx="300.61" cy="545.36" r="2.5"/>
<circle cx="304.79" cy="545.36" r="2.5"/>
<circle cx="308.96" cy="545.36" r="2.5"/>
<circle cx="313.14" cy="545.36" r="2.5"/>
<circle cx="317.31" cy="545.36" r="2.5"/>
<circle cx="321.49" cy="545.36" r="2.5"/>
<circle cx="325.66" cy="545.36" r="2.5"/>
<circle cx="329.84" cy="545.36" r="2.5"/>
<circle cx="334.01" cy="545.36" r="2.5"/>
<circle cx="338.19" cy="545.36" r="2.5"/>
<circle cx="342.36" cy="545.36" r="2.5"/>
<circle cx="346.54" cy="545.36" r="2.5"/>
<circle cx="350.71" cy="545.36" r="2.5"/>
<circle cx="354.89" cy="545.36" r="2.5"/>
<circle cx="359.06" cy="545.36" r="2.5"/>
<circle cx="363.24" cy="545.36" r="2.5"/>
<circle cx="367.41" cy="545.36" r="2.5"/>
<circle cx="371.59" cy="545.36" r="2.5"/>
<circle cx="375.76" cy="545.36" r="2.5"/>
<circle cx="379.94" cy="545.36" r="2.5"/>
<circle cx="384.11" cy="545.36" r="2.5"/>
<circle cx="388.29" cy="545.36" r="2.5"/>
<circle cx="392.46" cy="545.36" r="2.5"/>
<circle cx="396.64" cy="545.36" r="2.5"/>
<circle cx="400.81" cy="545.36" r="2.5"/>
<circle cx="404.99" cy="545.36" r="2.5"/>
<circle cx="409.16" cy="545.36" r="2.5"/>
<circle cx="413.34" cy="545.36" r="2.5"/>
<circle cx="417.51" cy="545.36" r="2.5"/>
<circle cx="421.69" cy="545.36" r="2.5"/>
<circle cx="425.86" cy="545.36" r="2.5"/>
<circle cx="430.04" cy="545.36" r="2.5"/>
<circle cx="434.21" cy="545.36" r="2.5"/>
<circle cx="438.39" cy="545.36" r="2.5"/>
<circle cx="442.56" cy="545.36" r="2.5"/>
<circle cx="446.74" cy="545.36" r="2.5"/>
<circle cx="450.91" cy="545.36" r="2.5"/>
<circle cx="455.09" cy="545.36" r="2.5"/>
<circle cx="459.26" cy="545.36" r="2.5"/>
<circle cx="463.44" cy="545.36" r="2.5"/>
<circle cx="467.61" cy="545.36" r="2.5"/>
<circle cx="471.79" cy="545.36" r="2.5"/>
<circle cx="475.96" cy="545.36" r="2.5"/>
<circle cx="480.14" cy="545.37" r="2.5"/>
<circle cx="484.31" cy="545.38" r="2.5"/>
<circle cx="484.31" cy="545.41" r="2.5"/>
<circle cx="488.49" cy="545.41" r="2.5"/>
<circle cx="492.66" cy="545.46" r="2.5"/>
<circle cx="492.66" cy="545.57" r="2.5"/>
<circle cx="496.84" cy="545.57" r="2.5"/>
<circle cx="496.84" cy="545.76" r="2.5"/>
<circle cx="501.01" cy="545.76" r="2.5"/>
<circle cx="501.01" cy="546.11" r="2.5"/>
<circle cx="505.19" cy="546.11" r="2.5"/>
<circle cx="505.19" cy="546.73" r="2.5"/>
<circle cx="509.36" cy="546.73" r="2.5"/>
<circle cx="509.36" cy="547.75" r="2.5"/>
<circle cx="513.54" cy="547.75" r="2.5"/>
<circle cx="513.54" cy="549.4" r="2.5"/>
<circle cx="517.71" cy="549.4" r="2.5"/>
<circle cx="517.71" cy="551.96" r="2.5"/>
<circle cx="521.89" cy="551.96" r="2.5"/>
<circle cx="521.89" cy="555.75" r="2.5"/>
<circle cx="526.06" cy="555.75" r="2.5"/>
<circle cx="526.06" cy="561.18" r="2.5"/>
<circle cx="530.24" cy="561.18" r="2.5"/>
<circle cx="530.24" cy="568.65" r="2.5"/>
<circle cx="534.41" cy="568.65" r="2.5"/>
<circle cx="534.41" cy="578.54" r="2.5"/>
<circle cx="538.59" cy="578.54" r="2.5"/>
<circle cx="538.59" cy="591.13" r="2.5"/>
<circle cx="542.76" cy="591.13" r="2.5"/>
<circle cx="542.76" cy="606.55" r="2.5"/>
<circle cx="546.94" cy="606.55" r="2.5"/>
<circle cx="546.94" cy="624.7" r="2.5"/>
<circle cx="551.11" cy="624.7" r="2.5"/>
<circle cx="551.11" cy="645.26" r="2.5"/>
<circle cx="555.29" cy="645.26" r="2.5"/>
<circle cx="555.29" cy="667.66" r="2.5"/>
<circle cx="559.46" cy="667.66" r="2.5"/>
<circle cx="559.46" cy="691.13" r="2.5"/>
<circle cx="563.64" cy="691.13" r="2.5"/>
<circle cx="563.64" cy="714.79" r="2.5"/>
<circle cx="567.81" cy="714.79" r="2.5"/>
<circle cx="567.81" cy="737.72" r="2.5"/>
<circle cx="571.99" cy="737.72" r="2.5"/>
<circle cx="571.99" cy="759.1" r="2.5"/>
<circle cx="576.16" cy="759.1" r="2.5"/>
<circle cx="576.16" cy="778.27" r="2.5"/>
<circle cx="580.34" cy="778.27" r="2.5"/>
<circle cx="580.34" cy="794.8" r="2.5"/>
<circle cx="584.51" cy="794.8" r="2.5"/>
<circle cx="584.51" cy="808.52" r="2.5"/>
<circle cx="588.69" cy="808.52" r="2.5"/>
<circle cx="588.69" cy="819.46" r="2.5"/>
<circle cx="592.86" cy="819.46" r="2.5"/>
<circle cx="592.86" cy="827.86" r="2.5"/>
<circle cx="597.04" cy="827.86" r="2.5"/>
<circle cx="597.04" cy="834.06" r="2.5"/>
<circle cx="601.21" cy="834.06" r="2.5"/>
<circle cx="601.21" cy="838.46" r="2.5"/>
<circle cx="605.39" cy="838.46" r="2.5"/>
<circle cx="605.39" cy="841.46" r="2.5"/>
<circle cx="609.56" cy="841.46" r="2.5"/>
<circle cx="609.56" cy="843.43" r="2.5"/>
<circle cx="613.74" cy="843.43" r="2.5"/>
<circle cx="613.74" cy="844.68" r="2.5"/>
<circle cx="617.91" cy="844.68" r="2.5"/>
<circle cx="617.91" cy="845.28" r="2.5"/>
<circle cx="620" cy="845.28" r="2.5"/>
</g>
<g fill="#fff" stroke="#4d9443" stroke-width="0.75">
<rect x="76.95" y="594.87" width="4.7" height="4.7"/>
<rect x="79.08" y="594.87" width="4.7" height="4.7"/>
<rect x="83.25" y="594.87" width="4.7" height="4.7"/>
<rect x="87.43" y="594.87" width="4.7" height="4.7"/>
<rect x="91.6" y="594.87" width="4.7" height="4.7"/>
<rect x="95.78" y="594.87" width="4.7" height="4.7"/>
<rect x="95.78" y="594.7" width="4.7" height="4.7"/>
<rect x="99.95" y="594.7" width="4.7" height="4.7"/>
<rect x="99.95" y="593.18" width="4.7" height="4.7"/>
<rect x="104.12" y="593.18" width="4.7" height="4.7"/>
<rect x="104.12" y="589.39" width="4.7" height="4.7"/>
<rect x="108.3" y="589.39" width="4.7" height="4.7"/>
<rect x="108.3" y="580.11" width="4.7" height="4.7"/>
<rect x="112.48" y="580.11" width="4.7" height="4.7"/>
<rect x="112.48" y="566.62" width="4.7" height="4.7"/>
<rect x="116.65" y="566.62" width="4.7" height="4.7"/>
<rect x="116.65" y="552.54" width="4.7" height="4.7"/>
<rect x="120.83" y="552.54" width="4.7" height="4.7"/>
<rect x="120.83" y="543.85" width="4.7" height="4.7"/>
<rect x="125" y="543.85" width="4.7" height="4.7"/>
<rect x="125" y="539.38" width="4.7" height="4.7"/>
<rect x="129.18" y="539.38" width="4.7" height="4.7"/>
<rect x="129.18" y="538.29" width="4.7" height="4.7"/>
<rect x="133.35" y="538.29" width="4.7" height="4.7"/>
<rect x="137.53" y="538.29" width="4.7" height="4.7"/>
<rect x="141.7" y="538.29" width="4.7" height="4.7"/>
<rect x="145.88" y="538.29" width="4.7" height="4.7"/>
<rect x="150.05" y="538.29" width="4.7" height="4.7"/>
<rect x="154.22" y="538.29" width="4.7" height="4.7"/>
<rect x="158.4" y="538.29" width="4.7" height="4.7"/>
<rect x="162.58" y="538.29" width="4.7" height="4.7"/>
<rect x="166.75" y="538.29" width="4.7" height="4.7"/>
<rect x="170.93" y="538.29" width="4.7" height="4.7"/>
<rect x="175.1" y="538.29" width="4.7" height="4.7"/>
<rect x="179.28" y="538.29" width="4.7" height="4.7"/>
<rect x="183.45" y="538.29" width="4.7" height="4.7"/>
<rect x="187.62" y="538.29" width="4.7" height="4.7"/>
<rect x="191.8" y="538.29" width="4.7" height="4.7"/>
<rect x="195.97" y="538.29" width="4.7" height="4.7"/>
<rect x="200.15" y="538.29" width="4.7" height="4.7"/>
<rect x="204.33" y="538.29" width="4.7" height="4.7"/>
<rect x="208.5" y="538.29" width="4.7" height="4.7"/>
<rect x="212.67" y="538.29" width="4.7" height="4.7"/>
<rect x="216.85" y="538.29" width="4.7" height="4.7"/>
<rect x="221.03" y="538.29" width="4.7" height="4.7"/>
<rect x="225.2" y="538.29" width="4.7" height="4.7"/>
<rect x="229.38" y="538.29" width="4.7" height="4.7"/>
<rect x="233.55" y="538.29" width="4.7" height="4.7"/>
<rect x="237.72" y="538.29" width="4.7" height="4.7"/>
<rect x="241.9" y="538.29" width="4.7" height="4.7"/>
<rect x="246.07" y="538.29" width="4.7" height="4.7"/>
<rect x="250.25" y="538.29" width="4.7" height="4.7"/>
<rect x="254.42" y="538.29" width="4.7" height="4.7"/>
<rect x="258.6" y="538.29" width="4.7" height="4.7"/>
<rect x="262.77" y="538.29" width="4.7" height="4.7"/>
<rect x="266.95" y="538.29" width="4.7" height="4.7"/>
<rect x="271.12" y="538.29" width="4.7" height="4.7"/>
<rect x="275.3" y="538.29" width="4.7" height="4.7"/>
<rect x="279.47" y="538.29" width="4.7" height="4.7"/>
<rect x="283.65" y="538.29" width="4.7" height="4.7"/>
<rect x="287.82" y="538.29" width="4.7" height="4.7"/>
<rect x="292" y="538.29" width="4.7" height="4.7"/>
<rect x="296.17" y="538.29" width="4.7" height="4.7"/>
<rect x="300.35" y="538.29" width="4.7" height="4.7"/>
<rect x="304.52" y="538.29" width="4.7" height="4.7"/>
<rect x="308.7" y="538.29" width="4.7" height="4.7"/>
<rect x="312.88" y="538.29" width="4.7" height="4.7"/>
<rect x="317.05" y="538.29" width="4.7" height="4.7"/>
<rect x="321.22" y="538.29" width="4.7" height="4.7"/>
<rect x="325.4" y="538.29" width="4.7" height="4.7"/>
<rect x="329.57" y="538.29" width="4.7" height="4.7"/>
<rect x="333.75" y="538.29" width="4.7" height="4.7"/>
<rect x="337.92" y="538.29" width="4.7" height="4.7"/>
<rect x="342.1" y="538.29" width="4.7" height="4.7"/>
<rect x="346.27" y="538.29" width="4.7" height="4.7"/>
<rect x="350.45" y="538.29" width="4.7" height="4.7"/>
<rect x="354.62" y="538.29" width="4.7" height="4.7"/>
<rect x="358.8" y="538.29" width="4.7" height="4.7"/>
<rect x="362.97" y="538.29" width="4.7" height="4.7"/>
<rect x="367.15" y="538.29" width="4.7" height="4.7"/>
<rect x="371.32" y="538.29" width="4.7" height="4.7"/>
<rect x="375.5" y="538.29" width="4.7" height="4.7"/>
<rect x="379.67" y="538.29" width="4.7" height="4.7"/>
<rect x="383.85" y="538.29" width="4.7" height="4.7"/>
<rect x="388.02" y="538.29" width="4.7" height="4.7"/>
<rect x="392.2" y="538.29" width="4.7" height="4.7"/>
<rect x="396.37" y="538.29" width="4.7" height="4.7"/>
<rect x="400.55" y="538.29" width="4.7" height="4.7"/>
<rect x="404.72" y="538.29" width="4.7" height="4.7"/>
<rect x="408.9" y="538.29" width="4.7" height="4.7"/>
<rect x="413.07" y="538.29" width="4.7" height="4.7"/>
<rect x="417.25" y="538.29" width="4.7" height="4.7"/>
<rect x="421.42" y="538.29" width="4.7" height="4.7"/>
<rect x="425.6" y="538.29" width="4.7" height="4.7"/>
<rect x="429.77" y="538.29" width="4.7" height="4.7"/>
<rect x="433.95" y="538.29" width="4.7" height="4.7"/>
<rect x="438.12" y="538.29" width="4.7" height="4.7"/>
<rect x="442.3" y="538.29" width="4.7" height="4.7"/>
<rect x="446.47" y="538.29" width="4.7" height="4.7"/>
<rect x="450.65" y="538.29" width="4.7" height="4.7"/>
<rect x="454.82" y="538.29" width="4.7" height="4.7"/>
<rect x="459" y="538.29" width="4.7" height="4.7"/>
<rect x="463.17" y="538.29" width="4.7" height="4.7"/>
<rect x="467.35" y="538.29" width="4.7" height="4.7"/>
<rect x="471.52" y="538.29" width="4.7" height="4.7"/>
<rect x="475.7" y="538.29" width="4.7" height="4.7"/>
<rect x="479.87" y="538.29" width="4.7" height="4.7"/>
<rect x="484.05" y="538.29" width="4.7" height="4.7"/>
<rect x="488.22" y="538.29" width="4.7" height="4.7"/>
<rect x="492.4" y="538.29" width="4.7" height="4.7"/>
<rect x="496.57" y="538.29" width="4.7" height="4.7"/>
<rect x="500.75" y="538.29" width="4.7" height="4.7"/>
<rect x="504.92" y="538.29" width="4.7" height="4.7"/>
<rect x="509.1" y="538.29" width="4.7" height="4.7"/>
<rect x="513.27" y="538.29" width="4.7" height="4.7"/>
<rect x="517.45" y="538.29" width="4.7" height="4.7"/>
<rect x="521.62" y="538.29" width="4.7" height="4.7"/>
<rect x="525.8" y="538.29" width="4.7" height="4.7"/>
<rect x="525.8" y="547.48" width="4.7" height="4.7"/>
<rect x="529.98" y="547.48" width="4.7" height="4.7"/>
<rect x="529.98" y="597.82" width="4.7" height="4.7"/>
<rect x="534.15" y="597.82" width="4.7" height="4.7"/>
<rect x="534.15" y="708.12" width="4.7" height="4.7"/>
<rect x="538.32" y="708.12" width="4.7" height="4.7"/>
<rect x="538.32" y="804.75" width="4.7" height="4.7"/>
<rect x="542.5" y="804.75" width="4.7" height="4.7"/>
<rect x="542.5" y="838.57" width="4.7" height="4.7"/>
<rect x="546.67" y="838.57" width="4.7" height="4.7"/>
<rect x="546.67" y="844.05" width="4.7" height="4.7"/>
<rect x="550.85" y="844.05" width="4.7" height="4.7"/>
<rect x="555.02" y="844.05" width="4.7" height="4.7"/>
<rect x="559.2" y="844.05" width="4.7" height="4.7"/>
<rect x="563.37" y="844.05" width="4.7" height="4.7"/>
<rect x="567.55" y="844.05" width="4.7" height="4.7"/>
<rect x="571.73" y="844.05" width="4.7" height="4.7"/>
<rect x="575.9" y="844.05" width="4.7" height="4.7"/>
</g>
<path d="M77.25 846.4H81.43V846.39H85.6V846.38H89.78V846.37H93.95V846.35H98.12V846.32H102.3V846.26H106.47V846.16H110.65V846.02H114.83V845.8H119V845.46H123.17V844.98H127.35V844.29H131.53V843.32H135.7V842.01H139.88V840.26H144.05V837.98H148.22V835.08H152.4V831.48H156.57V827.1H160.75V821.9H164.93V815.87H169.1V809.03H173.28V801.44H177.45V793.22H181.62V784.52H185.8V775.51H189.97V766.4H194.15V757.39H198.32V748.69H202.5V740.47H206.68V732.88H210.85V726.04H215.02V720.01H219.2V714.81H223.38V710.43H227.55V706.83H231.72V703.93H235.9V701.65H240.07V699.9H244.25V698.59H248.42V697.62H252.6V696.93H256.77V696.45H260.95V696.11H265.12V695.89H269.3V695.75H273.48V695.65H277.65V695.59H281.82V695.56H286V695.54H290.17V695.53H294.35V695.52H298.52V695.51H302.7V695.51H306.88V695.51H311.05V695.51H315.23V695.51H319.4V695.51H323.57V695.51H327.75V695.51H331.92V695.51H336.1V695.51H340.27V695.51H344.45V695.51H348.62V695.51H352.8V695.51H356.98V695.51H361.15V695.51H365.32V695.51H369.5V695.51H373.67V695.51H377.85V695.51H382.02V695.51H386.2V695.51H390.38V695.51H394.55V695.51H398.72V695.51H402.9V695.51H407.07V695.51H411.25V695.51H415.43V695.51H419.6V695.51H423.77V695.51H427.95V695.51H432.12V695.51H436.3V695.51H440.47V695.51H444.65V695.51H448.82V695.51H453V695.51H457.18V695.51H461.35V695.51H465.52V695.51H469.7V695.51H473.88V695.51H478.05V695.51H482.22V695.52H486.4V695.54H490.57V695.56H494.75V695.62H498.93V695.74H503.1V695.94H507.27V696.31H511.45V696.92H515.62V697.92H519.8V699.48H523.97V701.79H528.15V705.1H532.33V709.62H536.5V715.54H540.67V722.99H544.85V731.97H549.02V742.34H553.2V753.82H557.38V766H561.55V778.38H565.72V790.46H569.9V801.74H574.08V811.85H578.25V820.53H582.42V827.67H586.6V833.31H590.77V837.56H594.95V840.65H599.12V842.8H603.3V844.22H607.47V845.13H611.65V845.69H615.83V846.02H620" fill="none" stroke="#1a82ee" stroke-width="2.5" stroke-linejoin="miter" clip-path="url(#clipc)"/>
<path d="M77.25 846.4H81.43V846.4H85.6V846.4H89.78V846.4H93.95V846.4H98.12V846.4H102.3V846.4H106.47V844.11H110.65V837.92H114.83V829.13H119V820.73H123.17V815.46H127.35V812.78H131.53V811.49H135.7V810.35H139.88V809.2H144.05V807.82H148.22V806.24H152.4V804.47H156.57V802.45H160.75V800.28H164.93V798H169.1V795.41H173.28V792.25H177.45V788.5H181.62V784.4H185.8V779.84H189.97V774.86H194.15V769.51H198.32V763.7H202.5V757.31H206.68V750.12H210.85V742.5H215.02V734.76H219.2V726.77H223.38V718.66H227.55V710.37H231.72V702.1H235.9V694.01H240.07V686.04H244.25V678.33H248.42V670.83H252.6V663.66H256.77V656.82H260.95V650.31H265.12V644.62H269.3V639.63H273.48V635.21H277.65V631.31H281.82V627.84H286V624.68H290.17V621.75H294.35V619.18H298.52V617.04H302.7V615.2H306.88V613.75H311.05V612.57H315.23V611.63H319.4V610.9H323.57V610.3H327.75V609.8H331.92V609.35H336.1V608.94H340.27V608.6H344.45V608.34H348.62V608.11H352.8V607.88H356.98V607.68H361.15V607.53H365.32V607.44H369.5V607.42H373.67V607.42H377.85V607.42H382.02V607.42H386.2V607.42H390.38V607.42H394.55V607.42H398.72V607.42H402.9V607.42H407.07V607.42H411.25V607.42H415.43V607.42H419.6V607.42H423.77V607.42H427.95V607.42H432.12V607.42H436.3V607.42H440.47V607.42H444.65V607.42H448.82V607.42H453V607.42H457.18V607.42H461.35V607.42H465.52V607.42H469.7V607.42H473.88V607.42H478.05V607.42H482.22V607.42H486.4V607.42H490.57V607.42H494.75V607.42H498.93V607.42H503.1V607.42H507.27V607.42H511.45V607.42H515.62V607.42H519.8V607.42H523.97V609.56H528.15V614.91H532.33V654.64H536.5V739.44H540.67V815.84H544.85V842.58H549.02V846.4H553.2V846.4H557.38V846.4H561.55V846.4H565.72V846.4H569.9V846.4H574.08V846.4H578.25V846.4H582.42V846.4H586.6V846.4H590.77V846.4H594.95V846.4H599.12V846.4H603.3V846.4H607.47" fill="none" stroke="#158215" stroke-width="2.5" stroke-linejoin="miter" clip-path="url(#clipc)"/>
<line x1="97.6" y1="543" x2="116.7" y2="543" stroke="#158215" stroke-width="2"/>
<path d="M87.6 543L102.4 538.85L102.4 547.15Z" fill="#158215"/>
<line x1="478.4" y1="556.7" x2="511.4" y2="556.7" stroke="#1a82ee" stroke-width="2"/>
<path d="M468.4 556.7L483.2 552.55L483.2 560.85Z" fill="#1a82ee"/>
<line x1="275.2" y1="656.1" x2="303.8" y2="656.1" stroke="#158215" stroke-width="2"/>
<path d="M313.8 656.1L299 651.95L299 660.25Z" fill="#158215"/>
<line x1="172.8" y1="812.4" x2="201.6" y2="812.4" stroke="#1a82ee" stroke-width="2"/>
<path d="M211.6 812.4L196.8 808.25L196.8 816.55Z" fill="#1a82ee"/>
<rect x="77.6" y="509.1" width="542.6" height="337.3" fill="none" stroke="#000" stroke-width="2.3"/>
<text transform="translate(38.5,852.9) scale(0.9500,1)" font-size="20.2" fill="#000" font-family='"Liberation Sans", Arial, sans-serif' >0.0</text>
<text transform="translate(38.59,810.74) scale(0.9500,1)" font-size="20.2" fill="#000" font-family='"Liberation Sans", Arial, sans-serif' >0.5</text>
<text transform="translate(38.5,768.58) scale(0.9500,1)" font-size="20.2" fill="#000" font-family='"Liberation Sans", Arial, sans-serif' >1.0</text>
<text transform="translate(38.59,726.41) scale(0.9500,1)" font-size="20.2" fill="#000" font-family='"Liberation Sans", Arial, sans-serif' >1.5</text>
<text transform="translate(38.5,684.25) scale(0.9500,1)" font-size="20.2" fill="#000" font-family='"Liberation Sans", Arial, sans-serif' >2.0</text>
<text transform="translate(38.59,642.09) scale(0.9500,1)" font-size="20.2" fill="#000" font-family='"Liberation Sans", Arial, sans-serif' >2.5</text>
<text transform="translate(38.5,599.92) scale(0.9500,1)" font-size="20.2" fill="#000" font-family='"Liberation Sans", Arial, sans-serif' >3.0</text>
<text transform="translate(38.59,557.76) scale(0.9500,1)" font-size="20.2" fill="#000" font-family='"Liberation Sans", Arial, sans-serif' >3.5</text>
<text transform="translate(38.5,515.6) scale(0.9500,1)" font-size="20.2" fill="#000" font-family='"Liberation Sans", Arial, sans-serif' >4.0</text>
<text transform="translate(631.83,851.9) scale(0.9500,1)" font-size="20.2" fill="#000" font-family='"Liberation Sans", Arial, sans-serif' >0</text>
<text transform="translate(631.16,775.5) scale(0.9500,1)" font-size="20.2" fill="#000" font-family='"Liberation Sans", Arial, sans-serif' >1</text>
<text transform="translate(631.64,699.1) scale(0.9500,1)" font-size="20.2" fill="#000" font-family='"Liberation Sans", Arial, sans-serif' >2</text>
<text transform="translate(631.93,622.7) scale(0.9500,1)" font-size="20.2" fill="#000" font-family='"Liberation Sans", Arial, sans-serif' >3</text>
<text transform="translate(632.22,546.3) scale(0.9500,1)" font-size="20.2" fill="#000" font-family='"Liberation Sans", Arial, sans-serif' >4</text>
<text transform="translate(113.33,874.1) scale(0.9500,1)" font-size="20.2" fill="#000" font-family='"Liberation Sans", Arial, sans-serif' >0</text>
<text transform="translate(191.41,874.1) scale(0.9500,1)" font-size="20.2" fill="#000" font-family='"Liberation Sans", Arial, sans-serif' >20</text>
<text transform="translate(275.19,874.1) scale(0.9500,1)" font-size="20.2" fill="#000" font-family='"Liberation Sans", Arial, sans-serif' >40</text>
<text transform="translate(358.41,874.1) scale(0.9500,1)" font-size="20.2" fill="#000" font-family='"Liberation Sans", Arial, sans-serif' >60</text>
<text transform="translate(442,874.1) scale(0.9500,1)" font-size="20.2" fill="#000" font-family='"Liberation Sans", Arial, sans-serif' >80</text>
<text transform="translate(519.84,874.1) scale(0.9500,1)" font-size="20.2" fill="#000" font-family='"Liberation Sans", Arial, sans-serif' >100</text>
<text transform="translate(603.34,874.1) scale(0.9500,1)" font-size="20.2" fill="#000" font-family='"Liberation Sans", Arial, sans-serif' >120</text>
<text transform="translate(587.27,533.8) scale(1.0000,1)" font-size="15.8" fill="#000" font-family='"Liberation Sans", Arial, sans-serif' >c)</text>
<text transform="translate(323.47,915.5) scale(0.9500,1)" font-size="24.4" fill="#000" font-family='"Liberation Sans", Arial, sans-serif' >z</text>
<text transform="translate(342.31,915.5) scale(0.9500,1)" font-size="24.4" fill="#000" font-family='"Liberation Sans", Arial, sans-serif' >(</text>
<text transform="translate(350.3,915.5) scale(0.9500,1)" font-size="24.4" fill="#000" font-family='"Liberation Sans", Arial, sans-serif' >Å</text>
<text transform="translate(366.58,915.5) scale(0.9500,1)" font-size="24.4" fill="#000" font-family='"Liberation Sans", Arial, sans-serif' >)</text>
<text transform="translate(25,739.13) rotate(-90) scale(1,0.980)" font-size="24.3" font-family='"Liberation Sans", Arial, sans-serif'>ρ</text>
<text transform="translate(25,719.08) rotate(-90) scale(1,0.980)" font-size="24.3" font-family='"Liberation Sans", Arial, sans-serif'>(</text>
<text transform="translate(25,708.27) rotate(-90) scale(1,0.980)" font-size="24.3" font-family='"Liberation Sans", Arial, sans-serif'>10</text>
<text transform="translate(11.5,679.05) rotate(-90) scale(1,0.980)" font-size="14.2" font-family='"Liberation Sans", Arial, sans-serif'>-6</text>
<text transform="translate(25,657.58) rotate(-90) scale(1,0.980)" font-size="24.3" font-family='"Liberation Sans", Arial, sans-serif'>Å</text>
<text transform="translate(11.5,639.48) rotate(-90) scale(1,0.980)" font-size="14.2" font-family='"Liberation Sans", Arial, sans-serif'>-2</text>
<text transform="translate(25,625.14) rotate(-90) scale(1,0.980)" font-size="24.3" font-family='"Liberation Sans", Arial, sans-serif'>)</text>
<text transform="translate(673,742.08) rotate(-90) scale(1,1.000)" font-size="29" font-family='"Liberation Sans", Arial, sans-serif'>M</text>
<text transform="translate(673,710.23) rotate(-90) scale(1,1.000)" font-size="29" font-family='"Liberation Sans", Arial, sans-serif'>(</text>
<text transform="translate(673,700.37) rotate(-90) scale(1,1.000)" font-size="29" font-family='"Liberation Sans", Arial, sans-serif'>μ</text>
<text transform="translate(683.3,683.13) rotate(-90) scale(1,1.000)" font-size="17.2" font-family='"Liberation Sans", Arial, sans-serif'>B</text>
<text transform="translate(673,671.51) rotate(-90) scale(1,1.000)" font-size="29" font-family='"Liberation Sans", Arial, sans-serif'>/</text>
<text transform="translate(673,663.58) rotate(-90) scale(1,1.000)" font-size="29" font-family='"Liberation Sans", Arial, sans-serif'>M</text>
<text transform="translate(673,638.92) rotate(-90) scale(1,1.000)" font-size="29" font-family='"Liberation Sans", Arial, sans-serif'>n</text>
<text transform="translate(673,622.44) rotate(-90) scale(1,1.000)" font-size="29" font-family='"Liberation Sans", Arial, sans-serif'>)</text>
</g>
</svg>
</body></html>
